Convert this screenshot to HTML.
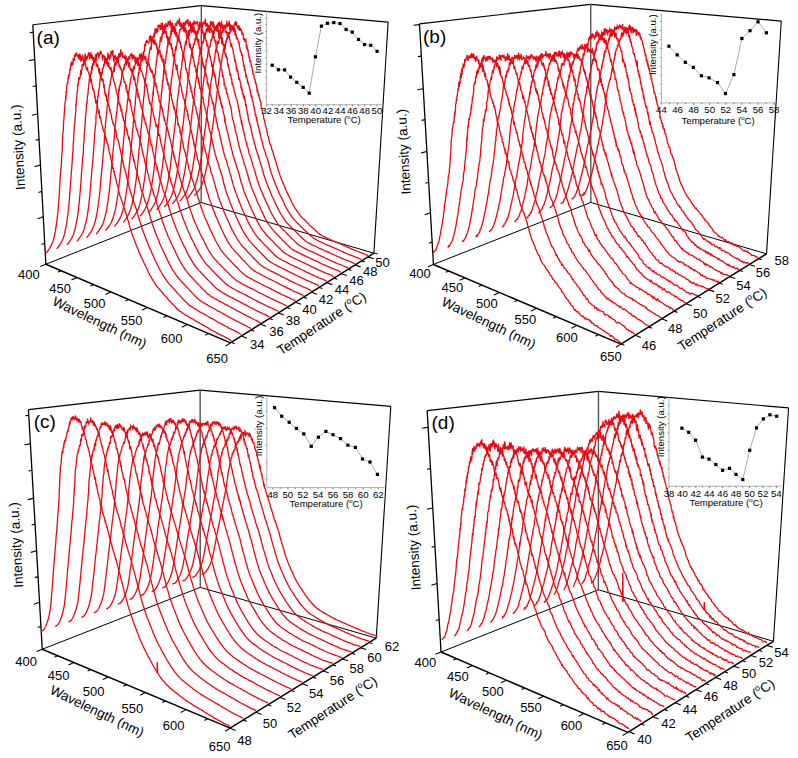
<!DOCTYPE html>
<html><head><meta charset="utf-8"><style>
html,body{margin:0;padding:0;background:#fff;}
svg{display:block;}
text{font-family:"Liberation Sans", sans-serif;fill:#000;}
</style></head><body>
<svg width="798" height="758" viewBox="0 0 798 758">
<rect width="798" height="758" fill="#fff"/>
<g id="pa">
<line x1="32.81" y1="24.73" x2="201.31" y2="5.67" stroke="#000" stroke-width="1.2"/>
<line x1="201.31" y1="5.67" x2="388.12" y2="22.06" stroke="#000" stroke-width="1.2"/>
<line x1="45.86" y1="264.22" x2="32.81" y2="24.73" stroke="#000" stroke-width="1.3"/>
<line x1="201.2" y1="202.56" x2="201.31" y2="5.67" stroke="#555" stroke-width="1.4"/>
<line x1="373.9" y1="253.17" x2="388.12" y2="22.06" stroke="#000" stroke-width="1.1"/>
<line x1="45.86" y1="264.22" x2="201.2" y2="202.56" stroke="#000" stroke-width="1.0"/>
<line x1="201.2" y1="202.56" x2="373.9" y2="253.17" stroke="#000" stroke-width="1.0"/>
<line x1="45.86" y1="264.22" x2="230.43" y2="342.92" stroke="#000" stroke-width="1.5"/>
<line x1="230.43" y1="342.92" x2="373.9" y2="253.17" stroke="#000" stroke-width="1.5"/>
<line x1="33.22" y1="32.2" x2="29.74" y2="32.62" stroke="#000" stroke-width="1.1"/>
<line x1="34.71" y1="59.6" x2="28.78" y2="60.51" stroke="#000" stroke-width="1.1"/>
<line x1="36.15" y1="85.9" x2="32.7" y2="86.54" stroke="#000" stroke-width="1.1"/>
<line x1="37.68" y1="114" x2="31.81" y2="115.28" stroke="#000" stroke-width="1.1"/>
<line x1="39.06" y1="139.4" x2="35.66" y2="140.24" stroke="#000" stroke-width="1.1"/>
<line x1="40.46" y1="165" x2="34.68" y2="166.61" stroke="#000" stroke-width="1.1"/>
<line x1="41.89" y1="191.4" x2="38.55" y2="192.44" stroke="#000" stroke-width="1.1"/>
<line x1="43.28" y1="216.8" x2="37.6" y2="218.73" stroke="#000" stroke-width="1.1"/>
<line x1="44.72" y1="243.2" x2="41.44" y2="244.42" stroke="#000" stroke-width="1.1"/>
<line x1="45.86" y1="264.22" x2="40.29" y2="266.43" stroke="#000" stroke-width="1.1"/>
<line x1="61.16" y1="270.74" x2="57.92" y2="272.08" stroke="#000" stroke-width="1.1"/>
<line x1="77.05" y1="277.52" x2="71.53" y2="279.88" stroke="#000" stroke-width="1.1"/>
<line x1="93.57" y1="284.56" x2="90.37" y2="285.99" stroke="#000" stroke-width="1.1"/>
<line x1="110.75" y1="291.89" x2="105.31" y2="294.42" stroke="#000" stroke-width="1.1"/>
<line x1="128.64" y1="299.52" x2="125.49" y2="301.05" stroke="#000" stroke-width="1.1"/>
<line x1="147.29" y1="307.47" x2="141.94" y2="310.19" stroke="#000" stroke-width="1.1"/>
<line x1="166.73" y1="315.76" x2="163.65" y2="317.41" stroke="#000" stroke-width="1.1"/>
<line x1="187.04" y1="324.42" x2="181.8" y2="327.35" stroke="#000" stroke-width="1.1"/>
<line x1="208.25" y1="333.46" x2="205.24" y2="335.24" stroke="#000" stroke-width="1.1"/>
<line x1="230.43" y1="342.92" x2="225.35" y2="346.11" stroke="#000" stroke-width="1.1"/>
<line x1="231.45" y1="342.29" x2="234.67" y2="343.66" stroke="#000" stroke-width="1.1"/>
<line x1="241.4" y1="336.06" x2="246.94" y2="338.36" stroke="#000" stroke-width="1.1"/>
<line x1="251.06" y1="330.02" x2="254.3" y2="331.33" stroke="#000" stroke-width="1.1"/>
<line x1="260.44" y1="324.15" x2="266.02" y2="326.36" stroke="#000" stroke-width="1.1"/>
<line x1="269.55" y1="318.45" x2="272.81" y2="319.71" stroke="#000" stroke-width="1.1"/>
<line x1="278.4" y1="312.91" x2="284.01" y2="315.03" stroke="#000" stroke-width="1.1"/>
<line x1="287" y1="307.53" x2="290.29" y2="308.74" stroke="#000" stroke-width="1.1"/>
<line x1="295.37" y1="302.3" x2="301.01" y2="304.34" stroke="#000" stroke-width="1.1"/>
<line x1="303.51" y1="297.2" x2="306.81" y2="298.37" stroke="#000" stroke-width="1.1"/>
<line x1="311.43" y1="292.25" x2="317.1" y2="294.21" stroke="#000" stroke-width="1.1"/>
<line x1="319.15" y1="287.42" x2="322.46" y2="288.55" stroke="#000" stroke-width="1.1"/>
<line x1="326.66" y1="282.72" x2="332.35" y2="284.62" stroke="#000" stroke-width="1.1"/>
<line x1="333.98" y1="278.14" x2="337.3" y2="279.23" stroke="#000" stroke-width="1.1"/>
<line x1="341.11" y1="273.68" x2="346.82" y2="275.51" stroke="#000" stroke-width="1.1"/>
<line x1="348.06" y1="269.33" x2="351.4" y2="270.38" stroke="#000" stroke-width="1.1"/>
<line x1="354.84" y1="265.09" x2="360.57" y2="266.86" stroke="#000" stroke-width="1.1"/>
<line x1="361.46" y1="260.95" x2="364.8" y2="261.97" stroke="#000" stroke-width="1.1"/>
<line x1="367.91" y1="256.91" x2="373.66" y2="258.63" stroke="#000" stroke-width="1.1"/>
<line x1="374.21" y1="252.97" x2="377.57" y2="253.95" stroke="#000" stroke-width="1.1"/>
<text x="28.8" y="279.4" font-size="13" text-anchor="middle">400</text>
<text x="60.2" y="293" font-size="13" text-anchor="middle">450</text>
<text x="94.7" y="308.3" font-size="13" text-anchor="middle">500</text>
<text x="131.6" y="325.1" font-size="13" text-anchor="middle">550</text>
<text x="171.7" y="342.6" font-size="13" text-anchor="middle">600</text>
<text x="217.2" y="362.5" font-size="13" text-anchor="middle">650</text>
<text x="257.2" y="349.3" font-size="13" text-anchor="middle">34</text>
<text x="276.5" y="336.3" font-size="13" text-anchor="middle">36</text>
<text x="293" y="324.7" font-size="13" text-anchor="middle">38</text>
<text x="309.6" y="314.3" font-size="13" text-anchor="middle">40</text>
<text x="326.1" y="303.8" font-size="13" text-anchor="middle">42</text>
<text x="342.1" y="294.4" font-size="13" text-anchor="middle">44</text>
<text x="356.5" y="285.3" font-size="13" text-anchor="middle">46</text>
<text x="370.2" y="275.7" font-size="13" text-anchor="middle">48</text>
<text x="382.6" y="267.4" font-size="13" text-anchor="middle">50</text>
<text x="97.7" y="326.6" font-size="13.5" text-anchor="middle" transform="rotate(25.5 97.7 326.6)">Wavelength (nm)</text>
<text x="324.1" y="327.3" font-size="13.5" text-anchor="middle" transform="rotate(-33.3 324.1 327.3)">Temperature (<tspan font-size="8.5" dy="-5.5">o</tspan><tspan dy="5.5">C)</tspan></text>
<text x="22.8" y="147" font-size="13.5" text-anchor="middle" transform="rotate(-93.13 22.8 147)">Intensity (a.u.)</text>
<text x="36.6" y="43.7" font-size="19" text-anchor="start">(a)</text>
<g fill="none" stroke="#ee0610" stroke-width="1.3">
<path d="M194.4 195.7l.6-.6 .6-.5 .6-.9 .6-.8 .6-.8 .6-.8 .6-.7 .6-.9 .6-.8 .6-1 .6-1.2 .6-1.4 .6-1.5 .6-1.7 .6-1.9 .6-2.1 .6-1.9 .6-2.3 .6-2.7 .6-2.9 .7-3.2 .6-3.7 .6-3.1 .6-4.1 .7-4.5 .6-4.8 .6-4.1 .7-5.3 .6-5.5 .7-4.1 .3-2.5 .3-2.1 .4-3.2 .3-1.8 .3-2.2 .3-2.7 .4-3.5 .3-2.1 .3-1.5 .4-2.4 .3-5 .3-.8 .4-4.2 .3-1.7 .3-3.2 .4-1.5 .3-.8 .4-6.2 .3-.9 .3-2.2 .4-4.4 .3-1.3 .4-2.8 .3-.7 .3-2.6 .4-2.6 .3-.6 .4-4 .3-1.4 .3-.7 .4-1.6 .3-3.5 .4 .1 .3-2.3 .4-1 .3-.4 .3 3.7 .4-7 .3-1.9 .3 1.4 .4-1 .4-3.8 .3 2.7 .3-5.3 .4 .2 .3-2.4 .3 1.8 .4-1.1 .3-1.1 .3 2.6 .4-1.9 .4-4.4 .3 2.9 .3 0 .4-3 .4-2.5 .3 2.5 .3 0 .4-.8 .3-1.2 .3 3.6 .4-4.1 .3-.4 .4-1.5 .3-.3 .4 .7 .3-2.9 .3 4 .4 .3 .3-3.4 .4 3.3 .3 1.6 .3 .3 .4-.7 .3 3.1 .4-4.3 .3 1.9 .3-1.5 .3 5 .4-.9 .3 1.1 .4-1.8 .3 .9 .3-.1 .4 .7 .3 4 .3-1.9 .4 1.1 .3 1 .3-.2 .3 5.1 .4-1.4 .3 .1 .3 1.9 .4 1.4 .4-2.7 .3 1 .3-.4 .3 5.7 .3 3.4 .4-3.7 .3 2.9 .3 2.5 .4-1.2 .3 2.4 .3 3.9 .3-1.3 .3 4 .4-1.8 .3 4.1 .3 1.8 .4-1.8 .3 1.1 .3 3.1 .3 2.5 .3-1 .4 2 .3 1.2 .3 2.2 .3 2.7 .3 .1 .4-.9 .3 3.8 .3 .7 .3 1.3 .4 .3 .3 2.1 .3 2.1 .4-1.2 .3 3.1 .3 1.2 .3 2.3 .3 2 .4-.7 .3 1.9 .3 .5 .3 3.6 .4-2.5 .3 2.7 .3 .6 .3 2.9 .4 .3 .3 1.3 .3 .7 .3 1.9 .3 3.8 .4-.1 .3 1.7 .3 1.9 .3 1.2 .3 1.3 .4 1.2 .3 2.8 .3 1.1 .3 .8 .4 .9 .3 2.4 .3 .7 .3 2.1 .3 .6 .4 1.5 .3 1 .3 1 .3 2.5 .3 .8 .3 2.4 .4 .3 .3 .6 .3 2.8 .3 .7 .7 3.5 .7 .6 .6 1.5 .7 3.3 .6 1.5 .7 1.6 .6 2.8 .7 1.7 .6 2.4 .7 2 .7 2.2 .6 2.1 .7 2.4 .6 2.3 .7 2.1 .6 1.6 .7 2 .7 1.8 .6 2.2 .7 1.3 .7 1.9 .6 1 .7 1.9 .7 1.4 .6 1.9 .7 1.6 .7 1.4 .7 1.2 .7 1.6 .6 1.2 .7 1.2 .7 1.6 .7 1.3 .7 1.8 .6 1.3 .7 1.2 .7 1.2 .7 1.3 .7 1 .7 1 .7 1.1 .7 1.1 .7 1.2 .7 .7 .7 1 .7 1 .7 .7 .7 .9 .7 .7 .7 .7 .8 .7 .7 .6 .7 .6 .7 .9 .7 .7 .7 .8 .8 .6 .7 .7 .7 .9 .7 .6 .8 .4 .7 .9 .7 .6 .7 .8 .8 .5 .7 .8 .7 .7 .7 .8 .8 .6 .7 .5 .7 .9 .8 .6 .7 .7 .8 .2 .7 .6 .7 .4 .8 .4 .7 .4 .8 .3 .7 .5 .8 .3 .8 .4 .7 .3 .8 .3 .7 .4 .8 .4 .7 .3 .8 .4 .8 .2 .7 .4 .8 .4 .8 .2 .7 .4 .8 .3 .8 .3 .8 .5 .7 .3 .8 .2 .8 .2 .8 .5 .7 .4 .8 .4 .8 .3 .8 .2 .7 .6 .8 .3 .8 .2 .8 .5 .8 .4 .8 .2 .7 .3 .8 .3 .8 .3 .8 .7 .8 .2 .8 .3 .8 .3 .8 .4 .8 .3 .8 .3 .8 .3 .8 .4 .8 .2 .8 .4 .8 .4 .8 .2 .8 .2 .8 .6 .8 .1 .8 .2 .8 .4 .9 .4 .8 .3 .8 .3 .8 .5"/>
<path d="M187.2 198.3l.6-.5 .5-.7 .6-.8 .6-.8 .6-.7 .6-.7 .6-.7 .6-1.2 .6-.8 .6-1 .6-1.1 .6-1.3 .6-1.8 .6-1.6 .6-1.9 .6-2.2 .6-2 .6-2.4 .6-2.6 .6-2.9 .6-2.9 .7-3.7 .6-4.1 .6-3.5 .6-4.7 .6-4.8 .7-5.7 .6-4.9 .6-4 .7-4.9 .3-3.1 .3-2 .3-2.3 .4-3.1 .3-2.2 .3-2.4 .3-4.5 .4-1.1 .3-1.7 .3-4.1 .3-2.9 .4-4.1 .3-1.6 .3-1.6 .4-3.4 .3-.9 .3-3.3 .4-3.3 .3-1.1 .3-1.1 .4-3.5 .3-2.6 .3-4 .4-1 .3-2.8 .3-1 .4-3.4 .3-1.1 .4-3.6 .3-1.4 .4-3.6 .3-.3 .3-.1 .3-.5 .4-3 .3-2.1 .4-2.6 .3 2.3 .3 .2 .4-.2 .3-2.5 .4-2.5 .3-.8 .4-.9 .3-1.5 .3-1.6 .4 2.9 .3-4 .4-.4 .3-.7 .3-.2 .4 2.1 .3-5.1 .4 1.3 .3-1.2 .4-1.3 .3 .2 .3-1.1 .4-.4 .3 2.4 .4 .1 .3-4.3 .3 3 .4-6.3 .3 6.5 .4-2.7 .3 .3 .4-.7 .3 2.5 .4-2.5 .3-3.2 .3 5.5 .3 3.8 .4-5.5 .4 .9 .3-.1 .3 3.5 .4-2 .3-.5 .3 3.2 .4-.6 .3-.3 .4 .1 .3 2.5 .3-.2 .4-2.8 .4 .6 .2 6.7 .4-5.4 .3 5.6 .4-1.9 .3 5.1 .3-1 .4 1.7 .3-1.8 .3 2 .4 .6 .3 1.1 .3 1.5 .4-.1 .3 2.6 .3 1.7 .4 2.2 .3 1.8 .3 .8 .4 0 .3 .5 .3 3.2 .4-1.7 .3 2.6 .3 3.3 .3 1 .4 2 .2 3.9 .4-2.3 .3 2.2 .3 3.9 .4-2 .3 3.3 .3 .9 .3 3.3 .4-.7 .3 .8 .4 2.4 .3 .9 .3 3.6 .4-1.4 .3 2 .3 1.3 .3 .6 .4 1 .3 2.4 .3 .3 .4 .3 .3 4.1 .3 0 .3 2.8 .4-.7 .3 .3 .3 2.7 .3 2.2 .4 .8 .3 .6 .3 3.1 .3 1.5 .4 .1 .3 3.1 .3 .5 .3 2.6 .3 1.9 .4-.2 .3 1.3 .3 2.7 .4-.7 .3 2.9 .3 1.1 .4 1.5 .3 2.2 .3 0 .3 2 .4 1.2 .3 1.6 .3 1.8 .3-.1 .4 2.5 .3 1.7 .3 .9 .3 2.2 .4 .5 .3 .1 .6 4 .7 1.7 .7 2.9 .6 1.6 .7 1.7 .6 2.8 .7 2 .7 1.3 .7 2.4 .6 2.2 .7 2.4 .6 2.9 .7 2.4 .6 2.3 .7 1.4 .7 2.5 .6 1.9 .7 1.5 .7 1.7 .7 1.6 .6 2.2 .7 1 .7 2.1 .7 1.4 .7 1.6 .6 1.7 .7 1.2 .7 1.5 .7 1.3 .7 1.3 .7 1.3 .7 1.6 .6 1.5 .7 1.6 .7 1.6 .7 1.1 .7 1.3 .7 1.2 .7 1.2 .7 1.1 .7 1.2 .7 .7 .7 1.2 .7 1.2 .7 .8 .7 .8 .7 1.1 .7 .7 .8 .8 .7 .7 .7 .8 .7 .7 .7 .6 .8 .7 .7 1 .7 .5 .7 .8 .8 .7 .7 .7 .7 .6 .7 .8 .8 .8 .7 .5 .7 .8 .8 .6 .7 .7 .7 .6 .8 .9 .7 .7 .7 .6 .8 .6 .7 .7 .8 .5 .7 .6 .7 .5 .8 .5 .8 .1 .7 .5 .8 .7 .7 .1 .8 .5 .7 .4 .8 .4 .8 .2 .7 .4 .8 .4 .8 .4 .7 .3 .8 .3 .8 .5 .7 .3 .8 .3 .8 .4 .8 .2 .7 .4 .8 .3 .8 .4 .8 .3 .7 .4 .8 .3 .8 .4 .8 .5 .8 .2 .7 .3 .8 .4 .8 .2 .8 .4 .8 .3 .8 .5 .8 .4 .8 .3 .8 .2 .8 .6 .8 .2 .7 .4 .8 .4 .8 .2 .8 .4 .8 .3 .8 .5 .9 .2 .8 .5 .8 .1 .8 .5 .8 .2 .8 .3 .8 .4 .8 .2 .8 .4 .9 .1 .8 .6 .8 .3 .8 .4 .8 .1 .8 .6"/>
<path d="M179.7 201l.6-.3 .6-.6 .6-.9 .6-.7 .6-.9 .6-.7 .6-.9 .6-1.1 .6-.8 .6-1 .6-1.2 .6-1.3 .5-1.5 .6-1.7 .6-2.1 .6-2 .6-2.3 .6-2.3 .6-3 .7-2.6 .6-3.4 .6-3.3 .6-4.1 .6-3.6 .6-4.5 .6-4.5 .6-5.8 .7-5.5 .6-4.9 .6-3.7 .3-3.4 .3-1.6 .4-1.9 .3-2.7 .3-4 .3-1.7 .3-2.1 .3-3.9 .4-2.9 .3-2.5 .3-3.6 .3-2.2 .4-4.1 .3-2.2 .3-1.7 .3-3 .4-3 .3-1.5 .3-3.2 .3-1.7 .4-2.2 .3-.5 .3-3.2 .4-2.5 .3-3.7 .3-5.6 .4 2.7 .3-2.7 .3-.8 .4-3.1 .3-2 .3-3.1 .4 1.7 .3-4.4 .4-.9 .3-.3 .3 .4 .4-1.5 .3-2.6 .3-2.5 .4 .1 .3 .1 .4-2.9 .3 1.4 .3-4.4 .4-5 .3 5.8 .4-4 .3 3.1 .3-2.8 .4-1.6 .3-2 .4 1.7 .3-3.2 .3 4.8 .4-2.6 .3-.8 .4-.6 .3 .1 .4-4.4 .3 4.3 .4-3.2 .3 .9 .4-3.7 .3 4.6 .3-2.2 .4 .2 .3 8 .4-7.6 .3-1.3 .4-.8 .3 5.7 .3-1.4 .4-2.7 .3 5.4 .3-.2 .4-2.5 .3 .3 .4-.9 .3 .9 .4 2.4 .3 3.1 .3-.2 .4-.7 .3-.1 .4 1.3 .3-.8 .3 3.8 .4 .1 .3 2.5 .4-5.5 .3 5 .4-1.3 .3 .3 .3 2.6 .4 2 .3 1.5 .3 .6 .3 3.8 .4-1 .4-1 .3 2.2 .3 .4 .4 1.5 .3 1.6 .3 2.4 .4 1.4 .3 .4 .3 3.5 .3 3 .4-1.9 .3 2.7 .4 0 .3 3.9 .3 2.8 .3-.7 .4 2 .3 1.9 .4-2 .3 3.1 .3 3.3 .3 2 .4-.5 .3 .6 .3 1.8 .4 .3 .3 2.4 .3 1.2 .3 4.1 .4-2.2 .3 3.3 .4-.2 .3 3.8 .3 .6 .4-.9 .3 3.6 .3-.2 .4 1.8 .3-.8 .4 2.5 .3 .5 .3 2.6 .3 3 .4-1.8 .3 3.9 .3 1.1 .4 1.8 .3 2.9 .3-.1 .3 2.4 .3 2.6 .4 1.3 .3 2 .3 .3 .4 1 .3 1.9 .3 .8 .4 1.6 .3 .8 .3 1.7 .4 1.6 .3 1.8 .3 1.7 .3 1.3 .4 .7 .3 1.9 .4 .3 .3 1.7 .3 2.3 .3 .4 .7 2 .7 3.2 .6 1.4 .7 3 .7 1.1 .7 2.5 .6 2.3 .7 2.6 .7 1.6 .6 2.5 .7 2 .7 2.8 .6 2 .7 2.5 .7 1.9 .7 1.9 .6 2.1 .7 1.7 .7 1.7 .7 2.2 .7 1.4 .6 1.7 .7 1.4 .7 2 .7 1.4 .7 2 .7 1 .7 1.6 .6 1.5 .7 1.3 .7 1.8 .7 1.2 .7 1.5 .7 1.5 .7 1.5 .7 1.1 .7 1.4 .7 1.3 .7 1.1 .7 1 .7 1.1 .7 1.2 .7 1.1 .7 1.2 .8 .9 .7 .9 .7 .9 .7 .6 .7 .9 .8 .6 .7 .9 .7 .7 .7 .8 .7 .8 .8 .6 .7 .6 .7 .8 .8 .8 .7 .7 .7 .7 .8 .7 .7 .5 .7 .9 .8 .9 .7 .7 .7 .6 .8 .7 .7 .6 .8 .8 .7 .7 .7 .6 .8 .8 .7 .5 .8 .4 .7 .6 .8 .5 .8 .3 .7 .3 .8 .5 .7 .6 .8 .3 .8 .3 .7 .3 .8 .5 .8 .3 .7 .3 .8 .3 .8 .5 .7 .4 .8 .4 .8 .2 .8 .4 .8 .3 .7 .4 .8 .3 .8 .3 .8 .5 .8 .3 .7 .3 .8 .4 .8 .5 .8 0 .8 .7 .8 .1 .8 .6 .8 .2 .7 .6 .8 .1 .8 .4 .8 .3 .8 .5 .8 .3 .8 .4 .8 .3 .8 .4 .8 .2 .8 .6 .8 .4 .8 .3 .9 .1 .8 .5 .8 .4 .8 .3 .8 .3 .8 .3 .8 .3 .8 .4 .9 .2 .8 .4 .8 .2 .8 .4 .8 .4 .9 .5 .8 .2 .8 .4"/>
<path d="M172.2 204l.6-.5 .5-.6 .6-.8 .6-.9 .6-.9 .6-.6 .6-.9 .6-1 .6-.9 .6-1.1 .6-1.1 .6-1.5 .6-1.5 .5-1.8 .6-1.9 .6-2.2 .6-2.4 .6-2.1 .6-3 .6-2.8 .6-3.1 .6-3.8 .6-3.9 .6-4 .6-4.7 .6-4.2 .6-6.4 .6-5 .7-5 .6-3.8 .3-3.5 .3-2 .3-2.5 .3-2.8 .3-1.6 .3-4.4 .3-2.7 .4-2.8 .3-3.5 .3-.6 .3-4.1 .3-2.9 .3-2 .4-4.5 .3-4.2 .3 1 .3-4.3 .3-2 .4-2.6 .3-2.5 .3-3.2 .3-.9 .4-2.7 .3-5 .3-.2 .3-2.2 .4 .3 .3-5.3 .3-2.2 .4-1.4 .3-3.9 .3 3.9 .4-6.1 .3 2.7 .3-2.3 .4 .4 .3-6.1 .3 .5 .4-.6 .3-2 .3 2.7 .4-3.8 .3-2.5 .4 .5 .3-2 .3 2 .4-4.3 .3 .1 .4-1.9 .3-3.4 .3 2.2 .4 .7 .3-2.6 .4 2.5 .3-6.2 .4 3 .3-.4 .3-1.4 .4 3.3 .3-2.9 .4 .1 .3-5.4 .4 1.2 .3-1.1 .3 3.6 .4-.3 .3-2.1 .4 3.7 .3 .6 .4-5.3 .3 2.6 .4 .3 .3 5 .3-2.3 .4 .5 .3 .9 .4-1.7 .3 3.1 .3 1 .4-6 .4 3.6 .3 3.6 .4-5.9 .3 3.9 .3 1 .3 6.9 .4-7.8 .4 3.4 .3-1.3 .4-.2 .3 6.7 .4-5.2 .3 2.8 .3 2.3 .3 5.5 .4-7.1 .4 4.1 .3 .5 .3 4.5 .4-2.1 .3 1.4 .4-.3 .3 5.6 .3 3.6 .4-1.2 .3 2.1 .3-.6 .4 2.2 .3 1 .4-.2 .3 1 .3 4 .3 3.9 .4-.9 .3 1.7 .4 1.3 .3 1.5 .4 1.3 .3 4.3 .3-2.2 .4 1.5 .3 1.7 .3 2 .4 .2 .3 4.6 .4-.5 .3 .6 .3 2.7 .4 .9 .3 .2 .3 2.7 .4 2.1 .3 .8 .4 .4 .3 2.7 .3 .1 .4 1.7 .3 .7 .4 .6 .3 1.4 .3 1.9 .4 1.3 .3 1 .3 2.9 .4 .8 .3 2.8 .3-.2 .4 2.6 .3 2.8 .3 1 .4 .7 .3 1.9 .3 2.8 .4-.9 .3 2.5 .3 1.3 .4 1.8 .3 1.7 .3 1.9 .4 .4 .3 1.5 .3 1.7 .4 .9 .3 1.7 .3 2.2 .4 1.1 .3 .6 .3 2.6 .4-.4 .3 2.5 .7 1 .7 3.3 .6 3.2 .7 1.3 .7 2.3 .7 2.3 .7 1.9 .6 2.1 .7 3.4 .7 .9 .7 2.8 .7 2.3 .6 2.3 .7 2.5 .7 2.4 .7 1.5 .6 2.3 .7 1.7 .7 2.1 .7 1.6 .7 1.9 .7 1.2 .7 2.2 .7 1.3 .7 2.1 .7 1.2 .6 1.7 .7 1.3 .7 1.6 .7 1.2 .7 1.3 .7 1.9 .7 1.4 .7 1.7 .7 1.5 .7 1.2 .7 1.2 .8 1.3 .7 1.3 .7 1 .7 1.5 .7 1 .7 1 .7 1.2 .7 .7 .8 1 .7 .9 .7 .8 .7 1 .8 .6 .7 .9 .7 .6 .7 .7 .8 .6 .7 .9 .7 .7 .8 .8 .7 .9 .8 .5 .7 .8 .7 .8 .8 .6 .7 .9 .7 .7 .8 .6 .7 .7 .8 .8 .7 .7 .8 .8 .7 .6 .7 .8 .8 .8 .8 .4 .7 .4 .8 .6 .7 .4 .8 .4 .8 .5 .7 .5 .8 .3 .8 .4 .7 .4 .8 .4 .8 .5 .7 .3 .8 .4 .8 .3 .8 .3 .7 .4 .8 .2 .8 .4 .8 .4 .8 .3 .7 .3 .8 .4 .8 .5 .8 .2 .8 .4 .8 .4 .8 .4 .8 .4 .7 .3 .8 .6 .8 0 .8 .5 .8 .3 .8 .5 .8 .4 .8 .3 .8 .4 .8 .3 .8 .5 .8 .4 .8 .3 .8 .4 .8 .3 .9 .5 .8 .2 .8 .3 .8 .5 .8 .3 .8 .4 .8 .3 .9 .3 .8 .2 .8 .4 .8 .4 .8 .2 .9 .5 .8 .4 .8 .3 .8 .4 .9 .2 .8 .6 .8 .2"/>
<path d="M164.4 207l.6-.8 .6-.5 .6-.9 .6-.8 .6-.9 .6-.8 .5-.8 .6-.9 .6-1.1 .6-1.1 .6-1.2 .6-1.3 .6-1.7 .6-1.9 .6-1.8 .6-2.3 .5-2.3 .6-2.7 .6-2.5 .6-3 .6-3.6 .6-3.6 .6-3.3 .6-5 .6-4.4 .6-5.1 .6-5.1 .5-5.7 .6-4.9 .6-5.9 .4-2.1 .3-3 .3-1.1 .3-2.7 .3-3 .3-2.5 .3-4.4 .3-2.1 .3-2 .3-3.7 .3-4.8 .3-1.2 .3-3.7 .4-.6 .3-3.6 .3-3 .3-2.5 .3-2.9 .3-3 .3-3.6 .4 .9 .3-4.7 .3-3.3 .3-1.8 .3-3.7 .4-.5 .3-1.8 .3-1.6 .3-4.7 .4 1.5 .3-3.2 .3-2.4 .4-2.7 .3 .1 .3-.3 .3-3.9 .4 1.8 .3-2 .4 1.1 .3-5.1 .3-1.1 .4 2.4 .3-3.9 .3-2.5 .4 1.3 .3 1 .3-4 .4-2.3 .3 4.1 .4-6.2 .3 1.1 .3-2.7 .4 3.4 .3-4.7 .4 .8 .3-1.5 .4 1.1 .3-2.3 .3 2.1 .4 .2 .3 .9 .4 .8 .3-3.8 .4 .6 .3-.7 .4 .3 .3-1.5 .3 .6 .4 1.4 .3-2.8 .4-2.7 .3 6.7 .4-.6 .3-1.7 .4 3.2 .3-3.3 .4 4.1 .3 1.6 .4-.1 .3-3.7 .3 7 .4-3.9 .3 5.3 .4-5.4 .3 1.4 .4 .1 .3-2.2 .4 5.2 .3-1.7 .4 2 .3-.1 .4 4.4 .3-2.8 .4 3.7 .3-2.5 .4 2 .3 2.7 .4 .1 .3 1.3 .3 1.8 .4-3.1 .3 7.7 .4 2.3 .3 1.4 .4-.4 .3 1.2 .4 .3 .3 1.1 .3 2.8 .4 1.7 .3 3.2 .4-1.4 .3 1 .3 3.7 .4 .3 .3 3.4 .4 .6 .3 1.3 .4 .4 .3 4.6 .3-.5 .4 .4 .3 2.2 .4 1.1 .3 5.4 .3-.6 .4 1 .3 1.8 .4 3.3 .3-2.5 .4 2.3 .3 3.8 .3-.3 .4 .8 .3 .3 .4 1.6 .3 3 .4 .8 .3 .5 .4 .6 .3 2.7 .3 1.6 .4 .4 .3 2.1 .4 .6 .3 2.5 .3 1.3 .4 4.3 .3 1.2 .3 1.8 .4 1 .3 .8 .4 1.9 .3 1 .3 2.3 .4 .3 .3 1.5 .3 3.1 .4 1 .3 1.2 .4 .6 .3 1.6 .4 .9 .3 3.5 .3 .5 .4 1.6 .3 1.6 .3 1.3 .4 2.3 .3 .1 .7 2.8 .7 2.8 .7 1.1 .7 3.2 .7 1.8 .6 2.5 .7 2.5 .7 1.7 .7 2 .7 2.8 .7 2 .7 2.1 .6 2.7 .7 2.8 .7 2.3 .7 1.7 .7 2.5 .7 1.9 .7 1.2 .7 2.1 .7 1.8 .7 1.9 .7 1.1 .7 1.7 .7 2.2 .7 1.5 .7 1.8 .7 1.4 .7 1.4 .7 1.5 .7 1.7 .7 1.4 .7 1.2 .7 1.8 .7 1.4 .7 1.6 .7 1.4 .7 1.4 .7 1.2 .7 1.3 .8 1.1 .7 1.1 .7 .9 .7 1.3 .8 .8 .7 1.2 .7 .4 .7 1.2 .8 .7 .7 .7 .7 1 .8 .7 .7 .7 .7 .7 .8 .9 .7 .6 .8 .8 .7 .9 .7 .6 .8 .9 .7 .8 .8 .7 .7 .6 .7 1 .8 .6 .7 .6 .8 .9 .7 .7 .8 .8 .7 .6 .8 .8 .7 .6 .8 .7 .8 .6 .7 .6 .8-.1 .7 .9 .8 .4 .8 .5 .8 .1 .7 .5 .8 .3 .8 .6 .8 .2 .7 .5 .8 .2 .8 .5 .8 .6 .8 .2 .7 .4 .8 .1 .8 .7 .8 .2 .8 .4 .8 .4 .8 .4 .8 .3 .7 .3 .8 .5 .8 .3 .8 .4 .8 .5 .8 .3 .8 .3 .8 .3 .8 .4 .8 .4 .8 .4 .8 .5 .8 .2 .8 .5 .8 .4 .9 .4 .8 .3 .8 .4 .8 .3 .8 .4 .8 .4 .8 .3 .9 .5 .8 .1 .8 .6 .8 .3 .8 .2 .9 .6 .8 .1 .8 .4 .9 .3 .8 .4 .8 .4 .9 .1 .8 .5 .8 .4 .8 .4 .9 .4"/>
<path d="M156.5 209.9l.6-.6 .6-.9 .6-.6 .6-.8 .5-1 .6-.8 .6-.9 .6-.8 .6-1.2 .6-1 .6-1.2 .6-1.5 .5-1.7 .6-1.6 .6-2.1 .6-2.3 .6-2.2 .6-2.6 .6-2.8 .5-3 .6-3.7 .6-3.8 .6-3.3 .6-4.5 .5-5.1 .6-5.1 .6-4.6 .6-6.2 .6-5.7 .5-4.9 .3-2.6 .3-2.1 .3-2.7 .3-1.9 .3-3.4 .3-4.3 .3-1.3 .3-2.4 .3-4.2 .3-1.1 .3-6.7 .3-1.6 .3-2.2 .3-2.6 .4-2.1 .3-3.7 .3-2.6 .3-.8 .3-5.6 .3-1 .3-1.7 .3-5.1 .3-2.3 .4-.7 .3-2.3 .3-4.9 .3-.1 .3-3.1 .3-3.9 .4 2.1 .3-1.4 .3-2.8 .4-2.1 .3-2.5 .3-3 .3 1.1 .4-5.1 .3 1.4 .3 2.7 .4-4.7 .3-2.6 .3-1.9 .4 2.3 .3-2.2 .3-5.7 .4 3.1 .3 1.2 .4 .4 .3-3.1 .3-2.4 .4 2.3 .3-5.9 .3 3.8 .4 1.9 .3-6 .4 .8 .3 .2 .3-3.7 .4 3.7 .3-3.2 .4 2.4 .3-5.2 .4 3.3 .3-.3 .4-1.5 .3 1.4 .4-1.3 .3 1.5 .3-1.9 .4 1.3 .3 1.6 .4-2.2 .3 .6 .4 3.8 .3-1.2 .4 3.5 .3-3.4 .4-1.1 .3-3 .4 5.2 .3-1.1 .4-.4 .3 2.3 .4 6.1 .3-2.3 .4-.9 .3 .8 .4 1.2 .3 2.9 .4 2.8 .3-3.7 .4-.7 .3 4.2 .4-1.1 .3 3.1 .4 .2 .3 1.9 .4-1.6 .3 4.6 .4-.8 .3 0 .4 3.1 .3 3.6 .4-1.4 .3 2.5 .4 3.5 .3-.4 .4 1.8 .3 .1 .4 3.4 .3 .7 .4 .7 .3 5.4 .4-2.8 .3 2.9 .4 3 .3-.2 .4 .2 .3 3.9 .4 1.4 .3-1.1 .4 1.2 .3 1 .3 4.1 .4 2.7 .3 1.5 .4 .7 .3 2.3 .4-.3 .3 .5 .4 4.1 .3-1.5 .4 4 .3 1.1 .4 2 .3-.9 .4 2.1 .3 1.2 .3 4.2 .4-1 .4 .6 .3 4.3 .4-2.9 .3 3.2 .3 1 .4 3 .3 .8 .4 1.5 .3 .7 .3 4.7 .4-.8 .3 4 .4 .6 .3 1.9 .4 1.4 .3 2.6 .4 .3 .3 2.1 .4 .8 .3 1.2 .3 1.6 .4 1.7 .3 .7 .4 2.2 .3 1.3 .4 1.1 .3 2.3 .3 1.3 .4 1 .3 1.8 .7 1.8 .7 3.4 .7 2.1 .7 2.3 .7 2.3 .7 2 .7 2.4 .7 2.9 .7 1 .7 3 .7 2.1 .7 3.1 .7 2 .6 3 .8 1.5 .6 2.5 .7 2.1 .7 2.6 .7 1.7 .7 1.4 .7 1.9 .7 1.8 .8 1.7 .7 1.4 .7 2 .7 1.6 .7 1.7 .7 1.6 .7 1.4 .7 1.6 .7 1.4 .7 1.4 .7 1.7 .8 1.4 .7 1.6 .7 1.7 .7 1.2 .7 1.1 .7 1.5 .8 1.1 .7 1.4 .7 1.3 .7 1.1 .7 .9 .8 1 .7 .6 .7 1.1 .8 .9 .7 .8 .7 1 .8 .7 .7 .8 .8 .5 .7 1 .7 .9 .8 .6 .7 .8 .8 .8 .7 .7 .8 .8 .7 .9 .8 .7 .7 .5 .8 1 .7 .6 .8 .9 .7 .8 .8 .6 .7 .8 .8 .6 .7 .8 .8 .7 .8 .7 .7 .3 .8 .7 .8 .3 .7 .5 .8 .5 .8 .4 .8 .5 .7 .4 .8 .2 .8 .7 .8 .4 .8 .3 .7 .4 .8 .3 .8 .5 .8 .2 .8 .5 .8 .4 .8 .3 .8 .3 .7 .5 .8 .4 .8 .3 .8 .4 .8 .3 .8 .4 .8 .4 .8 .4 .8 .3 .8 .3 .8 .6 .8 .4 .8 .4 .8 .3 .8 .5 .9 .4 .8 .5 .8 .3 .8 .3 .8 .3 .8 .4 .8 .5 .9 .4 .8 .4 .8 .2 .8 .4 .8 .3 .9 .4 .8 .4 .8 .4 .9 .4 .8 .4 .8 .3 .8 .2 .9 .2 .8 .6 .9 .3 .8 .1 .8 .6 .9 .5 .8 .4 .8 .4"/>
<path d="M148.4 212.9l.6-.8 .6-.7 .6-.6 .6-.8 .6-.9 .5-1 .6-.8 .6-1 .6-1.1 .6-1.2 .6-1.2 .6-1.4 .5-1.7 .6-1.8 .6-2.2 .6-2.3 .6-2.1 .5-2.9 .6-2.7 .6-3.4 .6-3.4 .5-3.7 .6-4.2 .6-3.9 .5-5 .6-4.9 .5-6.2 .6-5.2 .6-5.3 .6-5.1 .2-3.2 .3-2.5 .3-2.3 .3-2.6 .3-4.2 .3-2.7 .3-1.1 .3-4.8 .3-2.7 .3-3.1 .3-3.3 .3-1.5 .2-6.6 .3-2.5 .3-.7 .3-2.6 .3-2.9 .4-1.8 .2-4.1 .4-2 .3-1.4 .3-3.3 .3-2.3 .3-2.6 .3-2.8 .3-3.9 .3-.7 .4-.4 .2-7 .4 1.3 .3-5.3 .3 .2 .3-2.2 .4 .9 .3-3.1 .3-.5 .3-1.9 .4-2.3 .3 .3 .3-3.5 .4 3.1 .3-1.8 .3-4.1 .3-1.3 .4-2.2 .3-2.2 .3 1.5 .4-1.6 .3 .1 .4-.6 .3-.2 .3-1.2 .4 .8 .3-1.5 .4-2.6 .3 .1 .3-1.8 .4 3.2 .3-.7 .4-2.1 .3 2.5 .4-.2 .3-3.8 .4 1.9 .3-2.9 .4 1.6 .3 1.1 .4 1.3 .3-5.1 .3 3.1 .4 2.1 .4 1.7 .3-.2 .3-1.5 .4-3.3 .4 5.4 .3-2.2 .4 .7 .3 8.4 .4-4.1 .3-4 .4 6.9 .3-6.4 .4 3.1 .3 4.4 .4-6.9 .3 5.1 .4-2.9 .3 3.8 .4 2.9 .3-3.1 .4-.4 .4 2 .3 6 .4-2.7 .3 4.7 .4-.1 .3-2.8 .4 6.7 .3-6.3 .4 9.2 .3 .9 .4-2.4 .4 3.3 .3 1.5 .4 3 .3-1.4 .4 2.5 .3 2.2 .4 2.9 .3 2.7 .4-.9 .3 5.1 .4-.9 .3-.5 .4 1.4 .4 3.2 .3 4.7 .4-3.1 .3 1.1 .4 2.7 .3-.1 .4 1.9 .3 5.2 .4-.4 .3 1.8 .4-1.1 .3 2.2 .4 2.7 .3 .9 .4 1.1 .3 3.3 .4 .7 .3 1.3 .4 1.6 .4 1.2 .3 .7 .4 3 .3 1.2 .4-.7 .3 .7 .4 1.2 .3 5.1 .4-.4 .3 2.9 .4 1.5 .3 1.6 .4 1.3 .3 1.7 .4 4.2 .3 .2 .4 .3 .3 2.3 .4 2.9 .3 1 .4 1.3 .3 .2 .4 1 .3 3.5 .4 .4 .3 2.1 .4 1 .3 2.1 .4 2.2 .3 1.2 .4 1.6 .3 .2 .4 2.7 .3 .7 .4 2 .7 2.5 .7 2.1 .7 2.8 .7 1.1 .7 2.6 .7 3.3 .7 1.5 .7 1.9 .7 3.4 .7 2.1 .7 2 .7 3.3 .7 2.2 .7 2.6 .7 2.3 .7 2.4 .7 1.8 .7 2.1 .7 1.4 .7 2.2 .7 2 .7 1.8 .8 1.7 .7 2.2 .7 1.6 .7 1.7 .7 1.6 .7 1.8 .7 1.2 .8 1.7 .7 1.2 .7 1.7 .7 1.7 .7 1.5 .7 1.6 .8 1.5 .7 1.3 .7 1.2 .7 1.5 .8 1.1 .7 1.4 .7 1 .8 1.3 .7 1.1 .7 1 .8 1.1 .7 1 .7 .7 .8 .9 .7 .9 .8 .5 .7 .9 .7 .9 .8 .7 .7 .8 .8 .9 .7 .8 .8 .9 .7 .6 .8 .6 .7 .9 .8 .7 .7 1 .8 .8 .8 .5 .7 .9 .8 .8 .7 .8 .8 .7 .7 .7 .8 .9 .8 .6 .7 .8 .8 .5 .8 .3 .8 .6 .7 .5 .8 .4 .8 .3 .8 .6 .7 .4 .8 .4 .8 .2 .8 .5 .8 .5 .8 .5 .8 .2 .8 .4 .7 .5 .8 .4 .8 .4 .8 .5 .8 .2 .8 .4 .8 .4 .8 .4 .8 .5 .8 .1 .8 .5 .8 .5 .8 .2 .8 .4 .8 .5 .8 .5 .9 .3 .8 .3 .8 .4 .8 .4 .8 .4 .8 .6 .8 .3 .8 .5 .9 .2 .8 .4 .8 .4 .8 .4 .9 .4 .8 .4 .8 .6 .8 .2 .9 .1 .8 .5 .8 .5 .9 .3 .8 .3 .8 .5 .9 .3 .8 .3 .9 .4 .8 .3 .9 .3 .8 .4 .8 .5 .9 .4 .8 .4"/>
<path d="M140.2 216.1l.6-.6 .5-.8 .6-.9 .6-.8 .6-.8 .6-1 .6-.7 .5-1 .6-1.2 .6-1.4 .6-1 .6-1.5 .5-1.6 .6-1.9 .6-2 .6-2.4 .5-2.3 .6-2.6 .6-3.2 .5-2.8 .6-4 .6-3.7 .5-3.8 .6-4.6 .5-4.8 .6-5.5 .5-5.4 .6-6.5 .5-5.1 .6-5.4 .3-1.4 .3-3.1 .2-3.6 .3-2.4 .3-2.4 .3-2.8 .2-3.8 .4-.9 .2-4 .3-2.8 .3-5.4 .3-.9 .3-4 .2-4.5 .3-1 .3-3.4 .3-2.5 .3-3.5 .3-4.6 .3 1.4 .3-4.1 .3-5 .3-3.6 .3 1 .3-4.9 .3-1.4 .3-2.3 .4 1 .3-1.8 .3-5 .3-1.5 .3-1.9 .3 .2 .3-6.2 .4 1.5 .2-6.7 .4 4.1 .3-2.5 .3-2 .4 .9 .3 0 .3-2 .4-2.3 .3-.1 .3-6.2 .4 4.2 .3-3.7 .3-1.1 .4 .5 .3 1.9 .3-4.3 .4-1.7 .3 1.1 .4-.3 .3 4.3 .4-2.8 .3-2.5 .3-1.3 .3-1.7 .4 2.1 .3-1.5 .4 2.4 .3-4.1 .4-.5 .3 1.7 .4-2.7 .3 2.9 .4 .4 .3-.5 .3-5.2 .5 8.7 .3-4 .3 1.7 .4-.7 .4 4.2 .3-4.6 .3 .7 .4 2.6 .4 .9 .3-.6 .4-1.5 .3 6.2 .4-5.9 .3 4.5 .4-1.9 .4 4.5 .3-5.4 .4 4.5 .3-2.4 .4 6 .3 1 .4-2.8 .3 1.8 .4 1.8 .4-.9 .3 2.7 .4 2.6 .4 4.3 .3 2 .4-4.5 .3 1.6 .4 4.3 .3-1.3 .4 3 .4 1.1 .3-.1 .4 6.2 .3-1.8 .4 1.4 .4 2.9 .3 1 .4 3.8 .3-.5 .4 .8 .4 1.4 .3 3.8 .4-.8 .3 2.3 .4 1.1 .4 2.6 .3 .6 .4 2.2 .3-1.5 .4 5.3 .3-.4 .4 3.1 .4 3.4 .3-.9 .4 .5 .3 2.1 .4 1.5 .3 3.3 .4 .1 .4 3.3 .3-2.2 .4 1.6 .3 4.2 .4 .6 .3 2.2 .4 .9 .4 1.1 .3 2.3 .4 .9 .3 .6 .4 2.7 .3 .9 .4 2.6 .4 1.6 .3 3.1 .4-.1 .3 3.4 .4 1 .3 2.4 .4 .1 .3 2.7 .4 .3 .4 .6 .3 2.6 .4 3.4 .3-.7 .4 2.1 .3 1.3 .4 1.8 .3 1.2 .4 1.6 .3 2.2 .4 2.2 .4 .8 .3 .9 .4 2.8 .7 1.5 .7 3.5 .7 1.1 .7 2.1 .7 2.7 .7 2.8 .8 1.8 .7 2.1 .7 2.2 .7 2.7 .7 2.7 .7 3.3 .7 2.4 .7 2.3 .7 2.4 .7 2.8 .8 1.6 .7 2.1 .7 1.8 .7 1.9 .7 2.3 .7 1.7 .8 1.6 .7 2 .7 1.6 .7 1.8 .7 1.7 .8 1.3 .7 1.8 .7 1.6 .7 1.2 .8 1.9 .7 1.6 .7 1.6 .7 1.2 .8 1.8 .7 1.3 .7 1.6 .8 1.1 .7 1.3 .7 1.5 .8 1 .7 1 .7 1.1 .8 1.2 .7 .8 .7 1.3 .8 .7 .7 .9 .8 1 .7 .6 .8 1.1 .7 .7 .8 .7 .7 1 .8 .5 .7 1 .8 .9 .8 .7 .7 .8 .8 .9 .7 .7 .8 .6 .7 .8 .8 1 .8 .5 .7 .8 .8 .8 .8 1 .7 .8 .8 .6 .8 .8 .7 .6 .8 .6 .8 .5 .8 .5 .7 .4 .8 .5 .8 .5 .8 .4 .8 .2 .8 .5 .7 .5 .8 .5 .8 .3 .8 .5 .8 .3 .8 .4 .8 .2 .8 .6 .8 .5 .8 .2 .8 .4 .8 .4 .8 .7 .8 .3 .8 .3 .8 .5 .8 .3 .8 .3 .8 .4 .8 .4 .9 .5 .8 .2 .8 .6 .8 .7 .8 .1 .8 .5 .9 .3 .8 .5 .8 .4 .8 .2 .8 .6 .9 .5 .8 .2 .8 .4 .9 .4 .8 .4 .8 .4 .8 .5 .9 .3 .8 .4 .9 .2 .8 .5 .8 .2 .9 .5 .8 .4 .9 .3 .8 .4 .9 .2 .8 .7 .9 .3 .8 .3 .9 .6 .8 .3"/>
<path d="M131.7 219.2l.6-.7 .6-.8 .6-.7 .5-.9 .6-.8 .6-.9 .6-1 .6-.7 .6-1.2 .5-1.3 .6-1 .6-1.6 .6-2 .5-1.5 .6-2.3 .6-2.2 .5-2.4 .6-2.8 .5-3 .6-3 .5-4 .6-3.4 .6-4.2 .5-4.4 .5-5 .6-5 .5-6.1 .5-4.6 .6-6.2 .5-5.1 .3-2.7 .3-3 .2-2.9 .3-2.2 .3-3.3 .3-1.8 .2-3.8 .3-4.1 .3-2 .2-3.6 .3-3.5 .3-4 .3-2.6 .3-2.4 .3-1.9 .2-4 .4 .7 .2-6.5 .3-1.4 .3-4.4 .3-1.9 .2-4.5 .4 0 .3-.7 .2-5.3 .3-1.7 .3-3 .3-4.3 .4 1.1 .2-4.6 .3-2.4 .3-2.2 .4 3.6 .3-5.3 .3 .1 .3-2.2 .4-.3 .3-2.2 .3-3.7 .3-2.8 .3 .7 .4 2.6 .3-6.1 .4 3.8 .3-2.8 .3-4.1 .3 2.6 .3-3.7 .4 1.2 .4 1 .3-3.7 .3 .9 .3-5.7 .3-.8 .4 0 .4 5.2 .2-6.9 .4 3.1 .4-.8 .3 .3 .4 1.3 .3-1.9 .3-2 .4-1.8 .3 2 .4 1.1 .4 1 .3-.4 .3-4.5 .4 2.3 .3 1.3 .4 4.6 .4 .7 .3-5.2 .4 .6 .3-.6 .4 2.6 .4 2.5 .3 2.8 .4-1.2 .4 3.7 .3-5.2 .3 .2 .4-1.3 .4 7.8 .3-.2 .4-3.6 .3 1.4 .4 5.9 .4-1.9 .3-.8 .4 1.9 .3-.6 .4 1.7 .4 2.2 .3-.8 .4 2 .3-1.3 .4 6.4 .4-1 .3 2.2 .4 .7 .4 .3 .3 1.1 .4 6.6 .4-4.3 .3 2.8 .4 1.7 .4 2.5 .3 .2 .4 2.5 .4 5.3 .3-.2 .4 .9 .4 1.7 .3 1.7 .4-.1 .4 4.2 .3 1 .4 1.9 .3 .2 .4 .9 .4 3.4 .3-.1 .4 2.8 .4-1 .3 6.2 .4-1.3 .3 .1 .4 3.4 .4 2.3 .3 1.2 .4-.2 .4 2.6 .3-.5 .4 2.5 .4 2 .3 1.2 .4 .4 .3 .9 .4 3.3 .4 1.9 .3 1.6 .4 .1 .3 .5 .4 4.1 .4 .8 .3 2.8 .4 .7 .4 3.9 .3 0 .4 3.2 .3 1.2 .4 .7 .4 2 .3 1.4 .4 1.1 .3 1.7 .4 .7 .4 2.1 .3 2.6 .4 1.1 .3 2 .4 1.5 .4 .3 .3 3.1 .4 .3 .3 1.4 .4 .7 .4 2.9 .7 2.5 .7 2.6 .7 2.8 .8 1.4 .7 2.3 .7 4.1 .7 1.4 .7 1.7 .8 3.3 .7 2.4 .7 2.3 .7 2.7 .7 2.7 .8 2.5 .7 1.8 .7 3.4 .7 1.6 .7 2.2 .8 1.7 .7 2.1 .7 1.7 .7 1.9 .8 1.4 .7 2.6 .7 1.6 .7 1.4 .8 2 .7 1.5 .7 1.9 .8 1.2 .7 1.7 .7 1.5 .8 1.9 .7 1.6 .7 1.6 .8 1.2 .7 1.8 .7 1.1 .8 1.4 .7 1.1 .7 1.4 .8 1.4 .7 1 .8 1.4 .7 .7 .8 1.2 .7 1 .8 .9 .7 .7 .8 1.1 .7 .5 .8 1.1 .7 .5 .8 1 .7 .6 .8 1.2 .7 .6 .8 .9 .8 .9 .7 .6 .8 .9 .7 .9 .8 .7 .8 .8 .7 .8 .8 .8 .8 .7 .7 .9 .8 .8 .8 .7 .8 .8 .7 .8 .8 .7 .8 .3 .8 .7 .8 .3 .7 .7 .8 .5 .8 .2 .8 .6 .8 .5 .8 .4 .8 .5 .8 .2 .8 .7 .8 .2 .8 .6 .8 0 .8 .6 .8 .4 .8 .6 .8 .2 .8 .5 .8 .4 .8 .4 .8 .3 .8 .5 .8 .4 .8 .4 .8 .5 .8 .3 .9 .4 .8 .5 .8 .4 .8 .6 .8 .2 .9 .3 .8 .6 .8 .2 .8 .6 .9 .4 .8 .3 .8 .5 .8 .5 .9 .2 .8 .5 .8 .3 .9 .4 .8 .5 .9 .3 .8 .3 .8 .4 .9 .4 .8 .5 .9 .4 .8 .4 .9 .2 .8 .6 .9 .2 .8 .3 .9 .7 .8 .2 .9 .5 .8 .4 .9 .4"/>
<path d="M123.1 222.5l.6-.6 .6-.7 .5-.9 .6-.7 .6-.8 .6-1 .5-1 .6-1 .6-.9 .6-1 .5-1.6 .6-1.4 .6-1.8 .5-2 .6-1.9 .6-2.2 .5-2.5 .6-2.6 .5-2.9 .6-3.5 .5-3.4 .6-4 .5-4.1 .5-4.2 .5-5.3 .6-5.2 .5-5.8 .5-6 .5-5.1 .6-4.6 .2-3.2 .3-2.7 .2-3.4 .3-3.5 .3-1.9 .2-2.6 .3-4.2 .3-1.6 .2-4.1 .3-3.4 .2-2.9 .3-3 .3-3.5 .2-4.2 .3-1.8 .3-1.6 .3-3.7 .2-3.6 .3-3.9 .3-1.6 .3-2 .3-4.3 .3-2 .3-1.6 .3-1.3 .2-3.6 .3-3.8 .4 .9 .3-1.3 .2-5.6 .4 1.5 .3-2.2 .3-3.6 .3-1.5 .3-2 .3-1.6 .3-2 .3-.2 .4 .1 .4 2.6 .1-9.2 .4-.3 .3-.8 .4 .1 .3 .7 .3-3.8 .3 .1 .4 1.8 .3-6 .4 4.5 .3-3 .2-5.5 .5 5 .3-2.8 .3-2.6 .4 1.9 .3 2.8 .4-2.5 .3-1.4 .4 2.9 .2-7.1 .4 2.2 .3-1.2 .4 .8 .3-.5 .4 1.5 .4 2.5 .3-5 .3 1.5 .4-3.5 .4 6.7 .3-2.8 .3-4.3 .5 8.6 .3 .1 .3-2.7 .4-2.9 .4 7.2 .3-2.4 .4 1.1 .4 1.4 .3 0 .3-2.7 .4 3.1 .4 4 .4-.8 .3-.8 .4 4.1 .4-.7 .3 .3 .4 4.5 .3-7.5 .4 8.3 .4-2.5 .3 1.5 .4 1.9 .3-2.6 .4 3.6 .4 3 .3-2.6 .4 2.7 .4 4.5 .4 2.4 .3-2.9 .4 3.5 .4 4 .4-2 .4 5.2 .3 .4 .4 1.8 .4 3.6 .3-2.7 .4-3 .4 6.3 .3 1.9 .4 2.6 .4 1.3 .3 1.1 .4 1 .4 3.3 .4 .8 .3 1.9 .4 .5 .4 1.1 .3 1.4 .4 3.6 .4 1.6 .3 .1 .4 2.7 .4 1.4 .3 .7 .4 1.6 .4 .3 .4 4.3 .3-1.3 .4 3.2 .3 .1 .4 3.5 .4 .1 .4 1.9 .3-1 .4 4.3 .3-.4 .4 3.6 .4 2.1 .4 .5 .3 1.2 .4 2.9 .4 1.3 .3 2.2 .4 2 .4 .5 .3 2.8 .4 .9 .4 3.1 .3 .8 .4 .7 .4 2.5 .3 2.8 .4-.5 .4 1.8 .3 2.2 .4 1.4 .4 1.9 .3 1.2 .4 1.1 .4 2 .3 1.7 .4 1.7 .4 1.2 .7 2.8 .7 1.8 .7 3.5 .8 2.2 .7 1.9 .7 2.4 .8 2.3 .7 2.6 .7 2.2 .8 3.1 .7 2.7 .7 2.6 .7 2.1 .8 2.3 .7 2.9 .7 2.2 .8 2.1 .7 1.5 .7 2.4 .8 2 .7 2.1 .7 1.6 .8 1.7 .7 2.1 .7 2 .8 1.3 .7 2 .7 1.3 .8 2.2 .7 1.4 .7 1.5 .8 1.9 .7 1.4 .8 1.6 .7 1.7 .7 1.4 .8 1.5 .7 1.5 .8 1.2 .7 1.5 .7 1.2 .8 1.3 .7 1 .8 1.2 .7 1.1 .8 1.2 .7 .8 .8 .8 .8 1.2 .7 .6 .8 .9 .7 1 .8 .7 .8 .6 .7 1 .8 .8 .7 .7 .8 1 .8 .7 .7 1 .8 .8 .8 .6 .7 .8 .8 .8 .8 1 .8 .7 .7 .9 .8 .6 .8 1.1 .7 .8 .8 .7 .8 .6 .8 .7 .8 .6 .8 .5 .7 .5 .8 .7 .8 .4 .8 .2 .8 .6 .8 .3 .8 .4 .8 .5 .8 .5 .8 .3 .8 .6 .8 .2 .8 .6 .8 .4 .8 .5 .8 .4 .8 .3 .8 .5 .8 .4 .8 .4 .9 .3 .8 .4 .8 .3 .8 .5 .8 .5 .8 .4 .9 .3 .8 .6 .8 .3 .8 .5 .9 .4 .8 .5 .8 .3 .8 .6 .9 .4 .8 .3 .8 .4 .9 .4 .8 .4 .8 .6 .9 .4 .8 .2 .9 .4 .8 .8 .9 0 .8 .5 .8 .5 .9 .4 .8 .4 .9 .4 .8 .3 .9 .4 .9 .4 .8 .5 .9 .1 .8 .5 .9 .5 .8 .3 .9 .5 .9 .5"/>
<path d="M114.3 226.5l.6-.6 .5-.6 .6-.9 .6-.6 .6-.9 .5-.9 .6-.8 .6-.7 .6-1.1 .5-1.3 .6-1.3 .6-1.3 .5-1.8 .6-1.5 .6-2.2 .5-2.1 .6-2.5 .5-2.1 .6-3.2 .5-3 .5-3.2 .6-3.8 .5-4 .5-4.3 .5-4.4 .5-5.1 .5-5.8 .5-5.4 .5-5.4 .6-5.3 .2-1.1 .3-3.6 .2-2.7 .3-2.6 .3-2 .2-3.9 .3-3.6 .2-1.7 .3-2.6 .2-4.4 .3-2.5 .3-3.2 .2-3 .3-2.1 .3-3.1 .2-1.9 .3-1.3 .3-5.9 .2-1.8 .3-2.3 .3-4.3 .3-.7 .2-4.2 .3-2.2 .3-.8 .3-1 .3-4.8 .3-1.8 .2-3.3 .4 2 .3-4.1 .3-2.4 .3-1.8 .3-1.2 .3-1.7 .4 3.4 .2-4.9 .4-.6 .3 .4 .3-4.3 .3-.2 .4 .4 .3-.7 .2-4.4 .5 4.7 .2-5.9 .4 1.2 .2-3.5 .3-4.5 .4 1 .3 1.5 .3-4 .3-1.5 .4 1.3 .3-2.4 .4 3.1 .3-1.3 .4 1.1 .4 .3 .3-1.2 .3 1.4 .4-1.9 .2-5.4 .4 3.1 .4 1.8 .3-4.5 .3 .5 .5 5.7 .3-.8 .3-5.4 .4 3.9 .3 .2 .4 1.9 .4 1.8 .3-4.6 .4 4.8 .3-2.5 .3-2.4 .4 3.5 .4 2.1 .4-1.3 .3 .8 .4 2.8 .4-.9 .4 3.9 .4 1.9 .3-1.8 .4 3.3 .3-1.5 .4-.2 .3 .2 .3-2.5 .5 6.6 .3 0 .4 1 .4 2.1 .3-4.9 .4 6.6 .4 .2 .4 1.2 .3-3.6 .4 6.6 .4 2.3 .3-2.2 .4 5 .4 4.1 .4-4.1 .3 2 .5 5.6 .3 1.3 .4-.4 .4 3.1 .4 2.4 .3 1 .3-3.1 .4 2.6 .4 4.7 .4 .2 .4 1.1 .4 2.2 .3 1.1 .4-.9 .4 4.8 .3 1.7 .4 .5 .4 2.3 .4 1.2 .3 1.5 .4 2.1 .4-1.2 .4 3.7 .3-.9 .4 3.9 .4 1.4 .3 0 .4 1.8 .4 .1 .3 1.5 .4-.3 .4 6.8 .4-.6 .3 .5 .4 1.7 .4 1.5 .3-.7 .4 6.3 .4-.9 .4 2.6 .3 1.6 .4 .9 .4 2.6 .4 1 .3 1.1 .4 1.7 .4 3.8 .4 .5 .3 2 .4 1.1 .4 1 .3 0 .4 3.4 .4 1.3 .3 1.5 .4 .6 .4 2.8 .4 .9 .3 1.3 .4 1.5 .4 2.8 .3 .9 .8 1.6 .7 3.7 .8 1.6 .7 2.9 .7 1.4 .8 2.4 .7 2.9 .7 1.7 .8 2.6 .7 2.3 .8 1.9 .7 2.9 .7 2.6 .8 2.1 .7 2.7 .7 1.8 .8 2.3 .7 2 .8 2.1 .7 2 .7 1.9 .8 1.8 .7 1.5 .8 1.8 .7 2 .7 1.3 .8 1.9 .7 1.6 .8 1.8 .7 1.4 .8 1.3 .7 1.6 .7 1.7 .8 1.4 .7 1.7 .8 1.5 .7 1.2 .8 1.5 .7 1.4 .8 1.3 .7 1 .8 1.6 .7 1 .8 1.2 .8 .9 .7 .8 .8 1.1 .7 .9 .8 .9 .8 .6 .7 .9 .8 .9 .7 .9 .8 .8 .8 .7 .7 .9 .8 .8 .8 .9 .7 .8 .8 .8 .8 .7 .8 .9 .7 .4 .8 1 .8 .7 .8 .8 .7 1 .8 .8 .8 .7 .8 .7 .8 .8 .8 .6 .7 .6 .8 .7 .8 .5 .8 .6 .8 .4 .8 .6 .8 .5 .8 .3 .8 .7 .8 .1 .8 .4 .8 .7 .8 .3 .8 .5 .8 .5 .8 .3 .8 .4 .8 .3 .8 .6 .9 .3 .8 .5 .8 .3 .8 .5 .8 .3 .8 .6 .9 .3 .8 .5 .8 .4 .8 .3 .9 .5 .8 .4 .8 .4 .8 .5 .9 .2 .8 .7 .8 .4 .9 .2 .8 .8 .8 .1 .9 .5 .8 .4 .8 .6 .9 .3 .8 .5 .9 .2 .8 .6 .9 .4 .8 .4 .9 .4 .8 .3 .9 .4 .8 .5 .9 .4 .8 .4 .9 .2 .9 .4 .8 .6 .9 .4 .9 .3 .8 .4 .9 .4 .9 .5 .8 .4"/>
<path d="M105.3 230.7l.5-.7 .6-.5 .6-.6 .6-.9 .6-.5 .5-1 .6-.8 .6-.9 .5-.8 .6-1 .6-1.4 .6-1.2 .5-1.6 .6-1.5 .5-1.9 .6-1.8 .5-2.4 .6-2 .5-2.8 .6-2.9 .5-3.6 .5-3.5 .5-3.3 .5-4.4 .5-4.1 .6-4.3 .4-5.5 .5-4.6 .5-5.5 .5-5 .3-1.8 .2-3.2 .3-2.6 .3-1.4 .2-3.4 .3-2.2 .2-2.6 .2-4.2 .3-1.2 .3-3.2 .2-3.1 .3-3.4 .2-3 .3-1 .2-4.6 .3-3 .2-2.7 .4-.7 .2-1.7 .3-1.8 .3-4.1 .2-1.9 .3-2.4 .3-1.6 .3-.1 .3-4.7 .2-2.3 .3-1.8 .4-.4 .2-3.5 .3-1.9 .3-.2 .3-4.3 .3-.3 .3-1.5 .3-1.7 .3-.1 .3-1.5 .3-2.2 .3-1.5 .3-1.4 .4 .9 .3-2.8 .3-1.7 .4 3.8 .3-2.8 .3-1.6 .3-.9 .3-4.2 .3 .4 .4 1.9 .3-.7 .4 1.9 .3-1.3 .3-5.2 .4 5.8 .3-5.1 .4 2.3 .3-1.1 .3-.8 .3-4.3 .4 2.8 .3-.6 .3-1.3 .5 6.5 .2-8.7 .5 7.4 .3-2 .3-3 .4 4.2 .4 1.3 .2-5.8 .5 3.4 .3-2.2 .3 1.4 .4 1.9 .3-3.4 .4 4.5 .3-4.2 .5 6.5 .4 .7 .3-.1 .3-1.2 .4 3.3 .4-.2 .3-3.5 .4 3.2 .3-1.2 .4 2.4 .4 2.6 .4 1.2 .3-1 .4 1.1 .4 2 .4 1 .3-2.7 .4 1.8 .4 2.4 .3 2.3 .4 1.3 .3-2.9 .5 5.9 .3-3.6 .4 6.4 .4 2.8 .3-4.2 .4 5 .4-1.1 .4 3.3 .4 2.5 .3-.2 .4 3.3 .4 .4 .4 2.3 .4 3.7 .3-1.6 .4 2.7 .4 .9 .4 .7 .4 3.8 .3-1.1 .4 1.5 .4-.2 .3 2.8 .4 2 .4 2.6 .4 .7 .4 3 .3-.7 .4 2.1 .4 1.5 .4 .9 .3 .9 .4 1.4 .4 2.7 .4-1.2 .3 2.5 .4 .9 .4 1.6 .4 2.2 .3 .2 .4 2 .4 1.9 .4 .7 .3 1.1 .4 1.8 .4 2.1 .4 2.4 .4 1.4 .3 1.5 .4 2.6 .4-.1 .4 2 .3 2.4 .4-.5 .4 1.2 .4 3.5 .3 .6 .4 1.9 .4 .4 .4 2.7 .3 .4 .4 1.6 .4 1.1 .4 3.1 .3 .8 .4 1.1 .4 .8 .4 1.7 .3 1 .8 2.6 .7 2.9 .8 2 .7 2.3 .8 2.1 .7 2.3 .7 1.5 .8 2.3 .7 3 .8 1.5 .7 2.8 .8 2.7 .7 1.7 .8 2.7 .7 2 .8 2.2 .7 2 .7 2.3 .8 1.2 .7 2.2 .8 1.6 .7 1.7 .8 1.9 .7 1.8 .8 1.4 .7 1.4 .8 1.9 .7 1.5 .8 1.4 .7 1.6 .8 1.2 .7 1.6 .8 1.2 .7 1.9 .8 1.3 .7 1.7 .8 1.2 .7 1.5 .8 1.2 .7 1.2 .8 1.1 .8 1 .7 1.3 .8 1.2 .7 .9 .8 .9 .8 1 .7 .7 .8 .8 .8 1 .7 .8 .8 1 .8 .6 .7 .7 .8 .9 .8 .6 .8 .9 .7 .7 .8 .8 .8 .9 .8 .7 .7 .7 .8 .8 .8 .8 .8 .7 .8 .7 .7 1 .8 .6 .8 .9 .8 .6 .8 .9 .8 .7 .8 .7 .8 .4 .8 .7 .8 .4 .7 .5 .8 .4 .8 .4 .9 .5 .7 .7 .9 .4 .8 .5 .8 0 .8 .7 .8 .4 .8 .4 .8 .4 .8 .5 .8 .3 .9 .4 .8 .6 .8 .1 .8 .4 .8 .6 .8 .4 .9 .3 .8 .3 .8 .7 .9 .3 .8 .5 .8 .4 .8 .7 .9 .4 .8 .2 .8 .4 .9 .4 .8 .5 .9 .4 .8 .4 .8 .5 .9 .4 .8 .5 .9 .2 .8 .6 .9 .4 .8 .3 .9 .5 .8 .3 .9 .4 .8 .5 .9 .5 .8 .2 .9 .5 .9 .5 .8 .1 .9 .6 .9 .3 .8 .4 .9 .5 .9 .3 .8 .6 .9 .4 .9 .4 .9 .3"/>
<path d="M96 234.1l.6-.5 .6-.6 .5-.8 .6-.7 .6-.8 .5-.9 .6-.8 .6-.8 .6-1 .5-1.1 .6-.9 .6-1.5 .5-1.5 .6-1.8 .5-1.9 .6-2 .5-2.3 .6-2 .5-3.1 .5-3.1 .5-3 .5-3.5 .5-4.4 .5-3.4 .5-4.6 .5-4.9 .5-5.2 .4-5.1 .5-4.4 .5-7 .3-.9 .2-3 .2-2.3 .3-3.4 .2-2.2 .3-2.9 .2-2.9 .2-2.7 .3-2.4 .2-3.7 .3-1 .2-5 .2-2.7 .3-2.3 .3-.9 .2-5.2 .3-.5 .2-3.9 .4 .1 .2-4.3 .2-2 .3-2.2 .3-2.6 .2-5.5 .3 0 .2-2.7 .2-4.8 .5 3 .1-6.3 .4 .9 .3-1.4 .3-2 .3 .7 .3-1.9 .3-1.9 .3-2.2 .2-3.4 .3-1.9 .4 1.4 .3-2.5 .3-1.2 .3 .1 .3-1.9 .4 .5 .2-3.2 .4 .6 .3-1.4 .3-1.3 .3-.6 .4 1 .4 .5 .2-3.2 .4 .4 .3-.6 .3-1.4 .4 .8 .3-2.7 .3-.3 .4 2.4 .3-3 .4 2.4 .3-3.8 .3-.1 .4 1.1 .3-2.1 .3-.4 .4 1.1 .5 4.9 .2-4.2 .4 0 .3-1.1 .4 4.2 .3-3.3 .4 1.2 .3 .3 .5 4 .3-.3 .3-3.7 .4 1.2 .4 2.4 .3-1.9 .4 2.3 .4 2 .4 3 .3-4.6 .4 3.1 .3 0 .5 4.8 .3-1.7 .3-.8 .4 1.9 .4 1.8 .4 1.6 .3-1.6 .4 2.1 .4 .9 .4 .9 .4 1.8 .3 .6 .4 1.7 .4 .2 .4 3.8 .4 .9 .3-.5 .4 1.9 .4 1 .3-1.5 .5 3.6 .3 1 .4 2.7 .4 2.4 .4 2.5 .4 3.1 .4 .8 .4 2.7 .4-.3 .4 2.1 .3 .6 .4 .2 .4 1.9 .3-.2 .4 1.5 .4 1.4 .4 1.7 .4 2.2 .4 2.4 .3 .3 .4 2.3 .4 1.3 .4 .8 .4 3 .4 1.9 .3-.7 .4-.3 .4 2 .3-1.4 .5 6.5 .3 .5 .4 2.9 .4-.1 .4-1.2 .3 1.7 .5 3.9 .3 1 .4 2.1 .4 2.2 .4 .8 .4 1.8 .4 1.4 .3 1.6 .4 1.3 .4 1.1 .4 2.6 .4 1.5 .3 1.3 .4 1.2 .4 1.8 .4 2 .4 1.1 .3 .7 .4 2.6 .4 .4 .4 2.8 .4 .4 .3 1.5 .4 2 .4 1.3 .4 1.5 .4 .3 .4 2.4 .7 2.6 .8 1.9 .7 2.1 .8 2.6 .7 2.4 .8 1.7 .7 2.8 .8 2.2 .7 2.4 .8 1.6 .8 3.5 .7 2.3 .8 2 .7 2.3 .8 1.9 .7 2.5 .8 2.2 .7 1.5 .8 2 .7 1.8 .8 1.9 .7 1.9 .8 2.1 .8 1.7 .7 1.1 .8 2 .7 1.9 .8 1.3 .7 1.4 .8 1.6 .8 1.6 .7 1.8 .8 1.2 .7 1.7 .8 1.3 .7 1.6 .8 1.4 .8 1.3 .7 1.3 .8 1.2 .8 1.3 .7 1.2 .8 1.2 .7 .9 .8 1.1 .8 1 .8 1.1 .7 .8 .8 1 .8 .5 .7 .8 .8 .9 .8 .8 .8 .8 .7 1 .8 .8 .8 .6 .8 1 .7 .7 .8 .9 .8 .9 .8 .6 .8 .7 .8 .7 .7 1.1 .8 .7 .8 .7 .8 .7 .8 .8 .8 .7 .8 .8 .8 .8 .8 .7 .8 .5 .8 .6 .8 .5 .8 .5 .8 .5 .8 .4 .8 .6 .8 .5 .8 .4 .8 .4 .8 .5 .8 .4 .8 .6 .9 .3 .8 .3 .8 .5 .8 .5 .8 .2 .9 .6 .8 .3 .8 .5 .8 .4 .9 .3 .8 .4 .8 .5 .8 .6 .9 .4 .8 .4 .8 .4 .9 .4 .8 .5 .8 .4 .9 .6 .8 .3 .9 .4 .8 .3 .9 .6 .8 .5 .8 .5 .9 .3 .9 .5 .8 .4 .9 .4 .8 .4 .9 .4 .8 .3 .9 .7 .8 .5 .9 .2 .9 .6 .8 .3 .9 .4 .9 .4 .8 .3 .9 .4 .9 .4 .9 .4 .8 .4 .9 .5 .9 .4 .9 .5 .8 .5"/>
<path d="M86.6 237.8l.5-.6 .6-.8 .6-.7 .5-.8 .6-.9 .6-.7 .5-.8 .6-.8 .6-1.1 .5-1 .6-1.3 .5-1.2 .6-1.7 .5-1.4 .6-2.2 .5-2 .6-2.3 .5-2.8 .5-2.3 .5-3.3 .5-3.3 .5-3.8 .5-4 .5-3.4 .4-4.9 .5-5 .4-5.8 .5-5.4 .5-4.6 .4-4.9 .3-2.3 .2-3.2 .2-3.3 .3-1.9 .2-2 .3-2.6 .2-2.9 .2-2.2 .2-5.6 .2-1.8 .3-2.8 .1-5.2 .3-1.1 .2-3.9 .3-1.5 .2-3.4 .3-1.6 .3-2.1 .2-3.5 .2-2.9 .3-3.1 .3-1.4 .2-1.9 .3-2.3 .2-3.3 .3-1.2 .3-2.4 .2-3.4 .3-2.2 .3-1.8 .3 .1 .3-.6 .2-4.4 .3-1.2 .4-.5 .2-2.3 .3-2.4 .4 .6 .2-2.3 .4 1.4 .3-2.6 .3 .1 .4 .1 .2-4.7 .5 5.4 .1-6.4 .3-2.6 .3-.1 .5 3.1 .2-4.4 .4 3.5 .3-2.6 .2-5.4 .4 2.1 .3-2.7 .5 4.4 .3 1.7 .3-3.2 .2-4.7 .4 .4 .3-.7 .4 2.4 .4-.5 .3 0 .2-7 .5 6.1 .2-3.8 .5 4.2 .3-3.4 .5 5.6 .3-1 .3-1.6 .4 2.4 .4 .1 .3-.1 .4 1.3 .2-4.1 .4 1.5 .5 5.9 .2-6.1 .5 4.3 .4 .6 .3 .9 .4-1.6 .3 1.1 .5 3.3 .3-.4 .4 3.5 .3-5.6 .5 6.4 .4 .9 .3 .5 .4-.7 .3-.3 .4 3.2 .4 .2 .4 1.8 .3-2 .4 3.2 .5 4.9 .3-4.5 .4 3.5 .3-1.4 .5 6 .4 1.3 .4 1 .4 3.6 .4-.1 .3-1.1 .4 2.6 .5 6.5 .3-4.2 .4 3 .4 .8 .4 2.7 .4 1.2 .4 1.7 .4 1.5 .4 3 .3-1.3 .4 2.6 .4 1.3 .4 1.6 .4 2.4 .4 1.1 .4 3.1 .3-.5 .4 1.5 .4 2.1 .5 3.1 .3-2 .4 3.1 .4 1.2 .4 1.6 .4 1.6 .3 1.1 .4 2 .4 .7 .4-1.3 .4 2.3 .3 .6 .5 4 .4 2.7 .3 1.1 .5 2.9 .3-1.6 .4 1.7 .4 2.8 .4 1.6 .4 1.7 .4 2.1 .3 .9 .5 2.9 .3 1.1 .4 1.3 .4 2.5 .4 1 .4 .5 .4 1.5 .4 3.3 .3-.6 .4 1.9 .4 1.3 .4 2.1 .4 1.2 .4 2.5 .4 .9 .4 1.9 .3 1 .4 .5 .8 2.3 .7 3.3 .8 2.6 .8 1.8 .7 2.4 .8 1.6 .8 2.7 .7 3.4 .8 1.4 .8 2.6 .7 2.7 .8 2.3 .8 2.6 .7 2.5 .8 1.8 .7 2.4 .8 2.1 .8 2 .7 1.7 .8 2.5 .8 1.3 .7 2.1 .8 1.5 .7 1.8 .8 1.9 .8 1.8 .7 1.6 .8 1.6 .8 1.9 .7 1.3 .8 1.6 .8 1.2 .7 1.6 .8 2 .8 1.5 .7 1.6 .8 1.2 .8 1.3 .7 1.2 .8 1.6 .8 1 .7 1.3 .8 1.3 .8 1 .7 1.1 .8 .9 .8 1 .8 .8 .7 1.1 .8 1 .8 .7 .8 .7 .7 1 .8 .8 .8 .7 .8 1 .8 .6 .8 .9 .7 .9 .8 .8 .8 .8 .8 .8 .8 .8 .8 .7 .8 .8 .8 .9 .8 .9 .8 .5 .7 1.1 .8 .7 .8 .7 .8 .7 .8 .8 .8 .4 .8 .6 .8 .7 .9 .6 .8 .3 .8 .6 .8 .4 .8 .6 .8 .4 .8 .4 .8 .4 .8 .7 .9 .5 .8 .1 .8 .6 .8 .3 .8 .5 .9 .3 .8 .5 .8 .5 .9 .4 .8 .4 .8 .4 .8 .6 .9 .5 .8 .3 .8 .5 .9 .4 .8 .5 .9 .3 .8 .7 .8 .3 .9 .3 .8 .7 .9 .3 .8 .5 .9 .4 .8 .6 .9 .3 .8 .5 .9 .4 .8 .4 .9 .5 .9 .3 .8 .5 .9 .7 .9 .3 .8 .4 .9 .6 .9 .1 .8 .6 .9 .3 .9 .4 .8 .5 .9 .5 .9 .3 .9 .4 .9 .4 .8 .5 .9 .5 .9 .4 .9 .4"/>
<path d="M76.9 241.3l.5-.6 .6-.7 .5-.8 .6-.7 .6-.9 .5-.7 .6-.9 .6-.9 .5-1.1 .6-1 .5-1.1 .6-1.5 .5-1.4 .6-2 .5-2.1 .5-1.9 .6-2.2 .5-2.7 .5-2.7 .5-3.3 .5-3.3 .4-3.8 .5-3.7 .5-4.8 .4-4.2 .4-5.5 .5-5.6 .4-5 .4-5.5 .5-4.8 .2-2.4 .3-2.7 .2-3.1 .2-1.6 .2-2.9 .3-2.8 .2-3 .1-4.3 .3-2.3 .2-2.9 .2-3.5 .2-3.9 .3-1.3 .2-4.4 .3 .7 .2-4.1 .1-5.2 .3-2.9 .3-1.1 .2-1.9 .2-4.1 .3-1.1 .2-5.1 .2-2.1 .3-1.9 .3 0 .2-5 .3-.3 .3-2.2 .3-1.6 .2-2.4 .3-2.8 .2-2.3 .3-1.5 .2-5.9 .5 5.3 .2-4.1 .4 2.1 .3-2.1 .3 .6 .2-5.7 .3 .7 .4-.9 .3-.6 .2-3.1 .4 1.9 .3-2.8 .2-5.3 .4 4.7 .4 .2 .3 0 .3-4.5 .3 .9 .4 1.2 .3-.3 .3-2.4 .4 1.9 .2-7.2 .4 4.7 .4-.4 .3-.6 .5 3.6 .3-1.1 .3-2.7 .3-1 .4 2.6 .2-6.7 .4 2.7 .3-1.8 .3 .4 .5 3.4 .2-5.7 .5 5.6 .5 5 .4 1.5 .2-4.8 .3-1.4 .4 2.3 .3-3.2 .5 5.1 .3-1.4 .4 .3 .4 4.5 .3-2.2 .4 .5 .3-.8 .4 .6 .4 1.3 .5 4.5 .3-2.2 .3 .2 .5 3 .3-.5 .4 1 .4 .2 .4 3.2 .4 .3 .4 1.7 .4 1.5 .4 2.6 .4 .9 .4 2.9 .4-.3 .3 0 .4 1.7 .4 1.4 .4 3.1 .4-.9 .5 4.7 .3-.3 .4 2.2 .5 3.4 .4 1.5 .3-.6 .4 2.6 .4 1.1 .3-2.5 .5 5.2 .4 2.2 .4 .7 .4 3.4 .4 .9 .4 .8 .4 3.2 .4 .5 .4 1.7 .4 1.2 .4 3.8 .3-2.8 .5 3.7 .3 .7 .5 3.3 .4 1.7 .3-.2 .4 1.7 .4 .3 .4 3 .4 1.4 .4 0 .4 1 .3 1.2 .5 2.5 .3 1.3 .5 2.7 .3-.2 .4 2 .4 1.9 .5 4.1 .3-.2 .5 3.1 .3 .7 .4 1.7 .4 1 .4 2.6 .4 1.6 .4 2 .4 1.6 .4 .3 .4 2.5 .4 .5 .4 2.3 .4 1.7 .4 .7 .4 1.6 .4 2.7 .4 1.1 .3 1.4 .4 1 .4 2.2 .4 1.2 .8 2.4 .8 2.2 .7 2.3 .8 3.1 .8 1.3 .8 2.8 .7 2.7 .8 2.6 .8 2 .8 3.1 .7 1.7 .8 2.6 .8 2.4 .8 2.7 .7 2.9 .8 1.8 .8 1.9 .8 2.7 .7 1.7 .8 1.6 .8 2 .7 2.3 .8 1.5 .8 1.7 .7 1.4 .8 2.2 .8 1.8 .8 1.4 .7 1.7 .8 1.5 .8 1.4 .7 1.8 .8 1.9 .8 1.4 .8 1.6 .7 1.4 .8 1.5 .8 1.5 .8 1.2 .7 1.3 .8 1.4 .8 1.1 .8 1.3 .7 1.1 .8 1.1 .8 1 .8 .7 .8 1.3 .7 1 .8 .8 .8 .9 .8 .7 .8 .9 .7 .6 .8 1 .8 .8 .8 1.1 .8 .8 .8 .6 .8 1.2 .8 .6 .8 1 .8 .6 .7 1 .8 .7 .8 .9 .8 .9 .8 .5 .8 1.1 .8 .6 .8 1 .8 .8 .8 .6 .9 .6 .8 .3 .8 .9 .8 .6 .8 .4 .8 .4 .8 .5 .8 .6 .8 .4 .9 .4 .8 .4 .8 .6 .8 .4 .8 .7 .9 .3 .8 .3 .8 .5 .9 .5 .8 .3 .8 .6 .8 .5 .9 .3 .8 .5 .8 .5 .9 .3 .8 .4 .9 .7 .8 .4 .9 .4 .8 .4 .8 .6 .9 .5 .8 .4 .9 .4 .8 .5 .9 .5 .8 .3 .9 .4 .9 .7 .8 .3 .9 .5 .8 .2 .9 .8 .9 .4 .8 .4 .9 .6 .9 .3 .8 .4 .9 .6 .9 .3 .9 .3 .8 .6 .9 .5 .9 .5 .9 .3 .8 .5 .9 .3 .9 .3 .9 .6 .9 .6 .9 .3 .9 .6"/>
<path d="M66.9 244.9l.6-.6 .5-.7 .6-.8 .6-.8 .5-.8 .6-.9 .5-.7 .6-.9 .6-1 .5-1 .6-1.4 .5-1.4 .5-1.6 .6-1.9 .5-2.2 .5-2 .5-2.5 .5-2.7 .5-2.6 .5-3.1 .5-3.7 .4-3.9 .5-3.5 .4-4.9 .4-4.6 .5-5.3 .4-5.4 .4-5.8 .4-5.9 .4-5 .2-2.8 .2-2 .2-3.9 .2-2.6 .3-1.9 .2-1.1 .2-4.8 .1-5.2 .3-1 .2-2.5 .1-5.5 .3-1.1 .2-4.1 .2-3.1 .3-.4 .1-4.4 .2-4 .3-1 .2-3.9 .2-1.9 .2-4 .2-3.8 .4 1.3 .2-3.6 .2-3.5 .3-.9 .3-2 .2-3 .2-2.3 .3-1.4 .2-3.6 .3-2.6 .2-1.6 .3-1.5 .3-2.4 .4 3.3 .2-3.6 .3-1.9 .3-1.9 .4 2.9 .1-8 .5 4.2 .2-3.4 .3-2.1 .2-1.8 .5 2.7 .3-1.3 .2-2.8 .3-1.4 .3-1.5 .4 1.3 .4 .7 .4 .8 0-7.4 .6 6.3 .2-5.1 .4 .6 .2-1.5 .4-.8 .3-1.3 .4 2.8 .3-1.4 .5 5.2 .2-4.9 .4 2 .3-1.9 .3-3.4 .4 2.7 .3-2.3 .4 3.2 .4-1.2 .4 2.2 .5 5.3 .2-3.7 .4-.6 .3-.5 .4 .9 .4 .9 .3-1.9 .4 1.2 .4 2.9 .3-2.2 .6 7 .2-3.1 .4 .5 .3-2.4 .5 4.8 .4 2.8 .3-2.7 .3-2.3 .5 5 .4 .7 .4 1.2 .3 .4 .3-1.5 .4-.3 .5 4.2 .4 2.3 .3-2.6 .5 4.8 .4 1.5 .4 2.3 .4 1.4 .4 .6 .4 2.6 .4 .3 .4 2.3 .4 .8 .4 3.3 .4 1.4 .4 .9 .4 2 .4 1.6 .4-.1 .5 5.1 .4 2.8 .3-2.5 .5 3.1 .3-.8 .5 3.7 .4 3.1 .3-3.1 .5 4.1 .4 2.8 .4 1.9 .4-.1 .4 3.1 .4 .2 .4 .6 .4 4.7 .4 .2 .4 .5 .3 .1 .5 2.2 .4 3 .3-.8 .5 3.3 .4 1.2 .4 .8 .4 3 .3-2.8 .4 3.5 .5 2.6 .4 2.5 .4 2.3 .4 .5 .4 1.6 .4 2.8 .4 1.7 .4 1.2 .4 2.3 .5 3.1 .3-.4 .4 2 .4 1.2 .4 2.6 .5 2.5 .4 .9 .3 .5 .4 .4 .4 1.4 .4 3 .5 2.8 .3 .9 .4 1.2 .4 1.6 .4 1.7 .4 .8 .4 2.6 .5 2.1 .7 2 .8 2.7 .8 .9 .8 3.6 .8 2.9 .7 1.4 .8 2.2 .8 2.7 .8 2.4 .8 2.3 .8 2.8 .8 3.1 .7 2.3 .8 2.5 .8 2.5 .8 2.1 .8 2.3 .8 2.3 .7 2 .8 1.8 .8 2.2 .8 1.6 .8 1.8 .7 2.6 .8 1.4 .8 1.9 .8 1.7 .8 1.5 .7 1.8 .8 1.5 .8 1.6 .8 1.6 .7 1.9 .8 1.6 .8 1.4 .8 2.1 .8 .9 .8 1.7 .7 1.2 .8 1.8 .8 1 .8 1.1 .8 1.3 .7 1.1 .8 1.3 .8 1.1 .8 1 .8 .8 .8 .9 .7 1 .8 .9 .8 .9 .8 .8 .8 1 .8 .7 .8 .9 .8 .9 .8 .9 .8 .7 .8 1 .8 .8 .7 .7 .8 .9 .8 1 .8 .7 .9 1.1 .8 .8 .8 .8 .8 .8 .8 .9 .8 .6 .8 .8 .8 .8 .8 .6 .8 .7 .8 .5 .8 .7 .9 .2 .8 .7 .8 .4 .8 .7 .8 .2 .8 .6 .9 .3 .8 .7 .8 .6 .8 .4 .9 .5 .8 .2 .8 .6 .9 .5 .8 .3 .8 .5 .9 .5 .8 .5 .8 .6 .9 .4 .8 .6 .9 .1 .8 .5 .9 .6 .8 .4 .9 .4 .8 .5 .9 .5 .8 .4 .9 .6 .8 .7 .9 .5 .8 .1 .9 .6 .9 .7 .8 .2 .9 .6 .9 .4 .8 .7 .9 .1 .9 .6 .8 .3 .9 .5 .9 .4 .9 .4 .8 .6 .9 .4 .9 .5 .9 .4 .9 .5 .8 .5 .9 .2 .9 .5 .9 .8 .9 .4 .9 .3 .9 .6 .9 .3"/>
<path d="M56.8 249l.5-.8 .6-.7 .5-.9 .6-.6 .5-.8 .6-.9 .5-1 .6-.8 .5-1 .6-1.3 .5-1 .6-1.4 .5-1.7 .5-1.9 .5-2.2 .5-2.3 .5-2.3 .5-2.8 .5-2.5 .4-3.7 .5-3.1 .4-4.3 .5-3.5 .4-4.7 .4-4.8 .4-5.6 .4-5.7 .4-5.3 .4-5.4 .4-5.5 .2-1.8 .2-3 .2-2.2 .2-3.7 .1-4.3 .3-1.9 .2-1.9 .2-3.2 .1-4.6 .2-2.1 .3-2.2 .1-3.7 .2-3 .2-2.8 .2-4.5 .2-2.2 .3-1 .2-3.8 .2-2 .2-2.6 .3-2.3 0-7 .4 .1 .1-3.8 .2-3 .3-.6 .2-3.8 .3-2.3 .2-1.7 .2-5.3 .3 1.1 .3-.9 .2-3.3 .2-3.6 .4-.1 .4 1.4 .3-.7 .3-1.1 .2-1.8 .3-3.3 .2-2.2 .5 5.1 .2-5.7 .4 1.1 .1-4.7 .3-1.6 .4 2.6 .3-1.6 .4 .2 .2-3.7 .5 3.6 .2-1.8 .3-1.6 .2-4.9 .2-3.2 .5 4.9 .5 2.4 .2-3.4 .4 1.8 .2-3.4 .5 3.3 .3-2.1 .3-1.1 .3-1.5 .4 1.1 .2-3.3 .5 2.6 .5 4.6 .1-6.5 .4 3.1 .4 1.1 .2-4.8 .6 6.3 .3-2.1 .4 2.4 .2-4.3 .5 4.5 .4-.8 .5 4.2 .1-5.9 .6 6.3 .2-3.8 .4 .2 .3 .4 .4-.5 .6 7.4 .2-2.7 .5 1.5 .3 .2 .4-.5 .4 3.1 .5 2.9 .3-.5 .3-2.5 .6 6.8 .3-1.6 .4 3.3 .3-3 .6 6.8 .3-1.3 .4 1 .4 1.1 .3-2.7 .4 3.1 .6 6.5 .2-4.2 .6 7.7 .5 2.9 .4 1 .3-1.2 .4 1.1 .5 6.2 .3-2.6 .5 2.7 .3 .1 .5 3.2 .3-.3 .5 2.1 .4 4.2 .3-2.2 .5 3.4 .4 .9 .4 .9 .5 4.6 .3 .4 .5 2.6 .4 1.7 .4 0 .4 1.5 .3 .3 .4 1.5 .5 3.2 .4 2.4 .3-3.2 .4 2.6 .5 3.9 .4 2.3 .4 .8 .4 .7 .4 .6 .4 1.6 .4 2.2 .5 2.3 .4 1.3 .4 2.3 .4 1.6 .4 2 .4 1.4 .5 4 .4 .5 .4 1.7 .4 2.4 .4 .9 .4 2.3 .4 1.3 .4 1.2 .4 1.6 .4 1.8 .4 .4 .4 2.2 .4 1.5 .4 1.8 .5 2.2 .4 1.8 .4 .6 .4 2.3 .4 2.4 .4 1.7 .4 .1 .4 1.9 .8 2.4 .8 2.8 .8 2.5 .8 2.4 .8 2.8 .8 1.8 .7 2 .8 2.5 .9 3.4 .7 2.4 .8 2.7 .8 2.4 .8 2.3 .8 2.8 .8 3 .8 1.8 .8 2 .8 2.4 .8 1.5 .8 2.7 .8 1.5 .7 1.7 .8 2.7 .8 1.7 .8 1.6 .8 1.3 .8 2.7 .8 1.3 .8 1.8 .7 1.8 .8 1.6 .8 1.6 .8 1.7 .8 1.9 .8 1.2 .8 2 .8 1.4 .7 1.4 .8 1.4 .8 1.3 .8 1.4 .8 1.3 .8 1 .8 1.2 .8 1.3 .7 1 .8 1.2 .8 .9 .8 1.1 .8 .9 .8 .8 .8 .7 .8 1 .8 .8 .8 .9 .8 .9 .8 .9 .8 .9 .8 .9 .8 1 .8 .8 .8 .7 .8 .8 .8 1 .8 1 .8 .6 .8 1 .8 .9 .8 .9 .8 .8 .8 .7 .8 .7 .9 1 .8 .6 .8 .5 .8 .5 .8 .9 .8 .2 .9 .5 .8 .7 .8 .5 .8 .3 .9 .6 .8 .7 .8 .4 .8 .5 .9 .5 .8 .4 .8 .5 .9 .4 .8 .4 .8 .3 .9 .7 .8 .6 .9 .2 .8 .6 .9 .4 .8 .6 .8 .4 .9 .5 .8 .5 .9 .3 .8 .7 .9 .4 .9 .5 .8 .5 .9 .7 .8 .3 .9 .7 .9 .4 .8 .4 .9 .4 .9 .4 .8 .5 .9 .5 .9 .6 .8 .3 .9 .6 .9 .3 .9 .8 .8 .4 .9 .4 .9 .4 .9 .7 .9 .1 .9 .4 .9 .5 .9 .6 .8 .2 .9 .7 .9 .3 .9 .6 .9 .5 .9 .5 .9 .5"/>
<path d="M46.3 252.9l.6-.8 .5-.6 .6-.8 .5-.9 .6-.7 .5-.8 .6-1.1 .5-.9 .6-.8 .5-1.6 .5-1.2 .6-1.3 .5-1.8 .5-1.8 .5-2.1 .5-2.4 .5-2.1 .4-3 .5-3.1 .5-3.3 .4-3.3 .4-4.2 .5-3.6 .3-4.7 .4-5.2 .4-4.9 .3-6.2 .4-6.5 .3-6.1 .4-4.5 .2-2.8 .2-1.7 .2-2.6 .2-2.7 .2-4.1 .1-3.1 .3-2.1 .2-2.7 .1-4.5 .1-3.4 .2-3 .1-4.6 .3-1.8 .2-2.9 .2-1.7 .1-4.2 .2-4.2 .2-1.4 .2-2.8 .2-3.3 .2-2.6 .2-3.1 .2-2.7 .2-2.8 .4-.5 .1-4.2 .4 .6 .1-5.3 .3 .3 .2-4.1 .2-3 .3-.3 .2-2.7 .4 1.6 .2-2.9 .2-4.3 .4 2.2 .1-4.9 .5 2.7 .2-2.2 .4-.9 .1-3.4 .3-2.3 .4 2.2 .2-2.9 .2-5 .5 3.2 .3 .1 .2-3.5 .4 .5 .3 .3 .4 1.7 .1-6.6 .5 2.6 .2-1.9 .5 2 .1-6 .4 .9 .3-.9 .4 2.1 .3-1.7 .3-1.4 .3-.6 .4 1.4 .4 .7 .4 .6 .3 .8 .4 .5 .2-3.1 .5 1.6 .5 4.4 .2-4.1 .2-2.5 .5 3.7 .5 4.3 .3-3.6 .3-1.6 .4 1.9 .4 2.1 .2-4.8 .4 .5 .5 5.3 .3-1.4 .4 1.7 .4-.2 .3-.7 .5 2.3 .4 2.5 .5 2.6 .4 1.2 .3-.7 .3-1.6 .5 2.9 .4 1.5 .4 .7 .4 1.5 .3 .1 .6 4.7 .4 3 .3-1.8 .5 2.9 .2-3.9 .6 5.1 .4 1.8 .5 4.1 .3-1.7 .5 3.3 .3-1.4 .4 2.3 .5 4.6 .4-.3 .6 7 .3-1.8 .3-1.5 .4 2.4 .5 2.6 .4 1.9 .5 3.8 .4 1.5 .4-.7 .3-.6 .6 7.3 .3-2.3 .4 1.7 .4 1.2 .5 4.1 .4 1.1 .4 .9 .5 2.9 .4 1.8 .4 1.1 .4 .6 .4 .9 .4 1.9 .4 1.3 .4 2.3 .4 1.4 .4-.6 .4 2.8 .4 1.5 .4 .4 .4 1.3 .4 1.7 .5 2.7 .4 2.3 .4 1.6 .5 2.1 .4 .8 .4 3 .4 1.6 .5 2.4 .3 .6 .5 4.5 .4-.3 .4 1.3 .5 3.1 .3-.9 .5 3.3 .4 1.6 .4 2.3 .4 .3 .4 2.1 .4 2.3 .4 1.1 .5 1.5 .4 1.3 .4 2.2 .4 2.2 .4 1.2 .5 2.4 .7 1.9 .8 1.9 .8 2.8 .9 2.8 .8 2.6 .7 1.5 .9 3 .8 2.2 .8 2.7 .8 3.1 .8 1.9 .8 3.8 .8 2.8 .8 2.4 .8 2.5 .8 2.3 .8 2.2 .8 1.8 .8 2.3 .8 2 .8 2.5 .8 1.8 .8 1.5 .8 2.4 .8 1.4 .8 2.3 .8 1.6 .8 1.9 .8 1.6 .8 1.8 .8 1.6 .8 1.4 .8 2 .8 1.4 .8 2.1 .8 1.7 .8 1.4 .7 1.5 .8 1.1 .8 1.6 .8 1.3 .8 1.4 .8 1 .8 1.4 .8 1.2 .8 1.3 .8 1 .8 .9 .8 .9 .8 .9 .8 1.2 .8 .7 .8 .9 .8 1.1 .8 .7 .8 1.2 .8 .7 .8 .6 .8 1.3 .8 .8 .8 1.1 .8 .7 .8 .8 .8 1 .8 .8 .8 .9 .8 .9 .9 .8 .8 .9 .8 .8 .8 .9 .8 .9 .8 .5 .9 .7 .8 .9 .8 .4 .8 .5 .8 .6 .9 .6 .8 .7 .8 .4 .8 .7 .9 .3 .8 .3 .8 .6 .9 .5 .8 .6 .8 .5 .9 .5 .8 .4 .9 .5 .8 .5 .8 .3 .9 .8 .8 .4 .9 .4 .8 .5 .9 .5 .8 .6 .9 .3 .8 .5 .9 .5 .8 .6 .9 .4 .9 .5 .8 .6 .9 .4 .9 .6 .8 .3 .9 .9 .9 .4 .8 .5 .9 .4 .9 .5 .8 .4 .9 .4 .9 .7 .9 .4 .9 .5 .8 .5 .9 .4 .9 .4 .9 .6 .9 .6 .9 .1 .9 .6 .9 .4 .9 .5 .9 .5 .9 .4 .9 .5 .9 .6 .9 .4 .9 .6 .9 .6"/>
</g>
<line x1="266.6" y1="11.3" x2="266.6" y2="104.7" stroke="#aaa" stroke-width="0.9"/>
<line x1="266.6" y1="104.7" x2="383" y2="104.7" stroke="#aaa" stroke-width="0.9"/>
<line x1="266.6" y1="104.7" x2="266.6" y2="106.5" stroke="#555" stroke-width="0.8"/>
<line x1="272.73" y1="104.7" x2="272.73" y2="105.9" stroke="#555" stroke-width="0.8"/>
<line x1="278.86" y1="104.7" x2="278.86" y2="106.5" stroke="#555" stroke-width="0.8"/>
<line x1="284.99" y1="104.7" x2="284.99" y2="105.9" stroke="#555" stroke-width="0.8"/>
<line x1="291.12" y1="104.7" x2="291.12" y2="106.5" stroke="#555" stroke-width="0.8"/>
<line x1="297.25" y1="104.7" x2="297.25" y2="105.9" stroke="#555" stroke-width="0.8"/>
<line x1="303.38" y1="104.7" x2="303.38" y2="106.5" stroke="#555" stroke-width="0.8"/>
<line x1="309.51" y1="104.7" x2="309.51" y2="105.9" stroke="#555" stroke-width="0.8"/>
<line x1="315.64" y1="104.7" x2="315.64" y2="106.5" stroke="#555" stroke-width="0.8"/>
<line x1="321.77" y1="104.7" x2="321.77" y2="105.9" stroke="#555" stroke-width="0.8"/>
<line x1="327.9" y1="104.7" x2="327.9" y2="106.5" stroke="#555" stroke-width="0.8"/>
<line x1="334.03" y1="104.7" x2="334.03" y2="105.9" stroke="#555" stroke-width="0.8"/>
<line x1="340.16" y1="104.7" x2="340.16" y2="106.5" stroke="#555" stroke-width="0.8"/>
<line x1="346.29" y1="104.7" x2="346.29" y2="105.9" stroke="#555" stroke-width="0.8"/>
<line x1="352.42" y1="104.7" x2="352.42" y2="106.5" stroke="#555" stroke-width="0.8"/>
<line x1="358.55" y1="104.7" x2="358.55" y2="105.9" stroke="#555" stroke-width="0.8"/>
<line x1="364.68" y1="104.7" x2="364.68" y2="106.5" stroke="#555" stroke-width="0.8"/>
<line x1="370.81" y1="104.7" x2="370.81" y2="105.9" stroke="#555" stroke-width="0.8"/>
<line x1="376.94" y1="104.7" x2="376.94" y2="106.5" stroke="#555" stroke-width="0.8"/>
<line x1="266.6" y1="97.2" x2="265.3" y2="97.2" stroke="#777" stroke-width="0.8"/>
<line x1="266.6" y1="90.6" x2="265.3" y2="90.6" stroke="#777" stroke-width="0.8"/>
<line x1="266.6" y1="84" x2="265.3" y2="84" stroke="#777" stroke-width="0.8"/>
<line x1="266.6" y1="77.4" x2="265.3" y2="77.4" stroke="#777" stroke-width="0.8"/>
<line x1="266.6" y1="70.8" x2="265.3" y2="70.8" stroke="#777" stroke-width="0.8"/>
<line x1="266.6" y1="64.2" x2="265.3" y2="64.2" stroke="#777" stroke-width="0.8"/>
<line x1="266.6" y1="57.6" x2="265.3" y2="57.6" stroke="#777" stroke-width="0.8"/>
<line x1="266.6" y1="51" x2="265.3" y2="51" stroke="#777" stroke-width="0.8"/>
<line x1="266.6" y1="44.4" x2="265.3" y2="44.4" stroke="#777" stroke-width="0.8"/>
<line x1="266.6" y1="37.8" x2="265.3" y2="37.8" stroke="#777" stroke-width="0.8"/>
<line x1="266.6" y1="31.2" x2="265.3" y2="31.2" stroke="#777" stroke-width="0.8"/>
<line x1="266.6" y1="24.6" x2="265.3" y2="24.6" stroke="#777" stroke-width="0.8"/>
<line x1="266.6" y1="18" x2="265.3" y2="18" stroke="#777" stroke-width="0.8"/>
<text x="266.6" y="114.4" font-size="9.6" text-anchor="middle">32</text>
<text x="278.86" y="114.4" font-size="9.6" text-anchor="middle">34</text>
<text x="291.12" y="114.4" font-size="9.6" text-anchor="middle">36</text>
<text x="303.38" y="114.4" font-size="9.6" text-anchor="middle">38</text>
<text x="315.64" y="114.4" font-size="9.6" text-anchor="middle">40</text>
<text x="327.9" y="114.4" font-size="9.6" text-anchor="middle">42</text>
<text x="340.16" y="114.4" font-size="9.6" text-anchor="middle">44</text>
<text x="352.42" y="114.4" font-size="9.6" text-anchor="middle">46</text>
<text x="364.68" y="114.4" font-size="9.6" text-anchor="middle">48</text>
<text x="376.94" y="114.4" font-size="9.6" text-anchor="middle">50</text>
<polyline points="272.2,65.2 278.4,69.7 284.6,69.9 290.6,77.1 296.8,82.3 303.2,87.4 309.2,93.2 315.4,56.8 321.4,26.1 327.4,23.3 333.8,22.6 340,23.5 346.1,29.5 352.3,32.1 358.5,39.5 364.5,44.5 370.7,45.3 377.1,51.3" fill="none" stroke="#666" stroke-width="0.55"/>
<rect x="270.6" y="63.6" width="3.2" height="3.2" fill="#000"/>
<rect x="276.8" y="68.1" width="3.2" height="3.2" fill="#000"/>
<rect x="283" y="68.3" width="3.2" height="3.2" fill="#000"/>
<rect x="289" y="75.5" width="3.2" height="3.2" fill="#000"/>
<rect x="295.2" y="80.7" width="3.2" height="3.2" fill="#000"/>
<rect x="301.6" y="85.8" width="3.2" height="3.2" fill="#000"/>
<rect x="307.6" y="91.6" width="3.2" height="3.2" fill="#000"/>
<rect x="313.8" y="55.2" width="3.2" height="3.2" fill="#000"/>
<rect x="319.8" y="24.5" width="3.2" height="3.2" fill="#000"/>
<rect x="325.8" y="21.7" width="3.2" height="3.2" fill="#000"/>
<rect x="332.2" y="21" width="3.2" height="3.2" fill="#000"/>
<rect x="338.4" y="21.9" width="3.2" height="3.2" fill="#000"/>
<rect x="344.5" y="27.9" width="3.2" height="3.2" fill="#000"/>
<rect x="350.7" y="30.5" width="3.2" height="3.2" fill="#000"/>
<rect x="356.9" y="37.9" width="3.2" height="3.2" fill="#000"/>
<rect x="362.9" y="42.9" width="3.2" height="3.2" fill="#000"/>
<rect x="369.1" y="43.7" width="3.2" height="3.2" fill="#000"/>
<rect x="375.5" y="49.7" width="3.2" height="3.2" fill="#000"/>
<text x="324.2" y="122.9" font-size="9.6" text-anchor="middle">Temperature (<tspan font-size="6" dy="-4">o</tspan><tspan dy="4">C)</tspan></text>
<text x="260.8" y="43.2" font-size="9.6" text-anchor="middle" transform="rotate(-90 260.8 43.2)">Intensity (a.u.)</text>
</g>
<g id="pb">
<line x1="419.48" y1="23.81" x2="590.72" y2="4.29" stroke="#000" stroke-width="1.2"/>
<line x1="590.72" y1="4.29" x2="781.29" y2="21.08" stroke="#000" stroke-width="1.2"/>
<line x1="433.44" y1="264.44" x2="419.48" y2="23.81" stroke="#000" stroke-width="1.3"/>
<line x1="590.82" y1="202.46" x2="590.72" y2="4.29" stroke="#555" stroke-width="1.4"/>
<line x1="766.51" y1="253.81" x2="781.29" y2="21.08" stroke="#000" stroke-width="1.1"/>
<line x1="433.44" y1="264.44" x2="590.82" y2="202.46" stroke="#000" stroke-width="1.0"/>
<line x1="590.82" y1="202.46" x2="766.51" y2="253.81" stroke="#000" stroke-width="1.0"/>
<line x1="433.44" y1="264.44" x2="620.91" y2="344.11" stroke="#000" stroke-width="1.5"/>
<line x1="620.91" y1="344.11" x2="766.51" y2="253.81" stroke="#000" stroke-width="1.5"/>
<line x1="419.52" y1="24.6" x2="413.56" y2="25.28" stroke="#000" stroke-width="1.1"/>
<line x1="421.35" y1="56.1" x2="417.89" y2="56.62" stroke="#000" stroke-width="1.1"/>
<line x1="423.24" y1="88.7" x2="417.35" y2="89.81" stroke="#000" stroke-width="1.1"/>
<line x1="425.04" y1="119.6" x2="421.62" y2="120.37" stroke="#000" stroke-width="1.1"/>
<line x1="426.88" y1="151.4" x2="421.08" y2="152.92" stroke="#000" stroke-width="1.1"/>
<line x1="428.67" y1="182.3" x2="425.32" y2="183.3" stroke="#000" stroke-width="1.1"/>
<line x1="430.44" y1="212.8" x2="424.75" y2="214.7" stroke="#000" stroke-width="1.1"/>
<line x1="432.14" y1="242" x2="428.85" y2="243.21" stroke="#000" stroke-width="1.1"/>
<line x1="433.44" y1="264.44" x2="427.86" y2="266.64" stroke="#000" stroke-width="1.1"/>
<line x1="448.97" y1="271.04" x2="445.73" y2="272.36" stroke="#000" stroke-width="1.1"/>
<line x1="465.1" y1="277.89" x2="459.57" y2="280.24" stroke="#000" stroke-width="1.1"/>
<line x1="481.87" y1="285.02" x2="478.67" y2="286.44" stroke="#000" stroke-width="1.1"/>
<line x1="499.32" y1="292.44" x2="493.87" y2="294.95" stroke="#000" stroke-width="1.1"/>
<line x1="517.49" y1="300.16" x2="514.34" y2="301.68" stroke="#000" stroke-width="1.1"/>
<line x1="536.43" y1="308.21" x2="531.07" y2="310.91" stroke="#000" stroke-width="1.1"/>
<line x1="556.18" y1="316.6" x2="553.09" y2="318.24" stroke="#000" stroke-width="1.1"/>
<line x1="576.81" y1="325.37" x2="571.56" y2="328.29" stroke="#000" stroke-width="1.1"/>
<line x1="598.36" y1="334.53" x2="595.34" y2="336.3" stroke="#000" stroke-width="1.1"/>
<line x1="620.91" y1="344.11" x2="615.81" y2="347.27" stroke="#000" stroke-width="1.1"/>
<line x1="621.2" y1="343.93" x2="624.42" y2="345.3" stroke="#000" stroke-width="1.1"/>
<line x1="635.24" y1="335.22" x2="640.79" y2="337.5" stroke="#000" stroke-width="1.1"/>
<line x1="648.71" y1="326.87" x2="651.96" y2="328.16" stroke="#000" stroke-width="1.1"/>
<line x1="661.65" y1="318.85" x2="667.25" y2="321" stroke="#000" stroke-width="1.1"/>
<line x1="674.08" y1="311.14" x2="677.36" y2="312.36" stroke="#000" stroke-width="1.1"/>
<line x1="686.03" y1="303.72" x2="691.68" y2="305.76" stroke="#000" stroke-width="1.1"/>
<line x1="697.54" y1="296.58" x2="700.84" y2="297.74" stroke="#000" stroke-width="1.1"/>
<line x1="708.62" y1="289.71" x2="714.3" y2="291.64" stroke="#000" stroke-width="1.1"/>
<line x1="719.3" y1="283.08" x2="722.63" y2="284.19" stroke="#000" stroke-width="1.1"/>
<line x1="729.61" y1="276.7" x2="735.32" y2="278.54" stroke="#000" stroke-width="1.1"/>
<line x1="739.55" y1="270.53" x2="742.89" y2="271.58" stroke="#000" stroke-width="1.1"/>
<line x1="749.15" y1="264.57" x2="754.89" y2="266.33" stroke="#000" stroke-width="1.1"/>
<line x1="758.43" y1="258.82" x2="761.78" y2="259.82" stroke="#000" stroke-width="1.1"/>
<text x="420" y="278.4" font-size="13" text-anchor="middle">400</text>
<text x="452.4" y="292.2" font-size="13" text-anchor="middle">450</text>
<text x="486.8" y="307.9" font-size="13" text-anchor="middle">500</text>
<text x="525.4" y="323.9" font-size="13" text-anchor="middle">550</text>
<text x="566.8" y="341.9" font-size="13" text-anchor="middle">600</text>
<text x="610.9" y="361.2" font-size="13" text-anchor="middle">650</text>
<text x="648.9" y="350.1" font-size="13" text-anchor="middle">46</text>
<text x="675.2" y="333.3" font-size="13" text-anchor="middle">48</text>
<text x="700.3" y="317.5" font-size="13" text-anchor="middle">50</text>
<text x="722.8" y="303" font-size="13" text-anchor="middle">52</text>
<text x="743.4" y="289.5" font-size="13" text-anchor="middle">54</text>
<text x="762.9" y="277.4" font-size="13" text-anchor="middle">56</text>
<text x="781.7" y="265.4" font-size="13" text-anchor="middle">58</text>
<text x="486.8" y="327" font-size="13.5" text-anchor="middle" transform="rotate(25.5 486.8 327)">Wavelength (nm)</text>
<text x="724.8" y="323.1" font-size="13.5" text-anchor="middle" transform="rotate(-33.3 724.8 323.1)">Temperature (<tspan font-size="8.5" dy="-5.5">o</tspan><tspan dy="5.5">C)</tspan></text>
<text x="408.3" y="151.5" font-size="13.5" text-anchor="middle" transform="rotate(-93.24 408.3 151.5)">Intensity (a.u.)</text>
<text x="423" y="43.1" font-size="19" text-anchor="start">(b)</text>
<g fill="none" stroke="#ee0610" stroke-width="1.3">
<path d="M581.7 196l.6-.7 .6-.8 .6 .4 .6-1.8 .6 .7 .6-2 .6-.6 .6-1.7 .6-1.3 .6-1.6 .6-2.1 .6-1.4 .6-2.2 .6-2.5 .7-1.6 .6-1.5 .6-3 .6-2.5 .6-2.6 .7-3.5 .6-2.8 .6-2.6 .6-3.1 .7-2.6 .6-3.3 .6-4.1 .7-.8 .6-4.9 .7-1.8 .6-2.9 .6-3 .7-2.9 .3-2.9 .4-1.1 .3-1.5 .3-2.3 .3-3 .4-.5 .3-2.3 .3-3.2 .4-.4 .3-3.9 .3-4.1 .4-.8 .3-1.2 .4-4.6 .3-1.1 .3-3.7 .4-1.2 .3-1.5 .3-.5 .4-3.5 .3-.7 .4-1.3 .3-1.4 .3-1.3 .4-1.1 .3-1.1 .3 .3 .4-2.7 .3-1.9 .4-3.3 .3-1.7 .4 .7 .3-2.3 .4-1.6 .3-2.8 .4-1.7 .3-2.1 .4 0 .3-2 .4-4.8 .3 2.9 .4-5 .3-.3 .4-1.5 .3 0 .4-1 .3-2.2 .4 .3 .3-1.2 .4-.7 .3-2 .4-.3 .3-.6 .4-2.2 .3-.3 .3 1.5 .4-2.8 .4-3 .3 .7 .4-2.6 .3 4.5 .4-4.1 .3 3.1 .4-4.9 .3 1.4 .4-1.3 .4-1.5 .3 1.8 .3-.5 .4-.7 .4-2.2 .3-1.2 .3 3.4 .4 .1 .4-1.8 .3 2 .3 .2 .4-3.3 .4 1.7 .3-3.6 .3 4.3 .4-4.2 .4 .6 .3 2.7 .4-.8 .3 5 .4-4.9 .3 .4 .4 1.6 .4-3.6 .2 6.6 .4-5.1 .4 1.3 .3-.1 .3 3.1 .5-3.5 .3 2.2 .3-1 .4-1.1 .3 3.2 .3 3.6 .5-5.2 .3 .4 .3 1.1 .4 1 .3 .8 .4-1.2 .4-.2 .3 2.5 .4-2.1 .3 3.4 .3-.4 .4 2.3 .3 .8 .4-.4 .3 1.6 .4 .3 .3 1.2 .3 2.8 .4 .1 .3 1.6 .3 1.4 .4 .9 .3 2.4 .3 1.3 .4 .8 .3 3.5 .4-1.3 .3 1 .3 5.5 .4-2.7 .3 3.2 .3 1.4 .4-.8 .3 3.3 .3-.3 .4 2.4 .3 2 .4-2.5 .3 4.6 .3 2 .3 .4 .4-1 .3 5.7 .4-1.7 .3 3.8 .3 .4 .3 1.8 .4 .3 .3 3.5 .4-1.5 .2 4 .4 2.5 .3-.3 .4 .8 .3 1.5 .3 1 .3 2.5 .4-.4 .3 1.9 .3 3 .4 .7 .3 1.6 .4 .8 .3 .9 .3 2 .4 1.1 .3 .6 .3 1.4 .4 1 .2 5.5 .4-.8 .3 1.5 .4 1.2 .3 1.7 .3 1.2 .4-.1 .3 .6 .3 3 .4-.3 .3 3.3 .4-1.1 .3 .2 .4 1.6 .3 2.4 .3 1.1 .4 .6 .3 0 .3 1.9 .4 1.3 .3 1 .3 2.4 .3 2 .4 .2 .3 1.2 .4 .7 .6 2.5 .8 .1 .6 4.5 .7 2 .7 .6 .6 2.7 .8 .8 .6 2.1 .7 2.9 .7 2.5 .6 3.7 .7 .8 .7 2.9 .7 1.9 .6 1.8 .7 2.4 .7 2.4 .7 1.6 .7 1.9 .7 .6 .7 2 .7 1.4 .7 1.7 .7 1.2 .7 1.8 .7 .7 .7 1.8 .7 .5 .7 1.4 .7 .8 .8 .8 .7 1.4 .7 1.1 .7 .7 .7 1.6 .8 .7 .7 .8 .7 1.8 .7 .6 .8-.4 .7 1.8 .7 .9 .8 .7 .7 1.2 .7 1 .8 .8 .7 .3 .8 .7 .7 1.9 .7 .7 .7 .8 .7 1.6 .8 .5 .8 .5 .7 1 .8 .4 .6 2.1 .8 .8 .7 .5 .8 1.2 .7 .6 .8 1.4 .7 1.6 .7 .5 .8 1.2 .8 .1 .7 .3 .8 .9 .7 1.1 .8 1.2 .8-.2 .7 .8 .8 .5 .8 .2 .8-.5 .7 1.7 .8 .6 .7 .8 .9-.6 .7 1.2 .8 .8 .8-.1 .8 0 .8 1.1 .8-.1 .7 1.1 .9-.8 .7 1.5 .8-.1 .8 .8 .8 .3 .8 .1 .8 .8 .8 .3 .8-.1 .8-.1 .8 1.2 .8 .7 .8 .4 .8 1.1 .8 .4 .8 .5 .8-.2 .8 .6 .8 .6 .9-.7 .7 1.5 .9 .1 .8 .7 .8 .6 .8 .3 .7 1.3 .9-.2 .8 0 .9 .2 .8 1.2 .8-.3 .8 .6 .8 .8 .8 .8"/>
<path d="M571.3 198.9l.6 0 .6 0 .6-.8 .6-.3 .6-1.2 .6-.8 .6-1.4 .6-1.2 .6-1.9 .6-1.3 .6-1.4 .6-2.9 .6-1.5 .6-2 .6-2.3 .6-3.1 .6-1.8 .6-2.6 .6-2.3 .7-3.2 .6-2.9 .6-3 .6-3 .6-3.5 .7-2.4 .6-4 .6-3 .6-1.9 .7-3.8 .6-2.4 .7-3.9 .6-3.5 .3-.3 .3-1.2 .4-3.9 .3-1.9 .3-1.6 .3-1.6 .4-1.9 .3-.7 .3-5.5 .3 .5 .4-4.9 .3-2.5 .3-3.2 .4-1 .3-2.6 .3-3.4 .3-.4 .4-3 .3-.2 .3-3.1 .4-1.8 .3-.9 .4-1.9 .3 .5 .3-2.1 .4-1.6 .3-3.5 .3 .7 .4-2.3 .3-3.1 .4-.6 .3-2.6 .3 .7 .4-4.4 .3-.6 .4-2.4 .3-2 .3 1.9 .4-5.8 .3 .6 .4-3.8 .3 .7 .4-2 .3 1.3 .4-1.7 .3-4.5 .4 1.7 .3-2.8 .4-.6 .3 .7 .4-2.5 .3-1.1 .4-2.2 .3 .8 .4-.6 .3-4.2 .4-.9 .3 1.4 .4 1.1 .3-3.3 .4 .8 .4-4.1 .3 1.7 .3 .4 .4-1.2 .3 .5 .4-2 .3 1.8 .4-2.9 .4-1.4 .3 .4 .3 2.3 .4-2.5 .4 1.2 .3 1.7 .4-2.5 .3-1.9 .4 1.1 .3 1 .4 .5 .3-1.1 .4-.8 .3 .5 .4-1.7 .4 .7 .3-.2 .3 2.4 .4-1.2 .4 .9 .3-.5 .4 .3 .4-3.7 .3 6.6 .3-2.6 .4 1.8 .4-1.4 .3 .4 .4-2.1 .3 3.2 .4 1.2 .3-1.6 .4 .3 .3 4.6 .4-6.8 .3 5.4 .4-3.8 .4 1.2 .3 .5 .3 3 .4 2.8 .3 .9 .4-2.3 .3 4.1 .4-.3 .3 2.5 .3 1.5 .4-1.3 .3 4.3 .4 .2 .3 1.5 .4 .7 .3 1.9 .3 2.9 .4 .5 .3 1.3 .4-2.1 .3 3.1 .4 2.6 .3 .9 .4 2 .3-1.6 .3 3.9 .4 2.4 .4-5.6 .3 8 .3 1.1 .3 1.9 .4-.4 .3 3.1 .4 1.7 .3-.6 .4 1.1 .3 3.2 .3 3.3 .4-.3 .3 3 .3 .5 .4 1.6 .3 3.2 .3-.8 .4 2.5 .3 1.6 .3 2.6 .4-.8 .3 3.2 .4 .5 .3 2.5 .3 1.6 .4 1.3 .3 1.8 .4 .1 .3-.4 .4 1.7 .3 3.5 .3 1.4 .4-.6 .3 2.3 .3 2.3 .3 1.9 .4 1.5 .3 3.2 .3-.2 .4-1.1 .4 1.7 .3 2.8 .3 .2 .4 1.3 .3 2.1 .3 1.4 .4 .8 .3 .5 .4 .2 .3 2.1 .4 1.4 .3 1.4 .4 .2 .3 1 .3 2.4 .4 1.7 .3 .9 .3 1.2 .4 .8 .3 1.5 .3 2.5 .4 .7 .3 1.3 .7 1.4 .7 3.2 .7 2.4 .7 .8 .7 2.5 .7 2.3 .7 2.3 .6 3 .7 2 .7 3.2 .7 2.3 .7 1.2 .6 2.5 .8 1.2 .6 2.4 .7 2.4 .7 1.6 .7 1.8 .7 1.1 .8 1.2 .7 1.7 .7 1.3 .7 1.9 .7 .2 .7 1.6 .7 1 .7 2.2 .8 .7 .7 1.4 .7-.1 .7 1.9 .8-.1 .7 1.9 .7 1.4 .8 .2 .7 .7 .7 1.9 .7 1.1 .8 .7 .7 1.4 .7 .9 .8 1.4 .7 .3 .7 1.3 .8 .3 .7 1 .8 .7 .7 1.4 .7 1.2 .8 .4 .7 1.9 .7 1.6 .8 .7 .7 .6 .8 .5 .8 .8 .7 1.8 .8 .1 .7 1.2 .7 .8 .8 1.6 .7 .5 .8 1.5 .8-.3 .7 .9 .8 .1 .8 .4 .7 1.4 .8-.2 .8 .4 .8 1.1 .8-.4 .7 1.6 .8 .7 .8-.2 .8-.3 .8 1 .7 1.3 .8-.1 .8-.3 .8 1.3 .8 .2 .8 .8 .8-.8 .8 .6 .7 1.8 .8 .6 .9-.5 .8 .5 .8 .7 .8 .4 .7 .7 .9-.1 .8 .5 .8 .3 .8 .6 .8 1.1 .8 .5 .8 .4 .8 .3 .8 .8 .8 .6 .8 .3 .8 .6 .8 .3 .9-.3 .8 .6 .8 1.3 .8 .1 .8 .6 .8 .7 .9-.3 .8 1.3 .9-.6 .8 .5 .8 .6 .9-.5 .8 .1 .9 .6 .8 .1"/>
<path d="M560.6 203.4l.6 0 .6-.1 .6-.9 .6-.2 .6-.6 .5-2 .6-1.1 .6-1 .6-2.2 .6-.9 .6-2.1 .6-1.9 .6-1.9 .6-2.2 .6-2.9 .6-2 .6-1.2 .6-3.7 .6-1.5 .6-3.5 .6-3.8 .7-2.3 .6-4.4 .6-2.2 .6-3.5 .6-2.7 .6-3.2 .6-3.3 .7-1.3 .6-4 .6-3.4 .7-4.1 .3-1.4 .3-1.2 .3-1 .3-1.7 .3-2.5 .4-2.8 .3-2.1 .3-3.2 .3-1.4 .3-2.9 .4-1 .3-4.3 .3-2.1 .3-2.3 .3-4.1 .4-.9 .3-2 .3-1.8 .3-.3 .4-1.2 .3-5.2 .3 .6 .4-1.3 .3-1.6 .3-.7 .4-1.6 .3-.8 .3-3 .4-1.1 .3-3.1 .3-2.4 .4 1.5 .3-4 .3-.4 .4-5.2 .3 .8 .4-2.8 .3 .3 .3-4.1 .4 1.3 .3-.8 .4 .4 .3-4.8 .3-.7 .4-2.1 .3 .5 .4-2.5 .3-1.1 .4 .6 .3-5.9 .4-1.5 .3 2.1 .4-1.4 .3-1.1 .4-1.1 .3 1.7 .3-2.7 .4-3.4 .3 2.6 .4-.7 .3 .4 .4-1.7 .3 2.4 .4-4.5 .4-2.7 .3 .8 .4-.2 .3-.2 .4-.2 .3 1.7 .4 1.3 .3-7 .4 2.2 .3 4.8 .4-7.1 .3 3.6 .4-2.7 .3 1.9 .4 .9 .4-2.8 .3 2.3 .3 3.9 .4-5.5 .4 1.2 .3 .1 .4 .6 .3-1.3 .4-1.9 .4 1.1 .3 1.4 .4 .6 .3 1.7 .4-4.5 .3 7.1 .4-1.6 .3-1.3 .4-.4 .4 0 .3 1.5 .4-4.1 .3 1.5 .4 5.9 .3-1.4 .4 1.1 .4-4.7 .3 4 .3 2.7 .4-1.5 .4 2.7 .3-1.4 .4-.1 .3 4.4 .4-1.3 .3 1.1 .4 3 .3-.9 .4 3.2 .3-1 .4 2.7 .3 1.9 .4-1.7 .3 2.2 .4 3.6 .3 6 .4-4 .3 2.6 .4 0 .3 1.9 .4 1.7 .3 1.4 .4-1.3 .3 1.2 .4 1.5 .3 4.9 .4 .3 .3 .6 .3 4.4 .4-2.7 .3 4.5 .4-1.2 .3 3.8 .4 .4 .3 4.6 .3 2.6 .4-.6 .3 2.4 .4 1.5 .3 .5 .4 .7 .4 .9 .3 3.6 .3 2.2 .4-.1 .3 2.5 .3 1.6 .4 .5 .4-.4 .3 2.3 .3 3.9 .4-3 .3 4.9 .4-.2 .3 2.5 .4-.4 .3 2.2 .4 .8 .3 2.5 .3 2 .4 .2 .3 4.5 .4 .9 .3 1.5 .4 .1 .3 1.5 .3 1.5 .4-.3 .4 1.3 .3 2 .3 1.9 .4-1.9 .4 2.7 .3 1.9 .4 .5 .3 1.1 .3 2.1 .4 .1 .3 1.8 .4 1.9 .3 0 .4 2.6 .3 0 .4 2.2 .3 1.6 .4 .1 .3 2.4 .4 .4 .7 1.6 .6 3.3 .7 2.1 .8 1.1 .7 2 .6 4.4 .8 .7 .7 2.2 .6 3.7 .7 1.5 .7 3.2 .7 2.3 .7 1.9 .7 1.4 .7 2.6 .7 1.9 .7 1.4 .8 1.2 .6 3.1 .8-.2 .7 1.3 .7 2.7 .7 .9 .8 1 .7 1.5 .7 .3 .7 2 .8 1.5 .7 1.1 .7 .7 .8 1.6 .7 .9 .7 1 .8-.1 .7 1.6 .7 1.8 .8 .2 .7 2.5 .8-.4 .7 .6 .8 1.1 .7 .9 .8 1.1 .7 1.4 .7 .8 .8 1 .7 1.6 .8 .3 .7 1.6 .8 .3 .8 .3 .7 1 .8 .8 .7 2.4 .7 1 .8 .5 .7 1.7 .8 .2 .7 1.5 .8 .6 .7 1.2 .8-.1 .8 .9 .8 .9 .7 1.5 .8-.5 .8 1.3 .7 1 .8-.2 .8 .2 .8 1.7 .8-.6 .8 1 .8 .4 .8 .1 .7 .9 .8 .5 .9-.3 .7 2 .8-1.1 .8 1.5 .8-.7 .8 1.5 .8-.6 .8 1.8 .9-1.1 .7 1.3 .8 .6 .8 .5 .9-.1 .7 1 .9 .2 .8 .6 .7 1.1 .9-.8 .8 1.3 .8 .3 .8 .5 .8 .6 .9-.3 .8 1.2 .8 .8 .8 .3 .8 .7 .8 .9 .9-.6 .8 1.5 .8-.6 .8 1 .9 .1 .8 .8 .8 .5 .9-1 .8 1.5 .8 .5 .9-.3 .9-.2 .8 1.5 .8-.1 .9-.4"/>
<path d="M549.5 207.9l.6-.2 .6-.6 .6-.1 .6-.7 .6-1.1 .6-.6 .6-1.4 .6-1.4 .6-1.4 .6-1.4 .6-1.7 .6-2.1 .6-1.7 .5-2.2 .6-4 .6-1.2 .6-2.8 .6-2.3 .6-3 .6-2.7 .6-3.5 .6-2.8 .6-3.1 .6-2.3 .6-4.2 .6-2.2 .6-3 .6-3.2 .6-2.9 .7-3 .6-4.1 .6-2 .3-1 .3-3 .3-.4 .3-3.4 .3-3 .3-2.3 .4-.1 .3-3.3 .3-1 .3-3.8 .3-3.7 .3-1.2 .3-4.7 .3-1.3 .3-4.6 .4 .9 .3-1.7 .3-4 .3-1.2 .3-1.3 .4 0 .3-2.4 .3-.6 .3-3.7 .4-.4 .3 0 .3-1.3 .4-.8 .3-2.7 .3-2.4 .3-2.3 .4-2.6 .3 .2 .3-4.1 .4 2.5 .3-4.3 .3-2.8 .4-.1 .3-2.7 .3-2.4 .4 .5 .3-2.5 .3-2.7 .4 2.2 .3-4.7 .4 .7 .3 .9 .4-4 .3-1.5 .3 .2 .4-1.8 .3-1.3 .4-.2 .3-1.1 .4-2.1 .3-.7 .4 .4 .3 2.3 .4-1.8 .3-2.3 .3-3.4 .4 .3 .3-3 .4 1.6 .4-.6 .3 .7 .4-3.2 .3 4.2 .4-3.3 .3 .7 .4 .4 .3-2.8 .4 .2 .3 .4 .4 1.1 .3 1.9 .4-.3 .3 2.1 .4-2.2 .4-3.1 .3-1.9 .4 4.6 .3-4.2 .4-1.2 .3 1.6 .4-1 .3 3.2 .4 1 .4-1.3 .3-1.1 .4 1.1 .3 .7 .4-1 .4 3.3 .3-2.9 .4 5.3 .3-6 .4 .2 .4-1.5 .3 6.2 .4-.4 .3 1.1 .4 1.1 .3 1.9 .4-5.2 .4 2.4 .3 .6 .4 3.8 .4-2.5 .3-2.3 .4 4.4 .3 0 .4 4.7 .3-2.7 .4 3.2 .4 1 .3 .8 .4 2.3 .3-.2 .4 2.8 .3 2 .4 2.5 .3 1.6 .4-1.7 .4 1.1 .3 3.2 .4 1.5 .3 1.9 .4 .2 .3-.5 .4 3 .3 2.4 .4-1 .4 1.8 .3 5 .4-.4 .3-.9 .4 2.7 .3 2.3 .4 1 .3 3.9 .4 1.7 .3 .3 .4 1.4 .3-.3 .4 3.8 .3 1.1 .4 .1 .3 4.2 .4 1.2 .3 1.2 .4 1.2 .3 1.6 .4 .8 .3 3.6 .4 1.5 .4 0 .3 3 .4-2.1 .3 4 .4 1.2 .3 .2 .4 1.8 .3 1.4 .4 2.2 .3 2.9 .4 .5 .3 2 .3 2.5 .4 .2 .4 .2 .3 3.1 .4 1.1 .3 1.2 .4-.1 .3 3.6 .4-1.1 .3 1.4 .4 1.3 .3 1.9 .4 .6 .4-.6 .3 2.6 .4 1.8 .3 .3 .4 3.1 .3-.6 .4 2.4 .4-.7 .3 1.6 .3 2.6 .4 1.4 .3 1.9 .4 .5 .4 1 .3 2.7 .7 2.1 .7 .6 .7 2.8 .8 1.7 .7 2.3 .7 2.4 .7 2.9 .7 2.1 .7 2 .7 2.4 .7 3.4 .7 1.9 .7 2.1 .7 2.9 .7 1.9 .8 1 .7 1.3 .7 1.5 .7 2.3 .8 .8 .7 1.8 .7 1.6 .8 .6 .7 2.7 .7 1.6 .8-1 .7 2.2 .7 .7 .8 1.5 .7 1.4 .7 1.3 .8 1.4 .7 0 .8 1.6 .7 .6 .8 .8 .7 1.1 .8 .9 .7 .3 .8 1.5 .7 1 .8 1.2 .7 .2 .8 1.1 .7 1.9 .8 .6 .7 1.3 .8 1.3 .7 1.2 .8-.2 .7 1.7 .8 2.2 .8-.4 .7 .6 .8 1.8 .7 1.1 .8 .9 .8 .6 .7 1.6 .8 .4 .7 1.7 .9-.4 .7 1.7 .8 .3 .8 .3 .8 .3 .7 1.3 .8 .6 .8-.5 .8 1.5 .8 .6 .8 .3 .8 0 .8 .4 .8 .3 .8 .7 .8 .9 .8 0 .8 .3 .8 1.3 .8 .3 .8 .2 .8-.3 .8 1.4 .8 .3 .8 .5 .8 .4 .8 .3 .8 1.3 .8 1.3 .9-1.1 .7 1.8 .9-.6 .8 .4 .8 .4 .8 1.3 .9-.2 .8 .4 .8 .5 .8 .3 .8 1.5 .9 .3 .8 .4 .8 .4 .9 0 .8 .6 .8 .8 .9-.3 .8 .9 .8 1.2 .9-.8 .8 1.5 .8 .2 .9-.1 .9 .3 .8 .1 .9 .2 .8 .7 .9 .2 .9-.3"/>
<path d="M538.2 212.5l.6 .1 .6-.3 .6-.7 .5-.9 .6-.6 .6-.7 .6-1 .6-2.1 .6-.9 .6-1 .6-2.3 .6-1 .5-2.5 .6-2.6 .6-1.8 .6-2.2 .6-2.8 .6-2.7 .6-1.7 .5-2.8 .6-3.1 .6-2.8 .6-3.8 .6-3.1 .6-2.4 .6-2.3 .6-2.5 .6-3.6 .6-2.5 .6-3.7 .6-2.1 .6-3.8 .3-1.8 .3-2.7 .3-1.6 .3-1.6 .3-1.7 .3-2.3 .3-.1 .3-4.2 .3-1.3 .3-3.9 .3-2.2 .3-3.1 .3-1 .3-5.6 .3-.1 .3-1.9 .4-1.1 .3-2.6 .3 .9 .3-5 .3-.5 .4-.8 .3-2.8 .3-.5 .3-1.2 .3-.3 .4-2.4 .3 .1 .3-1.6 .3-3.1 .4-.8 .3-.8 .3-3.1 .3 .3 .3-6 .4 1.5 .3-1.7 .3-4.9 .4 2.5 .3-.5 .3-4.4 .4-1 .3-3.1 .3 .4 .4 1.1 .3-3.7 .3-.5 .4-3.3 .3 .3 .4 .9 .3-1.4 .3-2 .4-.2 .3-1.9 .4-1 .3 1.5 .3-3.1 .4-1.7 .3 2.5 .4-.3 .3-4.4 .4-.5 .3-1.3 .3-2.1 .4 2.5 .4 1.1 .3-2.6 .4 1.2 .3-2.1 .4-.9 .3 .9 .4-1 .3 .8 .4-.6 .3 2.3 .4-5.1 .3 4.1 .4-.6 .4 .5 .3-.8 .4 .3 .3 2.8 .4-6.2 .3 2.2 .4 1.2 .3-.3 .4-1.7 .4 .4 .3 1.1 .4-.9 .3 6.4 .4-5.9 .4 2.1 .3 1.1 .4 .7 .3-1.7 .4 3.4 .4-3.4 .3 2.1 .4-2.4 .3 4.7 .4-3.6 .4 1.8 .3 1.7 .4-3.7 .4 .9 .3 4.3 .4-.2 .3-2 .4 3.4 .4 2.3 .3 1.8 .4 .9 .4-1.1 .3 .7 .4 3.3 .3 2.3 .4 1 .4 3 .3-2.2 .4 2.2 .3-.2 .4-.3 .4 2.9 .3 4 .4 1.2 .3 2.8 .4 2.4 .4-4.5 .3 3.6 .4 3.9 .4-1.9 .3 5.3 .4-1.3 .3 1 .4 2.4 .4 1.4 .3-.1 .4 3.4 .3-.5 .4 5.5 .4-.1 .3-1 .4 5 .3 1.6 .4 .3 .3 2.1 .4 .8 .4 .6 .3 2 .4 1.9 .3 2.1 .4 .7 .4 .6 .3 3.4 .4 .8 .3 2.1 .4 .2 .4 1.2 .3 2.1 .4 2 .3 1.2 .4 .2 .3 2.8 .4 .2 .4 2.9 .3 1.7 .4 0 .3 2.9 .4-.4 .3 4.3 .4-.8 .4 1.6 .3 1 .4 .6 .3 3 .4-2.4 .4 3.3 .4-1.3 .3 2.6 .4 1.7 .3 2.7 .4-1.4 .3 2.2 .4 1 .3 3.5 .4 1.5 .4 .3 .3 .6 .4 1 .3 1 .4 2.7 .3 1.5 .4-.5 .4 2.3 .3 .4 .8 .5 .7 3.7 .7 1.6 .7 2.4 .7 2.6 .8 2.3 .7 2.6 .7 2.8 .7 1.4 .7 2.6 .7 3.2 .8 .6 .7 2.7 .7 2 .8 2.1 .7 .8 .7 2 .8 1.9 .7 1.5 .7 .3 .8 2.2 .7 1.3 .8-.2 .7 2.3 .7 1 .8 1.4 .7 1.2 .8 1.6 .7 .2 .8 1.3 .7 1.5 .8 .7 .7 .1 .8 1.7 .7 1.1 .8 1.3 .7 .9 .8 .4 .8 .8 .7 1.3 .8 .7 .7 1.8 .8 .8 .7 .7 .8 .7 .7 1.8 .8 .4 .8 2 .7 .1 .8 .9 .8 1.7 .7 .7 .8 .8 .8 1.7 .7 .8 .8 1 .8 .5 .8 .7 .7 1.6 .8 .7 .8 .1 .8 1.2 .8 .4 .8 .1 .7 .9 .8 .1 .8 1 .8 .6 .8 .8 .8 1.1 .8-.3 .8 1.1 .8-.7 .8 .4 .8 .6 .8 .2 .9 0 .7 2.1 .8-.2 .9 .1 .7 1 .9 .4 .8 0 .8 .7 .8 1.4 .8-.8 .8 1.5 .8 0 .9 .4 .8 1.5 .8-1 .8 .9 .9 .7 .8 .3 .8 1 .8 .1 .9 .5 .7 1.8 .9 .1 .9-.4 .7 1.4 .9-.2 .8 .7 .9 .1 .8 1.6 .9-.4 .8 .4 .8 .2 .9 .3 .8 .3 .9 .2 .9 .2 .8 .8 .9-.6 .8 .9 .9 .5 .9-.2 .8 1.2 .9-.8 .8 .9"/>
<path d="M526.4 217l.7 .5 .6 .3 .5-1.7 .6-.6 .6-.3 .6-1.4 .6-1.2 .6 .1 .6-2.5 .6-.9 .5-2.4 .6-1.7 .6-2.2 .6-1.5 .5-2 .6-2.7 .6-3.2 .6-1.6 .5-1.9 .6-3.3 .6-2.8 .5-3.7 .6-2.4 .6-2.7 .6-3.1 .6-2.3 .6-3.4 .6-1.8 .6-3.2 .6-3.4 .6-2.1 .6-3.2 .3-2.1 .2-3.2 .3-1.3 .3-1.3 .3-2.5 .3-1.9 .3-.8 .3-1.7 .3-4 .3-.9 .3-3.8 .3-.8 .3-3.9 .3-1.3 .3-3.9 .3-2.2 .3-1.6 .3-2 .3-.3 .3-2.4 .3-1.6 .3 .2 .3-2.8 .4-1 .3-1.5 .3-.6 .3-1.6 .3-2.1 .4-1.2 .3-2.1 .3 .6 .3-4.4 .3 .4 .3-4 .4 1.5 .3-2.7 .3-2.8 .3-1.8 .3-.4 .4-.9 .3-3.5 .3-2 .4 1.6 .3-.8 .3-2 .3-1.8 .4 1.4 .3-2.1 .3-3.6 .4 1.2 .3-.9 .3-4.6 .4-.2 .3-1.9 .4 1.9 .3-.6 .4-.4 .3 1 .4 .3 .3-4.1 .3 .4 .4-3.1 .3-1.3 .4 3.6 .3-.8 .3-3.3 .4-2.5 .3-.7 .4 3.7 .4-1.5 .3-2.6 .4 3.6 .3 .3 .3-4.3 .4 3.5 .4 .7 .3-5.1 .4 3.6 .3-.1 .4-1.8 .3-1.6 .4 1.3 .4 1 .3-.2 .4 0 .3 .4 .4 3.7 .4-3.5 .3 3.1 .4-.9 .3-1.4 .4 .7 .4-.7 .3 .9 .4-.7 .3-2.2 .4 5.4 .4-3.6 .3-1.1 .4 4.2 .4 .1 .3-.1 .4-.7 .4 2.5 .3-.1 .4 .1 .3 .6 .4-1.4 .4 4.3 .3-1.2 .4 1.2 .4 2.2 .4 1.3 .3 2.8 .4 1.1 .4-.6 .3 1.5 .4 2.1 .4-.8 .3 3 .4 1.6 .4 1.9 .3-.5 .4 2.2 .4 1.8 .3 3.7 .4-3.1 .4 5.8 .3-1.3 .4 3.5 .4 1.8 .4 3.6 .3-3.3 .4 1.2 .4 2.4 .3 1.6 .4 2.8 .4-.1 .3 2 .4 3.3 .4 .3 .3 1.5 .4 2.6 .4-1.1 .3 4.5 .4-2.3 .4 2.5 .3 3.5 .4-.9 .4 2 .3 1.4 .4 2.6 .3 2.6 .4 2.6 .4-1.3 .3 1.8 .4 1.9 .4-1.4 .3 3 .4 3.5 .4 .1 .3 .9 .4 3.4 .4 .1 .3 2.1 .4 2.7 .4-.3 .3 1.2 .4 4.3 .4-1.5 .3 2.1 .4 1 .4 2.3 .3 .5 .4-1.2 .4 2 .3 1.9 .4 .9 .4 1.9 .3 .6 .4 1.9 .4 .4 .3 2.4 .4 .3 .3 .9 .4 2.2 .4 1 .3 1.2 .4 1.9 .4 1.9 .3-.7 .4 1.9 .4 1.3 .3 0 .4 2.5 .4 .8 .7 2.1 .7 2.3 .8 1.6 .7 2.7 .7 1.2 .8 3.9 .7 1.4 .7 3.8 .7 1.9 .8 1.9 .7 2.6 .8 1 .7 2.6 .7 1.8 .8 1 .7 2.3 .8 .8 .7 1.3 .7 1.6 .8 1 .7 2.3 .8 .4 .7 2.2 .8 1.7 .7 .4 .8 .1 .7 2.6 .8-.3 .7 2.6 .8-.1 .8 1.2 .7 1.5 .8 1.8 .7-.4 .8 1 .8 1 .7 .8 .8 1.8 .8-.3 .7 1.5 .8 1.7 .8-.3 .7 2.1 .8 .8 .7 .9 .8 1.9 .8 1.1 .7 .7 .8 1.4 .8 .6 .8 .3 .7 2.1 .8 .5 .8 1.3 .8 .3 .7 1.9 .8 .8 .8 .4 .8-.2 .8 2 .8 1 .8 .3 .8-.2 .8 .5 .7 1 .8 .4 .8 1.2 .8-.2 .8 .7 .8 .7 .9-.3 .8 .5 .8 1.1 .8 .1 .8 1.4 .8 .1 .8-.5 .8 1.5 .8 .4 .9-.3 .7 1.9 .9-.1 .8-.1 .8 1 .8 .7 .9 .6 .8-.1 .8 1 .8 0 .9 .7 .8 .4 .8 .1 .8 1.2 .9 .7 .8 .1 .9 .4 .8 .8 .8 1.2 .9-.5 .8 1.5 .8 .6 .9-.8 .8 .3 .9 1.2 .8 .7 .9-.7 .8 1.5 .9-.3 .8 .6 .9-.3 .9 .5 .8 .7 .9-.5 .9 .4 .8 .7 .9 .4 .8 .2 .9 .8 .9-.2 .9 .3"/>
<path d="M514.3 221.2l.7 .4 .6-.4 .5-.8 .6-1 .6-.1 .6-1.2 .6-.8 .6-1.5 .5-1.4 .6-1.9 .6-1 .6-2.2 .5-2 .6-2 .6-2 .5-2.9 .6-1.8 .6-2 .5-3.7 .6-1.9 .5-4.1 .6-1.4 .6-4.4 .5-3.9 .6-1.8 .6-3.6 .6-2 .5-2.6 .6-3.2 .6-3.8 .5-3.5 .6-3.5 .3-1.4 .3-1.1 .3-.4 .3-2.7 .3-3.6 .3 .4 .3-3.7 .2-2.1 .4-.5 .2-4.1 .3-2.2 .3-3.3 .2-2.4 .3-2.3 .3-1.6 .3-1.1 .3-5.6 .3 .8 .3-2.2 .3-1.4 .3-1.5 .3-.8 .3-2.8 .4-.7 .3-.8 .3-1.3 .3-2.7 .3 .1 .3-3.3 .3-2.7 .3-1.4 .3-1.1 .4 1 .2-4.8 .4-1.2 .3-3.2 .3 .8 .3-1.7 .3-4.3 .4 1.6 .2-4.2 .4-.3 .4 2.8 .2-4.1 .4-1.1 .3 .1 .4-.2 .3-4.1 .3 .6 .3-1.5 .4-.6 .3-2 .3-2.2 .3-1.4 .4-.4 .3 .6 .4-1.1 .3-2.1 .3-1.9 .4 1.5 .4 1.3 .3-3.5 .3-1.3 .4 1.2 .3-3.5 .4 2.3 .3-1.3 .3-1 .4-2.4 .4 4.7 .3-3.3 .3-.6 .4 1.4 .3-2.2 .4 2.9 .4 .8 .4 0 .3-1.1 .4 .7 .3-2.9 .4 .9 .3 2.7 .3-5.4 .4 2.5 .4 3.6 .4 .5 .3-3.4 .4-2.2 .3 3.2 .4-2.2 .3-1 .4 1.8 .4 2.1 .4 2 .3-1 .4-3.4 .4 2.6 .3 2.1 .4-.8 .3-.2 .4-2.1 .4 3.3 .3-4.1 .4 3.4 .4 .3 .4 3.3 .3-1.9 .4 1.1 .4 .2 .4 3.6 .3-.4 .4 4.2 .4 .3 .3-4.5 .4 6.1 .4 1.7 .4-1.5 .3 3.1 .4-3.2 .4 5.7 .4 .5 .4 3.1 .3-.7 .4 3.2 .4-2.8 .4 6.7 .3-.4 .4 .9 .4 4.1 .4 .4 .3 1.7 .4 2.6 .4-1.5 .4 5.9 .3-.8 .4 1.3 .4-.4 .4 2.2 .3 .1 .4 1.5 .4 3.2 .4 3.2 .3-.5 .4 3.5 .4 1.1 .4 1.2 .3-.2 .4 .2 .4 3.3 .4 3.6 .3-.2 .4 1.1 .4 3.9 .4 .2 .3 2.3 .4 1.3 .4 .6 .4 1.4 .3 2.4 .4 .6 .4 2.8 .4 .5 .3 1.2 .4 2.3 .4 2.7 .3 .8 .4 .5 .4 .9 .4 1.5 .3 1.3 .4 .7 .4 3.2 .4-.2 .3 2.9 .4-1.1 .4 1.8 .3 2.9 .4-.3 .4 .9 .4 2.7 .3 .3 .4 .8 .4 .6 .4 3.3 .3-.3 .4 3.4 .4 1.3 .3-.4 .4 1.9 .4 2.4 .4-.5 .3 2 .4 1.4 .4 1.5 .3 2.7 .4-.8 .8 1.4 .7 2.8 .8 1.6 .7 2.9 .8 1.6 .7 5.4 .7 .5 .8 3.5 .7 1.7 .8 1.9 .7 1.9 .8 2.3 .7 1.7 .8 3.2 .7 1.1 .8 3 .7 .2 .8 2.6 .7 .1 .8 1.9 .7 1.6 .8 1.6 .7 .8 .8 1.7 .8 1.6 .7 .3 .8 1.8 .7 .4 .8 1.8 .8 1.2 .8-.6 .7 1.9 .8 .7 .7 1.7 .8 .9 .8 1 .8 0 .7 1.6 .8 1.3 .8 1.1 .7 .9 .8 .6 .8 1.6 .8 1 .7 .5 .8 1.3 .8 1.2 .8 .5 .7 2.1 .8 1.5 .8 1.2 .8 .4 .8 .8 .8 .7 .7 2.2 .8 .9 .8 .5 .8 .9 .8 1.4 .8 .2 .8 .3 .8 1.1 .8-.5 .8 1.3 .8 1.3 .8 .3 .8 1.1 .8-1.1 .8 1.6 .8 .6 .8 0 .8 .9 .9 .7 .8 .2 .8 0 .8 .4 .8 1.6 .8 .6 .9-.4 .8 .8 .8 .6 .9-.1 .8 .8 .8 .9 .8 0 .8 1.2 .9 .4 .8-.6 .8 1.5 .9 .2 .8 .9 .8 .5 .9 .9 .8 .5 .9-.5 .8 .1 .9 1.2 .8 .6 .8 1.1 .9 .3 .8-.1 .9 0 .8 1.3 .9 .7 .8 .1 .9 .9 .8 .9 .9 .3 .9 0 .8 .4 .9 1.2 .8 0 1-.8 .8 .2 .9 .4 .9 .8 .8 .5 .9 0 .9 .1 .9 .7"/>
<path d="M501.9 226.5l.6 .1 .6-.5 .6 0 .5-2.1 .6-.1 .6-1.3 .6-1.4 .6-.6 .5-2.3 .6 .2 .6-2.6 .5-1.8 .6-2.2 .5-1.7 .6-3.2 .5-2.8 .6-1.6 .5-2.8 .6-1.4 .6-3.7 .5-3.6 .5-2.6 .6-3.6 .5-2.7 .6-3.4 .6-1.9 .5-4 .6-3.4 .5-2.6 .6-4.1 .6-1.8 .5-4.1 .3-.2 .3-3.4 .3-1.6 .3-1.3 .2-3 .3-.3 .3-2.8 .3-2.6 .3-1.2 .2-2.5 .2-4.6 .3-1.7 .3-2.1 .3-2.9 .3-2.2 .2-2 .3-3.1 .3-.4 .3-1.2 .3-3.1 .3-1.3 .3-2.8 .3 1.4 .3-2.2 .3-3.2 .3-.6 .3-.5 .4-1.3 .2-3.4 .3-.8 .4-.8 .3-2.2 .3-1.9 .2-3.5 .4 2.8 .3-4.4 .2-4.2 .4 2.3 .3-3.5 .3-3.2 .3 1.6 .3-2.5 .4-.8 .3-2.8 .3 .1 .3-.6 .3-2.9 .4-1.3 .3-2.5 .3 1.3 .3-1.4 .4-.3 .3-3.8 .3-1 .4 2.4 .4 1.4 .2-7.7 .4 5.6 .4-.9 .3-2.8 .2-5.1 .4 .6 .4 1.6 .3-2.4 .4 .9 .3-2.8 .4 2.3 .2-4 .4 1.5 .4 1.9 .4 1.9 .3-5.5 .3 1 .4 2.6 .4-.3 .3-.9 .4-.4 .3-.3 .4-.4 .4 0 .3 1 .3-4.8 .4 4.4 .4 .8 .3-2.1 .4 2.7 .4-2.3 .3 .7 .4-1.5 .4 3.8 .4 1.9 .3-5.5 .4 2.7 .3-3.4 .4 2.1 .4 2.4 .3-1.3 .4 3 .4-.1 .3-1.6 .4 0 .4 3.5 .3-4.2 .4 .7 .4-.6 .4 4.9 .3-3.1 .4 2.7 .4 .5 .3-1.8 .4 2.7 .4 .1 .4 .5 .3 .7 .5 4.7 .4 1.2 .3-1 .4 .9 .4 3.2 .4-.6 .4 3.3 .3 .4 .4 1.2 .4 .9 .4 .7 .4 3 .3 .6 .4 2.8 .4-1 .4 1.5 .4 2.9 .3-2.3 .4 4.1 .4 1.5 .4 1.4 .4 .2 .4 1.6 .4 2.4 .3-.2 .4 .7 .4 .9 .4 2.7 .4 2.7 .4 2.2 .3 0 .4 .8 .4 .5 .4 4.7 .4 2.4 .4 1.5 .4 0 .3 1.2 .4 3.1 .4 2 .4 2.3 .4-1.4 .4 3.9 .3-.9 .4 2.2 .4 3.2 .4 .5 .4-.9 .3 2.4 .4 1.5 .4-.1 .4 2.7 .4 1.3 .4 1.4 .3 1.6 .4 .6 .4 3.1 .4 0 .4 1.2 .3 3.3 .4 .6 .4 2.8 .4 .2 .4 .3 .3 1.5 .4 2.2 .4 .4 .4 1.1 .4 1.4 .4 1.1 .3-.3 .4 4.7 .4-.5 .4 0 .4 2 .3 .9 .4 1.3 .4 1.7 .4 1.1 .4 1.9 .3 .8 .4 .8 .8 2.4 .7 2.8 .8 2.7 .8 2.2 .7 2.9 .8 1 .7 2.5 .8 1.9 .8 2 .7 2.2 .8 2.5 .8 2.6 .7 3.2 .8 2 .7 1.5 .8 2.6 .8 1.7 .7 2.2 .8 1.1 .8 1.7 .7 1.2 .8 3.1 .8 .9 .7 2.6 .8 .4 .8 1.6 .7 1.8 .8 .4 .8 1.9 .7 2.1 .8-.3 .8 1.8 .8 .8 .8 1.8 .7 1.1 .8 1.3 .8 1 .8 .2 .8 1.1 .7 2 .8 .3 .8 .9 .8 1.4 .8 .5 .8 1.4 .8 .2 .7 1.5 .8 .8 .8 2.7 .8-.4 .8 .9 .8 1.3 .8 .9 .8 1.4 .8 .3 .8 1.9 .8 .7 .8 .3 .8 1.1 .8 1.6 .8 1.5 .7 1.3 .9 0 .8 1.1 .8 1.2 .8 .9 .8-.1 .8 1.4 .8 1.1 .8 .8 .8 .8 .9 .3 .8 .9 .8 .4 .8 .9 .8 0 .9 .8 .8 1.1 .8-1.2 .9 1.7 .8 .8 .8 .8 .8-.1 .9 .8 .8-.5 .9 .9 .8 1 .8 1 .9-.6 .8 1.6 .9-.4 .8 .7 .8 1.8 .9-.6 .9-.3 .8 1.6 .8 1.2 .9 .3 .8-.2 .9 .3 .9 .3 .8 .8 .9 1.1 .8 .3 .9 .4 .9 .5 .8 1.1 .9-.3 .9 .3 .8 1.1 .9 .5 .8 1.1 .9-.1 .9 1 .9 .6 .9-.3 .8 .8 .9 .8 .9 1 .9-.3"/>
<path d="M489 231.8l.6-.8 .6-.1 .6-1 .6-.3 .6-.4 .5-1.6 .6-.7 .6-1.5 .5-1.7 .6-1.5 .5-1.4 .6-2.6 .5-1.9 .6-2 .5-2.2 .5-2.6 .6-1.7 .5-3.9 .6-1 .5-3.7 .5-3.1 .5-3.9 .6-3 .5-3.3 .6-2.1 .5-4.3 .5-2.8 .6-1.1 .6-4.5 .5-1.8 .6-4.2 .5-4.2 .3-1.5 .3-.8 .2-2.4 .3-3.2 .2-1.3 .3-2.5 .3-.2 .2-4 .3-2 .3-1.7 .2-4.9 .3-1.7 .2-3.6 .3-1.2 .2-3.2 .3-2.4 .3-1.4 .3-2.1 .2-1.9 .3-1.1 .4-.2 .2-3.2 .3-.9 .3-1.8 .4-.2 .2-4.1 .3-.9 .3-2.1 .3-2.4 .3-.7 .3-.2 .3-.6 .3-4.8 .3-.8 .2-2.6 .3-2.4 .4 .2 .3-.7 .3-3.5 .3-.4 .3-1 .3-3.2 .3-.4 .3-2.4 .4 1.2 .3-2.7 .3-.9 .3-1.5 .3-.2 .3-3.1 .4 2.3 .3-4 .3-2 .3 .8 .4-1.1 .3 .6 .3-2.6 .4-1.1 .3-.4 .3-1.1 .4-1.2 .3-.2 .4 2.8 .3-2 .3-2.4 .3-4.6 .4 1.5 .4 1.5 .3 .1 .4 .2 .3-2.1 .4 1.4 .3-.8 .4 1.5 .3-1 .4 .9 .4-.5 .3-.8 .3-2.9 .4 1.5 .3-1.2 .5 2.8 .3-1.3 .4 1.7 .3-.7 .4 .1 .4 2.8 .3-2.9 .4 2.4 .3-2.9 .4 2.2 .4 1.9 .4-.5 .4-.4 .2-4 .5 5.1 .3-1.4 .4-.7 .4 .8 .3 0 .4-1.1 .4 2.8 .3-4.2 .4 1 .4 2.4 .3-1.6 .4 2.7 .4 1.6 .4 2.1 .4 0 .4-1.2 .4 1.5 .3-1.1 .4 1.2 .4 2.4 .4 2.5 .4-1.5 .4 4.2 .4 5 .4-2.2 .3 .1 .4 1.3 .4 1.4 .4 1.2 .5 6.6 .3-6 .4 4.1 .4 2.1 .4 4.3 .4-2.7 .4 4 .4 2.6 .3-2.4 .4 1.4 .4 2.2 .4 2.4 .4-.5 .4 1.8 .4 1 .4 1.4 .4 4 .4-1 .4 3.9 .4-.6 .4 2.8 .4 1.9 .3-1 .4 3.4 .4 1.6 .4 .9 .4 0 .4 7.3 .4-2.2 .4 2 .4 .3 .4 2.7 .4 1.6 .3 .7 .4 2 .4 2.3 .4 .4 .4-.6 .4 2.7 .4 4.3 .4-.8 .4 2.2 .4-.4 .4 3.5 .3 .5 .4 1.1 .4 1.2 .4 3 .4 .7 .4-.2 .4 4.1 .4 .7 .4 2.2 .4 .6 .3 .7 .4 1.5 .4 .7 .4 2.7 .4-.1 .4 1.5 .4 3.2 .3-2.1 .4 2 .4 1.7 .4-.1 .4 1.7 .4 3.5 .4-.8 .3-.1 .4 2.9 .4 1 .4 3.2 .8 2.5 .8 2.4 .7 .5 .8 2.3 .8 4.3 .8-.2 .8 4 .7 1.7 .8 1.4 .8 2.9 .7 2.2 .8 2.4 .8 2 .8 3.4 .7 2.3 .8 2.2 .8 .3 .8 2.7 .7 1.9 .8 2.2 .8 1.8 .8 1.1 .8 2.3 .7 2.3 .8 1.6 .8-.8 .8 3.3 .8 1.1 .7 1.1 .8 .6 .8 2.4 .8 .7 .8 .9 .7 1.9 .8 .5 .8 .5 .8 1.5 .8 1.2 .8 .8 .8 1.3 .8 1.2 .8 1.1 .8 .3 .7 2.2 .8 .8 .8 0 .8 .8 .8 1.5 .8 1.5 .8 1.4 .8 0 .8 1.3 .8 1 .8 1.1 .8 1.8 .8 1 .8 .7 .8 1.1 .8 1.8 .9 .8 .8 .5 .8 .3 .8 .6 .8 2 .8 1.3 .8 .7 .8 1 .9 1.3 .8 1.9 .8-.8 .8 1 .8 .4 .9 1.1 .8 .3 .8 .4 .9 1.3 .8 .2 .8 0 .9 .5 .8 1.7 .8-.7 .9 .3 .8 .9 .9 .4 .8 .7 .8 .3 .9 .9 .8-.3 .9 1.2 .8 1.2 .9-.4 .8 .3 .9 .8 .8 1.2 .9-.2 .8 2.2 .9-1.6 .9 1.1 .8 1.6 .9 .7 .9-1.5 .8 1.5 .9 1 .9 .1 .8 .8 .9 .5 .9 .3 .8 .6 .9 1.2 .9 0 .9 .6 .8 1.1 .9-.3 .9 .7 .9 1.3 .9-.8 .8 1.1 .9 .1 .9 1.5 .9 .3"/>
<path d="M475.7 236.6l.6-1 .6 1 .6-1.6 .5-.5 .6-.7 .6-1.2 .6-.9 .5-2.5 .6-.5 .5-1.7 .5-2.1 .6-1 .5-2.9 .6-1.7 .5-3.5 .5-1.7 .5-2.7 .6-1.9 .4-4.5 .6-1.4 .5-3.4 .5-3.6 .6-2.4 .5-3.7 .5-3.6 .5-3.8 .5-3.1 .6-1.7 .5-3.5 .5-4 .5-3.8 .6-2.2 .2-2.3 .3-2 .2-2 .3-1.7 .2-3.6 .3-.6 .2-3.3 .3-1.8 .2-4.9 .3-1 .3-.1 .1-5.3 .4-.4 .1-5.7 .3-.9 .3-.4 .3-3.2 .2-2.6 .2-3.5 .4-.3 .2-1.9 .4-.2 .2-1.6 .4-.3 .2-2.7 .3-1.6 .3-1.8 .3-.7 .3-2.5 .3-1.5 .2-2.7 .3-.7 .3-1.9 .3-1.5 .3-2.1 .3-2.4 .3-.8 .2-5 .3-1.4 .3-.7 .3-2.2 .4 1.5 .3-2.2 .3-1.6 .2-2.3 .3-2.2 .3-1.3 .4 2.5 .3-3.3 .3-3.1 .3 1.2 .3-2.2 .5 2.5 .2-3.8 .3-.4 .4 2 .2-5.6 .3-1.9 .4 .1 .4 1.2 .3-1.2 .4 .1 .2-3.1 .4-.5 .3-2.4 .4 2 .3-2.2 .4 1.8 .4 .6 .3-1.5 .4 1.3 .3-.2 .3-3.2 .3-.1 .5 2.6 .3 .1 .4-1.4 .3 .9 .3-2.7 .4 1.9 .5 1.9 .3-.8 .3-2.4 .3-2.9 .4 3 .5 3.6 .3-.7 .3-1.9 .4 .8 .4-.4 .3-3.4 .5 5.9 .3 .1 .4-1.5 .3 0 .4-.1 .3-.9 .4 1.8 .4-1.8 .4 1.9 .3-.2 .5 4.2 .3-1.4 .4-.6 .3-1.5 .5 2.8 .3 1.1 .4 .3 .3-3.7 .5 6.7 .4-2.1 .4 1.4 .3-1.3 .4 2.5 .5 3 .3-.8 .4 .5 .4 4 .5 3.5 .4 .5 .3-.8 .5 3.2 .3-.4 .4-.1 .4 3 .4-1.6 .4 5.2 .5 3.1 .3-.8 .4 .1 .5 4.9 .3-1.4 .4-.5 .4 3.5 .4-1 .5 6.1 .3-1.6 .5 4.6 .4 1.5 .3 1 .4-1.9 .4 2.7 .4 .2 .4 4.7 .5 2.8 .3-1.5 .5 3.7 .4 2.7 .3-1.2 .4 1.3 .5 3.9 .3 .5 .4 1.1 .5 3.3 .4 1.4 .3 .3 .4 0 .5 4.4 .3-.6 .4 1.7 .4 1.8 .4 1.8 .5 2 .3-.1 .4 2.2 .5 3.9 .3-1.4 .4 2.7 .4 .9 .4-.5 .4 3.3 .5 4 .3 0 .4 2.2 .4-.5 .5 5.5 .3-2.2 .4 1.8 .4 1.6 .4 .5 .4 0 .4 4.3 .4 0 .4 .7 .4 1.1 .4 1.4 .4 .6 .4 1.5 .4 1.7 .4 2.5 .3-.7 .4 .7 .4 1.6 .4 2 .4 .8 .4 3.4 .8 1 .8 2.9 .8 2.7 .8 1.3 .8 3.1 .8 2.2 .8 2.5 .7 2.8 .8 1.4 .8 1.1 .8 2.6 .8 4.3 .8 2.1 .8 1.7 .8 3.8 .8 1.9 .8 2.7 .7 .3 .8 3.3 .8 1.7 .8 1.5 .8 2.2 .8-.3 .8 2.4 .7 1 .8 3.7 .8-.1 .8 1.9 .8 1.9 .8 .7 .8 .4 .8 1.5 .8 2 .8-.9 .8 2.4 .8 2.1 .8 1.1 .8 1 .7 .8 .8 1.3 .8 1.1 .8 .2 .8 1.9 .8 .6 .9 1.4 .8 .8 .8 .3 .8 1.6 .8 .7 .8 1.5 .8 .5 .8 1.7 .8 .5 .8 2.4 .8-.1 .8 1.5 .8 1.8 .9 .9 .8 1.7 .8 .3 .8 .8 .8 1.4 .9 .3 .8 2.6 .8 .1 .8 1.5 .8 .6 .9 .3 .8 1.2 .8 .1 .8 1.6 .9 .8 .8 .5 .8 1.2 .9 .3 .8 .3 .9 .1 .8 1.5 .8 .5 .9 .9 .8 .4 .9-.1 .8 .5 .9 .4 .8 .8 .9-.2 .8 1.9 .9-.3 .8 .2 .9 1 .8 .2 .9 .9 .9 .6 .8 .3 .9 1 .8 .3 .9 .2 .9 1.4 .8-.3 .9 .3 .9 .4 .8 1.5 .9-.2 .9 2 .9 .4 .8-.1 .9 1.1 .9 .5 .9 .6 .9 .3 .8 .8 .9 .7 .9 .2 .9 .8 .9 .3 .9 .4 .9 .4 .9 .9 .9 .6 .9 .5"/>
<path d="M461.9 241.1l.7 .4 .5-.8 .6 .1 .6-1.2 .6-.8 .5-.4 .6-1.8 .5-2.1 .6-.6 .5-1.5 .5-1.7 .6-2.3 .5-2 .5-2.1 .5-3.2 .5-2.6 .5-1.9 .5-3.3 .5-3.4 .5-2.9 .5-3.2 .5-3.6 .5-2.6 .5-4.1 .4-3.8 .6-1.6 .6-2.2 .4-3.9 .6-3 .4-4.2 .5-4.2 .5-3.2 .3-2.8 .2-1 .3-1.6 .3-.4 .2-4 .3-1.3 .2-2.4 .2-2.5 .2-4.2 .2-2.1 .3-2.2 .3-1.7 .1-3.9 .3-2.8 .2-3.7 .2-2 .3-2.1 .3-.3 .2-3.9 .2-3.8 .4 3.3 .3-1.9 .2-2.8 .3-2.6 .3-.6 .3-1.3 .2-3.4 .4 1.6 .3-.5 .3-2.5 .1-5 .3-2.1 .3-.1 .3-.4 .3-2.7 .2-3.8 .2-2.7 .4 .6 .3-1.5 .3-1.5 .3-2.1 .2-3.5 .3-.7 .3-1.6 .3-.9 .3-1.4 .4 1.3 .3-1.6 .2-3.6 .3-1.2 .3-2.3 .4 1 .4 .4 .2-2.2 .4-.9 .2-2.4 .4 .4 .3-2.2 .3-.9 .3-.9 .4-1 .4 2.2 .2-4.9 .3-1.9 .4 .9 .2-2.2 .5 1.8 .4 1.6 .2-2.5 .4 .9 .4-.1 .2-3.7 .5 4.8 .3-4.3 .4 3.3 .5 2.2 .2-5.1 .4 1.2 .3-.3 .4-.1 .3-1.7 .4 1.5 .4 1.3 .3-.3 .4-1 .4 2.2 .3-1.8 .5 5 .3-3.7 .3-.1 .4-1.2 .5 3.8 .3-1.6 .3-1.1 .2-4.6 .6 5.5 .3-.6 .5 2.5 .2-5.1 .5 5 .4 .3 .3-.5 .5 3.1 .3-.3 .4-.9 .4 1.4 .3-3 .4 3.6 .3-4.5 .5 4.8 .4 3 .4-.7 .4 .2 .4 2.6 .4 .4 .4 2.5 .5 2.3 .3 .1 .3-2.1 .5 5.2 .4 .8 .5 4.1 .4 0 .4-.2 .4 2.8 .3-1 .5 1.9 .4 3.8 .4 .8 .4 .2 .4 1.9 .5 2.4 .4 3.7 .3-3.6 .5 3.4 .4 1.2 .4 2.7 .3-1.8 .5 3.8 .4 1.1 .5 4.7 .3-.5 .4 1.1 .4 1.2 .4 1.4 .5 3 .4 .1 .4 3.3 .4 1.7 .4 1.5 .5 3.8 .4 2.3 .3-3.3 .5 6 .4 .2 .4 .2 .4 3 .4-.6 .5 5 .3-1 .4 .9 .4-.3 .4 2.2 .5 3.9 .3-.3 .5 2.2 .4 3.1 .4 .8 .4 .1 .4 3 .4 2.3 .4 1.4 .5 2.2 .4 1.9 .4-.3 .4 1.4 .4 .9 .4 3.8 .4 .9 .4-.2 .4 1.5 .4 1.5 .4 2 .4 .4 .4 2.2 .4-1.4 .4 1.9 .4 2.7 .4-.6 .4 3.3 .4 0 .4 1.8 .4 1.8 .4 .1 .4 3.8 .4 .4 .8 2.7 .9 3.7 .8 2.2 .7 1.1 .8 2.1 .9 3 .7 1 .8 2.4 .8 2.2 .9 3.3 .8 2.6 .8 2.4 .8 3.4 .8 2.7 .8 2.6 .8 1.2 .8 1.7 .8 4 .8 1.1 .8 1.3 .8 1.4 .8 2.4 .8 2.2 .8 .8 .8 .7 .8 2.6 .8 1.3 .8 .8 .8 3.1 .8 .2 .8 .9 .8 1.5 .8 1.7 .8 1.4 .8 1.3 .8 1.5 .8 .7 .8 1.5 .8 .6 .8 1.2 .8 1.2 .8 1 .8 .8 .8 1.7 .9 .1 .8 1.3 .8 .8 .8 1.5 .8 1.1 .8 .9 .8 1.1 .9 1.4 .8 1.2 .8 1.2 .8 1.1 .8 1.4 .9 1.1 .8 1.2 .8 0 .8 2.1 .9 .8 .8 1.5 .8 .6 .8 .5 .9 2 .8 .6 .8 1.1 .9 .5 .8 1.3 .8 .8 .9 .8 .8 1.5 .8-.7 .9 .4 .8 1.8 .9-.2 .8 1 .9-.1 .8 1.5 .9 .1 .8 .2 .9 .9 .8 .7 .9 .6 .8 .8 .9 .2 .8 1 .9-.7 .9 1.1 .8 .9 .9 1.2 .9-.6 .8 .4 .9 1 .9 .4 .8 .6 .9 1 .9 .7 .8 .4 .9 0 .9 1.5 .9 1 .9-.2 .8 .6 .9 .7 .9 .5 .9 1.2 .9 .4 .9 .4 .9 .5 .8 .3 .9 .6 .9 .8 .9 .8 .9 .9 .9 .4 .9 1 .9 .2 .9 0 .9 .4"/>
<path d="M447.8 247.6l.5-1 .6-.9 .6 .4 .5-1.7 .6-1.1 .6-.5 .5-.8 .6-1.5 .5-1.3 .5-2.6 .5-1.1 .5-2.6 .6-1.6 .4-3.2 .6-1.5 .4-3.2 .5-2.3 .5-3.7 .5-2.3 .5-3.4 .4-4 .5-2.2 .5-3.3 .4-4.1 .5-2.6 .4-4.9 .6-2.2 .5-3.3 .5-2.8 .6-1.4 .3-6.8 .5-2.8 .3-.4 .2-2.7 .2-2.9 .2-3.1 .3-1.4 .2-2.3 .2-2.3 .3-1.3 .2-2.7 .2-3.4 .2-1.8 .2-4.5 .1-3.7 .4 .5 .1-4.8 .3-2.4 .2-2.6 .1-3.9 .5 1.8 .1-5.6 .3-.1 .2-3.8 .4 2 .2-2.4 .3-.9 .3-2.4 .3 .1 .3-1.9 .2-2.6 .2-3 .4 .8 .2-3.3 .3-1.6 .2-3.3 .2-2.8 .4 1.5 .2-2.6 .3-2.9 .3-.8 .1-5.6 .2-2.1 .4-.1 .3-1 .4 1.3 .3-1.6 .2-3.6 .2-3.2 .4 2 .3-2.3 .2-3.6 .3-1.3 .5 3.8 .2-3.4 .3-1.9 .5 3.5 .2-3.2 .3-2.1 .4 .4 .2-2.9 .4 .9 .4 1.7 .3-1.7 .4 .9 .3-2.3 .2-4.5 .3-.1 .3-.9 .3-2 .5 4.7 .3-1.6 .3-1.5 .3-3.4 .4 2.6 .4 .7 .3-1.1 .5 2.3 .4 2.1 .2-5.1 .4 1.8 .3-1.8 .5 3.4 .4-.5 .2-3.4 .4 1.2 .3-1.4 .5 3.5 .3-1.4 .3-1.2 .4-.3 .4 2.2 .4-.5 .4 .9 .4 .4 .3 0 .4-.9 .5 4 .3-2.5 .4 2.3 .3-1.9 .4 .8 .3-.6 .4 1.2 .4 0 .5 2.9 .2-5.3 .5 6.1 .5 1.6 .2-3.8 .4 .4 .4 2.3 .5 1.5 .4 2.8 .2-4.7 .7 8.2 .1-6.6 .7 8.9 .4 .2 .3-.1 .5 1.6 .3-.3 .5 3.9 .4 .6 .5 3.7 .3-3.3 .5 4.2 .4 2.4 .4 .2 .4 0 .4 2.4 .5 3.2 .3 0 .5 1 .4 1.3 .4 2.5 .4-.2 .5 4.3 .3-.5 .5 2.9 .4 .1 .4 2.6 .4-.3 .5 3.3 .3-.5 .5 4.9 .4-1 .5 4.5 .5 4.1 .3-.3 .4-.8 .4 2.6 .5 1.4 .4 2.8 .4 .8 .5 3.3 .3-1.8 .4 1.9 .5 3 .4 2.7 .4 1.6 .4 0 .4 1.8 .5 2.9 .4-.5 .4 1.4 .4 1.8 .4 1.7 .4 1.8 .5 1.9 .4 2 .4 2 .4-.2 .5 4.6 .4 0 .4 .9 .4 .2 .4 4.2 .4-.3 .4 1.5 .4 1.7 .4 .4 .5 4.5 .4-1.2 .4 2.2 .4 .7 .4 1.8 .4 1.8 .5 2.2 .3-.8 .5 1.9 .4 2.3 .4 .4 .4 2.3 .4 1.3 .4 .5 .4 1 .5 3.7 .8 1.4 .8 2.1 .8 4 .8 1.6 .8 1.7 .9 1.8 .8 3.7 .8 2.7 .8 1.8 .8 2.6 .9 2.5 .8 2.8 .8 4 .8 .9 .9 3.9 .8 1.1 .8 2.2 .8 2.2 .8 2.1 .8 2 .8 2.5 .9 1.8 .7 0 .9 2 .8 1.8 .8 1.8 .8 2.9 .8-.5 .8 2.6 .8 1.3 .8 .9 .8 2.1 .8 .2 .9 3.2 .8-.7 .8 1.5 .8 1.9 .8 .3 .8 1 .8 1.3 .9 1 .8 1.8 .8 .4 .8 1 .8 1 .8 1.4 .9 2.3 .8-.1 .8 2.1 .8 .9 .9 .8 .8 1.1 .8 1.4 .8 .9 .9 1.1 .8 1.3 .8 1.3 .9 1 .8 1 .8 1.9 .9 1.4 .8-.1 .8 1.6 .9 2.3 .8-.6 .8 1 .9 2.6 .8 .6 .9 .5 .8 1.2 .8 .4 .9 .5 .8 .2 .9 2.4 .8-.6 .9 .1 .8 2.4 .9-.8 .8 .8 .9 .9 .9-.1 .8 .2 .9 .7 .8 .1 .9 1.9 .9 1.2 .8-.2 .9 .2 .9 .1 .8 .9 .9 1.2 .9-.5 .8 1.1 .9 .7 .9 .9 .9 .2 .9 .6 .8 .9 .9 1.8 .9-.2 .9-.1 .9 .1 .9 .8 .8 .6 .9 .3 .9 1.2 .9 .2 .9 .8 .9 1 .9 1.3 .9 1 .9-.4 .9 1.4 .9 .1 .9 .2 .9 1.3 .9-.3 .9 1 .9 1 1-.2"/>
<path d="M433.1 252.5l.5-.9 .6 .1 .6-.4 .5-1.3 .6-.1 .5-1.3 .5-2.1 .6-1 .5-2.2 .5-.3 .5-2.1 .5-2.4 .5-2.6 .5-1.6 .4-3.6 .5-2.2 .5-2.7 .5-3.2 .4-2.9 .5-2.8 .4-4 .5-3 .3-5 .6-2.3 .4-3.5 .5-3 .4-3.7 .5-3.4 .5-3.1 .5-2.9 .3-5.3 .5-3 .3-.5 .3-1.7 .1-3 .3-2.1 .2-1.7 .2-2.9 .1-3.6 .2-3.3 .3-1.6 .1-3 .2-4.1 .1-4.4 .2-2.1 .2-2.2 .3-1.8 .2-1.5 .2-3.9 .2-2.9 .3-.9 .3-.7 .1-3 .3-.8 .3-.9 .4 .2 .1-4.8 .3 0 .2-4.2 .3 .6 .2-2.8 .3-1.1 .1-5.3 .3-1.5 .3 0 .2-4.3 .4 2.1 .1-5 .4-.1 .2-2.6 .3-1.3 .2-3.6 .4 2.3 .2-3.8 .1-4.7 .6 4.9 .1-4.9 .4 .6 .4 1.1 0-6.8 .4 .4 .1-4.5 .6 4.7 .1-5.3 .2-3.5 .6 5.6 .1-5.9 .3-1.1 .4 0 .2-3.3 .4 .5 .4 1.9 .3-.8 .3-2.2 .1-4.5 .5 2.8 .2-2.9 .5 1.5 .2-2.1 .4-.2 .3-1.8 .3-1.6 .5 4.7 .4 1.2 .3-2.5 .3-.3 .3-.9 .3-1.7 .5 2.9 .3-1 .4-.1 .3-2.4 .5 3.4 .2-3.5 .3-1.5 .5 4.8 .3-3.5 .4 2 .4 1.5 .2-4.4 .5 1.8 .5 3.6 .3-1.8 .4 2.9 .5 1.8 .1-5.1 .5 2.5 .2-3.4 .6 3.5 .3 0 .4 1.1 .4-.4 .4 2.4 .4-1 .5 3.5 .4 .5 .3-.6 .3-1.1 .4-.5 .4 .9 .3-2 .3-1.7 .8 11.3 .1-6.9 .5 2.4 .5 4.4 .4-.2 .5 5.6 .3-2.1 .3-2.2 .7 6.8 .3 .3 .4 .1 .4 .5 .5 2.8 .5 2.7 .3-.5 .5 3.9 .3-3.8 .5 3.7 .5 3.6 .4 3 .5 1.1 .4 1.7 .4 .7 .4 .2 .5 4.3 .3-1 .5 1.8 .5 3.1 .3-2.1 .4 2.9 .5 2 .5 3.1 .4 2.1 .4 .7 .5 4.1 .4-.7 .5 4 .4 .2 .4 .8 .4 3.2 .5 2.3 .4 1.9 .4 .5 .5 3.4 .4 .3 .4 .3 .5 5.3 .4 .2 .4 .2 .5 3.3 .4 1.4 .4 1.7 .4-1 .5 5.1 .4-.8 .4 1.7 .4 1.3 .5 2.6 .4 .8 .4 2.4 .5 2.2 .3-2 .5 3.5 .5 3.9 .4 1.3 .4 .4 .4 .5 .4 3 .4 .5 .5 1.8 .4 .4 .4 2.9 .5 1.5 .3 .2 .5 1.3 .4 1.4 .4 .2 .4 1.9 .4 1.9 .5 2.5 .4-.2 .4 1.4 .4 2.8 .5 1 .4 2.4 .4 .5 .9 3.2 .8 4 .8 1.2 .9 2.6 .8 2.3 .8 1.2 .8 2.7 .9 2.1 .8 3.5 .8 1.6 .9 4.4 .8 1.9 .9 4.3 .8 1.6 .9 3.3 .8 2.6 .8 1 .8 2.5 .9 2 .8 2.3 .8 1.8 .8 2 .9 1.9 .8 1.5 .8 .4 .8 3.5 .9 1.9 .8 1.2 .8 1.3 .8 .7 .8 1.1 .8 1.3 .9 2.1 .8 .7 .8 .6 .8 1.9 .8 .8 .9 2.5 .8 .1 .8 1.3 .8 2.2 .9 .5 .8 .8 .8 1.9 .8 .1 .9 1.1 .8 1.5 .8 1.3 .8 1.2 .9 .9 .8 .8 .9 2.6 .8 .4 .8 1.2 .9 1.8 .8 1.5 .8 .6 .9 2 .8 .2 .9 1.4 .8 1.6 .8 .5 .9 1.7 .8 1.1 .9 .1 .8 2.1 .9 2 .8-.5 .9 1.6 .8 .7 .9-.4 .8 1.6 .9 .2 .8 1.9 .9 .5 .8 .6 .9-.2 .9 1.4 .8 1.2 .9-.7 .8 1.2 .9 .3 .9 .2 .8-.2 .9 1.7 .9-.2 .8 2.1 .9-.2 .9 .5 .9 1.9 .8 0 .9 .5 .9-.1 .9 1.2 .9 .6 .9 .7 .8 .1 .9 .9 .9 .6 .9 .7 .9 .2 .9 1.3 .9 .3 .9 .6 .9 .4 .9 .3 .9 1 .9 1.5 .9-.5 .9 .5 .9 .6 .9 .9 .9 1.9 .9-.1 .9 .2 .9 .5 1 1.1 .9 .5 .9 1.2 .9-.3"/>
</g>
<line x1="661.4" y1="13.4" x2="661.4" y2="102.9" stroke="#aaa" stroke-width="0.9"/>
<line x1="661.4" y1="102.9" x2="775.5" y2="102.9" stroke="#aaa" stroke-width="0.9"/>
<line x1="661.4" y1="102.9" x2="661.4" y2="104.7" stroke="#555" stroke-width="0.8"/>
<line x1="669.45" y1="102.9" x2="669.45" y2="104.1" stroke="#555" stroke-width="0.8"/>
<line x1="677.5" y1="102.9" x2="677.5" y2="104.7" stroke="#555" stroke-width="0.8"/>
<line x1="685.55" y1="102.9" x2="685.55" y2="104.1" stroke="#555" stroke-width="0.8"/>
<line x1="693.6" y1="102.9" x2="693.6" y2="104.7" stroke="#555" stroke-width="0.8"/>
<line x1="701.65" y1="102.9" x2="701.65" y2="104.1" stroke="#555" stroke-width="0.8"/>
<line x1="709.7" y1="102.9" x2="709.7" y2="104.7" stroke="#555" stroke-width="0.8"/>
<line x1="717.75" y1="102.9" x2="717.75" y2="104.1" stroke="#555" stroke-width="0.8"/>
<line x1="725.8" y1="102.9" x2="725.8" y2="104.7" stroke="#555" stroke-width="0.8"/>
<line x1="733.85" y1="102.9" x2="733.85" y2="104.1" stroke="#555" stroke-width="0.8"/>
<line x1="741.9" y1="102.9" x2="741.9" y2="104.7" stroke="#555" stroke-width="0.8"/>
<line x1="749.95" y1="102.9" x2="749.95" y2="104.1" stroke="#555" stroke-width="0.8"/>
<line x1="758" y1="102.9" x2="758" y2="104.7" stroke="#555" stroke-width="0.8"/>
<line x1="766.05" y1="102.9" x2="766.05" y2="104.1" stroke="#555" stroke-width="0.8"/>
<line x1="774.1" y1="102.9" x2="774.1" y2="104.7" stroke="#555" stroke-width="0.8"/>
<line x1="661.4" y1="93.5" x2="660.1" y2="93.5" stroke="#777" stroke-width="0.8"/>
<line x1="661.4" y1="84.5" x2="660.1" y2="84.5" stroke="#777" stroke-width="0.8"/>
<line x1="661.4" y1="75.5" x2="660.1" y2="75.5" stroke="#777" stroke-width="0.8"/>
<line x1="661.4" y1="66.5" x2="660.1" y2="66.5" stroke="#777" stroke-width="0.8"/>
<line x1="661.4" y1="57.5" x2="660.1" y2="57.5" stroke="#777" stroke-width="0.8"/>
<line x1="661.4" y1="48.5" x2="660.1" y2="48.5" stroke="#777" stroke-width="0.8"/>
<line x1="661.4" y1="39.5" x2="660.1" y2="39.5" stroke="#777" stroke-width="0.8"/>
<line x1="661.4" y1="30.5" x2="660.1" y2="30.5" stroke="#777" stroke-width="0.8"/>
<line x1="661.4" y1="21.5" x2="660.1" y2="21.5" stroke="#777" stroke-width="0.8"/>
<text x="661.4" y="113.3" font-size="9.6" text-anchor="middle">44</text>
<text x="677.5" y="113.3" font-size="9.6" text-anchor="middle">46</text>
<text x="693.6" y="113.3" font-size="9.6" text-anchor="middle">48</text>
<text x="709.7" y="113.3" font-size="9.6" text-anchor="middle">50</text>
<text x="725.8" y="113.3" font-size="9.6" text-anchor="middle">52</text>
<text x="741.9" y="113.3" font-size="9.6" text-anchor="middle">54</text>
<text x="758" y="113.3" font-size="9.6" text-anchor="middle">56</text>
<text x="774.1" y="113.3" font-size="9.6" text-anchor="middle">58</text>
<polyline points="668.9,46.2 677.2,54.9 685.3,62.3 693.3,67.4 701.4,75.8 709.1,77.8 717.5,82.6 725.5,93.6 733.9,74.6 741.9,38.5 750,30.7 758,21.8 766.4,32.8" fill="none" stroke="#666" stroke-width="0.55"/>
<rect x="667.3" y="44.6" width="3.2" height="3.2" fill="#000"/>
<rect x="675.6" y="53.3" width="3.2" height="3.2" fill="#000"/>
<rect x="683.7" y="60.7" width="3.2" height="3.2" fill="#000"/>
<rect x="691.7" y="65.8" width="3.2" height="3.2" fill="#000"/>
<rect x="699.8" y="74.2" width="3.2" height="3.2" fill="#000"/>
<rect x="707.5" y="76.2" width="3.2" height="3.2" fill="#000"/>
<rect x="715.9" y="81" width="3.2" height="3.2" fill="#000"/>
<rect x="723.9" y="92" width="3.2" height="3.2" fill="#000"/>
<rect x="732.3" y="73" width="3.2" height="3.2" fill="#000"/>
<rect x="740.3" y="36.9" width="3.2" height="3.2" fill="#000"/>
<rect x="748.4" y="29.1" width="3.2" height="3.2" fill="#000"/>
<rect x="756.4" y="20.2" width="3.2" height="3.2" fill="#000"/>
<rect x="764.8" y="31.2" width="3.2" height="3.2" fill="#000"/>
<text x="718.1" y="123.7" font-size="9.6" text-anchor="middle">Temperature (<tspan font-size="6" dy="-4">o</tspan><tspan dy="4">C)</tspan></text>
<text x="656.3" y="44.7" font-size="9.6" text-anchor="middle" transform="rotate(-90 656.3 44.7)">Intensity (a.u.)</text>
</g>
<g id="pc">
<line x1="28.43" y1="409.53" x2="200.15" y2="390.1" stroke="#000" stroke-width="1.2"/>
<line x1="200.15" y1="390.1" x2="390.77" y2="406.45" stroke="#000" stroke-width="1.2"/>
<line x1="42.25" y1="649.25" x2="28.43" y2="409.53" stroke="#000" stroke-width="1.3"/>
<line x1="200.25" y1="587.36" x2="200.15" y2="390.1" stroke="#555" stroke-width="1.4"/>
<line x1="376.23" y1="638.11" x2="390.77" y2="406.45" stroke="#000" stroke-width="1.1"/>
<line x1="42.25" y1="649.25" x2="200.25" y2="587.36" stroke="#000" stroke-width="1.0"/>
<line x1="200.25" y1="587.36" x2="376.23" y2="638.11" stroke="#000" stroke-width="1.0"/>
<line x1="42.25" y1="649.25" x2="230.12" y2="728.18" stroke="#000" stroke-width="1.5"/>
<line x1="230.12" y1="728.18" x2="376.23" y2="638.11" stroke="#000" stroke-width="1.5"/>
<line x1="28.77" y1="415.4" x2="25.3" y2="415.82" stroke="#000" stroke-width="1.1"/>
<line x1="30.42" y1="443.9" x2="24.48" y2="444.8" stroke="#000" stroke-width="1.1"/>
<line x1="31.94" y1="470.3" x2="28.49" y2="470.93" stroke="#000" stroke-width="1.1"/>
<line x1="33.56" y1="498.4" x2="27.69" y2="499.66" stroke="#000" stroke-width="1.1"/>
<line x1="35.04" y1="524.1" x2="31.64" y2="524.93" stroke="#000" stroke-width="1.1"/>
<line x1="36.58" y1="550.8" x2="30.79" y2="552.4" stroke="#000" stroke-width="1.1"/>
<line x1="38.06" y1="576.6" x2="34.72" y2="577.63" stroke="#000" stroke-width="1.1"/>
<line x1="39.55" y1="602.3" x2="33.86" y2="604.21" stroke="#000" stroke-width="1.1"/>
<line x1="40.93" y1="626.3" x2="37.64" y2="627.5" stroke="#000" stroke-width="1.1"/>
<line x1="42.25" y1="649.25" x2="36.67" y2="651.44" stroke="#000" stroke-width="1.1"/>
<line x1="57.81" y1="655.79" x2="54.57" y2="657.1" stroke="#000" stroke-width="1.1"/>
<line x1="73.98" y1="662.58" x2="68.45" y2="664.91" stroke="#000" stroke-width="1.1"/>
<line x1="90.79" y1="669.64" x2="87.58" y2="671.05" stroke="#000" stroke-width="1.1"/>
<line x1="108.28" y1="676.99" x2="102.82" y2="679.49" stroke="#000" stroke-width="1.1"/>
<line x1="126.49" y1="684.64" x2="123.33" y2="686.15" stroke="#000" stroke-width="1.1"/>
<line x1="145.47" y1="692.61" x2="140.1" y2="695.3" stroke="#000" stroke-width="1.1"/>
<line x1="165.26" y1="700.93" x2="162.16" y2="702.56" stroke="#000" stroke-width="1.1"/>
<line x1="185.93" y1="709.61" x2="180.68" y2="712.52" stroke="#000" stroke-width="1.1"/>
<line x1="207.53" y1="718.69" x2="204.51" y2="720.45" stroke="#000" stroke-width="1.1"/>
<line x1="230.12" y1="728.18" x2="225.02" y2="731.33" stroke="#000" stroke-width="1.1"/>
<line x1="230.12" y1="728.18" x2="235.66" y2="730.5" stroke="#000" stroke-width="1.1"/>
<line x1="243.31" y1="720.05" x2="246.55" y2="721.37" stroke="#000" stroke-width="1.1"/>
<line x1="255.99" y1="712.24" x2="261.57" y2="714.44" stroke="#000" stroke-width="1.1"/>
<line x1="268.19" y1="704.71" x2="271.46" y2="705.96" stroke="#000" stroke-width="1.1"/>
<line x1="279.95" y1="697.46" x2="285.58" y2="699.55" stroke="#000" stroke-width="1.1"/>
<line x1="291.28" y1="690.48" x2="294.58" y2="691.66" stroke="#000" stroke-width="1.1"/>
<line x1="302.22" y1="683.74" x2="307.88" y2="685.72" stroke="#000" stroke-width="1.1"/>
<line x1="312.77" y1="677.23" x2="316.08" y2="678.36" stroke="#000" stroke-width="1.1"/>
<line x1="322.96" y1="670.95" x2="328.65" y2="672.84" stroke="#000" stroke-width="1.1"/>
<line x1="332.81" y1="664.88" x2="336.14" y2="665.96" stroke="#000" stroke-width="1.1"/>
<line x1="342.33" y1="659.01" x2="348.05" y2="660.81" stroke="#000" stroke-width="1.1"/>
<line x1="351.54" y1="653.33" x2="354.89" y2="654.36" stroke="#000" stroke-width="1.1"/>
<line x1="360.46" y1="647.83" x2="366.2" y2="649.56" stroke="#000" stroke-width="1.1"/>
<line x1="369.1" y1="642.51" x2="372.45" y2="643.49" stroke="#000" stroke-width="1.1"/>
<text x="26.2" y="666.2" font-size="13" text-anchor="middle">400</text>
<text x="58.7" y="679.9" font-size="13" text-anchor="middle">450</text>
<text x="93.7" y="695.7" font-size="13" text-anchor="middle">500</text>
<text x="132.3" y="712.7" font-size="13" text-anchor="middle">550</text>
<text x="173.7" y="730.1" font-size="13" text-anchor="middle">600</text>
<text x="219.6" y="750.6" font-size="13" text-anchor="middle">650</text>
<text x="244.4" y="744.9" font-size="13" text-anchor="middle">48</text>
<text x="270" y="727.9" font-size="13" text-anchor="middle">50</text>
<text x="294" y="712.2" font-size="13" text-anchor="middle">52</text>
<text x="316.2" y="698.4" font-size="13" text-anchor="middle">54</text>
<text x="337.1" y="685.3" font-size="13" text-anchor="middle">56</text>
<text x="356.7" y="673.1" font-size="13" text-anchor="middle">58</text>
<text x="374.4" y="661.8" font-size="13" text-anchor="middle">60</text>
<text x="391.9" y="650.9" font-size="13" text-anchor="middle">62</text>
<text x="95.1" y="715.3" font-size="13.5" text-anchor="middle" transform="rotate(25.5 95.1 715.3)">Wavelength (nm)</text>
<text x="335.2" y="711.5" font-size="13.5" text-anchor="middle" transform="rotate(-33.3 335.2 711.5)">Temperature (<tspan font-size="8.5" dy="-5.5">o</tspan><tspan dy="5.5">C)</tspan></text>
<text x="20.8" y="544.7" font-size="13.5" text-anchor="middle" transform="rotate(-93.25 20.8 544.7)">Intensity (a.u.)</text>
<text x="33.8" y="427.7" font-size="19" text-anchor="start">(c)</text>
<g fill="none" stroke="#ee0610" stroke-width="1.3">
<path d="M201.6 574.5l.6-.3 .6-.3 .6-.1 .6-.2 .7-.5 .6-.7 .6-.6 .6-1 .6-.9 .6-.9 .6-.9 .6-1.2 .6-1.2 .6-1.4 .7-1.7 .6-1.6 .6-2.1 .6-2.4 .6-2.9 .7-3.2 .6-3.5 .7-2.8 .6-3.2 .6-3.8 .7-3.2 .6-3.3 .7-3.1 .6-3.7 .7-3 .3-1.5 .3-1.8 .4-2.1 .3-1.6 .3-1.1 .4-1.4 .3-2.9 .3-1.2 .4-2.4 .3-1.1 .3-1.8 .4-1.5 .3-1.7 .3-1.7 .4-1.6 .3-2.4 .3-1 .4-1.8 .3-2.7 .4-1.1 .3-2.7 .4-2.7 .3-1.7 .3-3.4 .4-1.9 .3-2.6 .4-1.7 .3-.9 .4-1.8 .3-2.2 .4-2.1 .3-1.6 .4-1.4 .3-1.9 .3 .2 .4-1.5 .3-2.7 .4 .3 .3-.9 .4-1.5 .3 .9 .4-2.2 .3-.4 .3-.2 .4-1.6 .3-1.9 .4 .3 .3-.4 .4-2.3 .3 .2 .4-2 .3-.2 .3 .4 .4 0 .3-1 .4-2 .3 1.6 .4-4.3 .3 4.1 .4-3.8 .3-1.4 .4 1.3 .3 .8 .4-2.2 .3-.3 .4-1.6 .3 .7 .4-.5 .3 .2 .4-1.9 .3 1.9 .3-.4 .4-.6 .4-2.8 .2 6.4 .4-.9 .3-1.7 .4 .4 .3-.8 .4-.8 .3 .3 .4 1.1 .3 .7 .4-.3 .3 .8 .4-2.7 .3 1 .3 1.8 .4-.5 .3 1.8 .3 .1 .4 .4 .3 2 .4-.5 .3 1.4 .3-.3 .3 2.5 .4 .5 .3-.1 .4 0 .3 2 .3 1.2 .3 2.8 .4 .3 .3 .4 .3 1.4 .4 1.1 .3 .2 .3 1 .3 2.9 .4 1.6 .3 2 .3-.1 .4 .9 .3 .9 .3 3 .3 1.2 .3 1.7 .4-1 .3 1.8 .3 2.9 .3 .9 .3 2.1 .4 1.2 .3-.4 .3 3.1 .3 1.3 .4 1.2 .3 2.2 .3 1.5 .3 1.5 .4-.6 .3 2.3 .3 1.1 .4 .3 .3 2.3 .3 .7 .3 1.3 .4 .4 .3 1.4 .3 1.8 .4-.3 .3 .9 .3 1.5 .3 1.4 .4 1 .3 1.6 .3 .6 .4 .5 .3 1.4 .3 1.9 .3 1 .4 .6 .3 .5 .3 1.4 .4 1.3 .3 .7 .3 1.7 .3 .6 .4 1.4 .3 1.3 .3 .4 .3 1.7 .4 .6 .3 .6 .3 1.8 .4 .1 .3 .9 .4 1.2 .3 1.3 .3 1 .3 1 .4 .9 .3 1.4 .3 .6 .4 .7 .3 2 .3 .2 .3 1.9 .4 1.1 .6 2.2 .7 2.3 .6 2.3 .7 1.9 .6 2.4 .7 2.1 .6 2.6 .7 1.9 .7 2.5 .6 1.9 .7 1.2 .7 2.2 .6 1.6 .7 1.5 .7 1.6 .7 1.8 .6 1.3 .7 1.2 .7 1.7 .7 1.7 .7 1.4 .6 1.5 .7 1.3 .7 1.4 .7 1.2 .7 1.3 .7 1.3 .7 .9 .7 1.2 .7 1 .7 1 .7 1.2 .7 .9 .7 1.2 .7 .9 .7 1.1 .7 1.2 .7 .9 .7 1 .7 1 .7 1 .7 .9 .7 .9 .7 .9 .8 .8 .7 .7 .7 .9 .7 .7 .7 .9 .8 .5 .7 .8 .7 .7 .7 .5 .8 .6 .7 .6 .8 .5 .7 .6 .7 .3 .8 .6 .7 .5 .8 .3 .7 .5 .8 .4 .7 .6 .8 .3 .7 .5 .7 .5 .8 .3 .8 .5 .7 .4 .8 .5 .7 .6 .8 .2 .7 .4 .8 .3 .8 .4 .7 .4 .8 .4 .7 .5 .8 .4 .8 .3 .7 .4 .8 .3 .8 .4 .8 .3 .7 .4 .8 .3 .8 .3 .8 .2 .7 .4 .8 .2 .8 .5 .8 .3 .8 .4 .7 .4 .8 .2 .8 .4 .8 .3 .8 .4 .8 .4 .8 .4 .8 .3 .8 .2 .7 .5 .8 .3 .8 .2 .8 .6 .8 .1 .8 .4 .8 .3 .8 .4 .8 .5 .8 .2 .8 .3 .8 .2 .9 .3 .8 .5 .8 .4 .8 .2 .8 .1 .8 .4 .8 .3 .8 .2 .9 .4 .8 .2 .8 .3 .8 .2 .9 .2 .8 .2 .8 .2 .8 .3"/>
<path d="M192.2 577.5l.6-.3 .6-.2 .6-.3 .6-.3 .6-.3 .6-.9 .6-.8 .6-.7 .6-.8 .6-1.1 .6-1.1 .6-1.2 .7-1.3 .6-1.3 .6-1.8 .6-1.9 .6-2.1 .6-2.8 .7-2.9 .6-3.5 .6-3.4 .6-3.2 .7-3.3 .6-3.9 .6-3.4 .7-3.5 .6-3.2 .7-3.6 .6-3.5 .3-2.3 .4-1.5 .3-1.8 .3-1.6 .3-1.7 .4-1.6 .3-2 .3-2.4 .3-1.3 .4-2.6 .3-1.3 .3-1.4 .4-2.5 .3-1.2 .3-2.2 .4-1.1 .3-2.8 .3-1.5 .4-2 .3-2.7 .3-1.8 .4-1.8 .3-3.3 .4-3.6 .3-2.7 .4-.3 .3-3.3 .3-2.2 .4-.7 .3-1.6 .4-4.3 .3-.7 .4-1 .3-2 .3 .5 .4-2.8 .3-.6 .4-.8 .3-2.1 .4 0 .3-.9 .3-.4 .4-.5 .3-1.4 .4-2.2 .3 2.2 .4-1.6 .3-1.2 .4-1.9 .3 .4 .3-1.9 .4 1.8 .3-1.7 .4-2.5 .3 2.3 .4-3.3 .3-1.8 .4-.1 .3-.9 .4 .8 .3-1.1 .4-2.5 .3 .1 .4-2.1 .3 1.2 .4 0 .3-.1 .4-1.8 .3 .3 .3 1.4 .4-1.3 .3 1.4 .4-2 .3 1.2 .4-1.9 .4-.1 .3 .8 .3 2.7 .4-1 .3-.8 .4 .2 .3 .1 .4-.5 .3 2.1 .3 .8 .4 .4 .4-2.4 .3 .5 .3 1.9 .4 .1 .3-.8 .3 2.4 .4-.4 .3 .6 .4 1.4 .3 .3 .4 .7 .3 2.6 .3 2.4 .4-.6 .3 2.5 .3 1.3 .4-1.2 .3 2.8 .3 .7 .4 .6 .3 2.2 .3-.1 .4 .1 .3 3.8 .3 .7 .3 3.6 .4-.1 .3-.7 .4 3 .3 1.8 .3 .7 .3 2.1 .4 0 .3 2.7 .3 1.8 .4 1.2 .3 3.2 .3-.8 .4 1.4 .2 3.2 .4 2 .3 0 .4 .9 .3 .5 .3 2.9 .3 1.3 .4 .8 .3 .4 .3 2.6 .4 .9 .3 1.3 .4 .2 .3 .8 .3 .9 .4 1.3 .3 1.5 .3 1.9 .4 .6 .3 .7 .3 1.3 .3 2 .4 .8 .3 1.3 .4 .4 .3 1.5 .3 1.5 .4 .6 .3 1.3 .3 1.6 .4 .4 .3 1.5 .3 1.3 .3 1.4 .4 .7 .3 1 .3 2.1 .4 .5 .3 .9 .4 .8 .3 1.6 .3-.1 .4 1.8 .3 1.3 .3 .8 .4 .7 .3 1.3 .3 1.3 .4 .8 .3 1.1 .3 1.1 .4 1.5 .3 .8 .4 .1 .3 2.5 .6 2.3 .7 3.1 .7 1.9 .6 2.3 .7 2.5 .6 2.3 .7 2.4 .7 1.9 .6 2.4 .7 2.3 .7 1.8 .7 1.7 .6 1.8 .7 1.3 .7 2.1 .7 1.5 .7 1.7 .7 1.4 .7 1.8 .6 1.4 .7 1.6 .7 1.6 .7 1.4 .7 1.1 .7 1.7 .7 1 .7 1.4 .7 1.3 .7 1.1 .7 1.2 .7 1 .7 1 .7 1 .7 1.4 .7 1.1 .7 1.1 .7 1 .8 1.2 .7 .8 .7 1.2 .7 1 .7 1.2 .7 .6 .7 1 .8 .6 .7 1 .7 .9 .7 .7 .8 .7 .7 .9 .7 .7 .8 .9 .7 .5 .7 .6 .8 .5 .7 .7 .8 .5 .7 .4 .8 .5 .7 .4 .8 .4 .7 .5 .8 .6 .7 .5 .8 .6 .7 .2 .8 .6 .7 .4 .8 .5 .8 .5 .7 .3 .8 .4 .7 .4 .8 .4 .8 .5 .7 .5 .8 .3 .8 .5 .7 .5 .8 .2 .8 .5 .8 .4 .7 .4 .8 .1 .8 .5 .8 .2 .8 .4 .7 .4 .8 .3 .8 .2 .8 .6 .8 .2 .8 .4 .8 .3 .7 .4 .8 .4 .8 .4 .8 .4 .8 .2 .8 .4 .8 .4 .8 .5 .8 .3 .8 .2 .8 .5 .8 .2 .8 .4 .8 .3 .8 .5 .8 .3 .8 .3 .8 .3 .8 .5 .8 .3 .9 .3 .8 .4 .8 .2 .8 .3 .8 .3 .8 .3 .9 .4 .8 .2 .8 .2 .8 .4 .9 .2 .8 .2 .8 .4 .9 .1 .8 .2 .8 .3 .9 .3"/>
<path d="M182.5 581l.6-.4 .6-.1 .6-.2 .6-.3 .6-.5 .6-.7 .6-.8 .6-.9 .6-1.1 .6-.9 .6-1 .6-1.4 .6-1.2 .6-1.5 .6-1.7 .7-1.8 .6-2.3 .6-2.7 .6-3.2 .6-3.1 .6-3.6 .6-3.2 .7-4 .6-3.2 .6-4.3 .6-3.2 .7-3.9 .6-3.1 .6-3.7 .4-2.2 .3-1.1 .3-2.3 .3-1.2 .3-2.9 .4-1.6 .3-.8 .3-2.4 .3-2.3 .4-2.4 .3-1 .3-1.1 .3-3 .4-1 .3-2.1 .3-1.6 .4-1.5 .3-1.6 .3-4 .3-1.6 .4-2.6 .3-2.4 .3-3.2 .4-1.8 .3-2.2 .4-2.1 .3-2.1 .3-3.2 .4-.8 .3-4.4 .3-.5 .4-1.4 .3-1.7 .4-2.9 .3 1.9 .3-3 .4-2.6 .3-.4 .4-.4 .3-.2 .4-3.3 .3 1.6 .3-3 .4 1.8 .3-.3 .4-2.3 .3-.4 .3 1 .4-3 .3-3.2 .4 1.7 .3-1.3 .4-.3 .3-.8 .4-1 .3-.7 .4-.6 .3-1.1 .4-.9 .3-.6 .3 .9 .4-1.5 .3-.3 .4-1.5 .4-2.3 .3 1.1 .3 .6 .4-3 .3 1.1 .4 1.5 .3-1.5 .4-.7 .3-.1 .4 1.7 .3-.9 .4 1 .3 .8 .4-2 .3 2.9 .4-1.9 .3-1.2 .4 .7 .3 .9 .4-.2 .3 .5 .4-1.1 .3 1.2 .4 .1 .3 2 .3 0 .4 1 .3-1 .4 .9 .3 1.6 .4 0 .3 1.8 .4 1.3 .3 .3 .3 1.4 .4-1 .3 4.7 .4-1.1 .3 3.1 .4-.5 .3 3 .3 1.9 .4-1.7 .3 2.9 .4-.3 .3 3.5 .3 1.5 .4-.3 .3 3.1 .3 .9 .3 2.3 .4 1 .3 3.1 .4 .1 .3 1.3 .3 .6 .4 1.5 .3 2.3 .3 1.4 .4 1.7 .3-.1 .3 3.5 .4 .5 .3 1.9 .3 2.4 .4 .2 .3 1 .4 1.9 .3 2.2 .3 .2 .4 1.3 .3 1.8 .3 .4 .4 2.6 .3 1 .4 .7 .3 .9 .3 .7 .4 1.1 .3 2 .4 .3 .3 .9 .3 1.5 .4 1.7 .3 1.2 .3 1.5 .4 1.7 .3 .6 .3 1.5 .4 .5 .3 1.2 .4 1 .3 1.2 .4 1.1 .3 1.6 .3 1 .4 .9 .3 .7 .3 2.3 .4 .9 .3 .7 .4 1.4 .3 .9 .3 .8 .4 1.4 .3 .5 .4 1.1 .3 1.1 .3 1.2 .4 1.1 .3 2.3 .4 0 .3 1.7 .3 .4 .4 2.1 .3 .9 .7 3.1 .6 2.4 .7 2.2 .7 2.4 .7 2.1 .6 2.5 .7 2.3 .7 2.2 .7 2.9 .7 1.5 .6 2.4 .7 1.6 .7 1.9 .7 1.5 .7 1.7 .7 1.6 .7 1.8 .7 1.8 .7 1.4 .7 1.6 .7 1.5 .7 1.5 .7 1.3 .7 1.5 .7 1.4 .7 1.4 .7 1.4 .7 .9 .7 1.2 .7 1.3 .7 1.3 .7 1 .7 1 .8 1.2 .7 1.2 .7 1.1 .7 1.1 .7 1.1 .7 .9 .8 1.1 .7 1.1 .7 1 .7 .7 .7 1.1 .8 .8 .7 1 .7 .9 .8 .7 .7 .9 .7 .6 .8 .8 .7 .5 .8 .6 .7 .7 .8 .5 .7 .6 .8 .3 .7 .5 .8 .6 .7 .4 .8 .4 .7 .7 .8 .5 .7 .3 .8 .6 .8 .6 .7 .3 .8 .5 .8 .4 .7 .4 .8 .6 .8 .4 .7 .4 .8 .6 .8 .4 .7 .3 .8 .4 .8 .5 .8 .4 .7 .3 .8 .5 .8 .4 .8 .3 .8 .4 .7 .3 .8 .3 .8 .5 .8 .2 .8 .3 .8 .5 .8 .2 .8 .4 .8 .3 .8 .5 .8 .3 .8 .4 .7 .5 .9 .2 .7 .5 .9 .3 .7 .5 .9 .2 .8 .4 .8 .3 .8 .5 .8 .2 .8 .4 .8 .3 .8 .5 .8 .3 .8 .3 .9 .4 .8 .3 .8 .3 .8 .5 .8 .2 .9 .4 .8 .2 .8 .3 .8 .4 .9 .3 .8 .4 .8 .3 .9 .2 .8 .2 .8 .4 .9-.1 .8 .5 .8 .3 .9 .1 .8 .2"/>
<path d="M172.5 584.3l.6-.4 .6-.2 .6-.2 .6-.4 .6-.4 .6-.7 .6-1 .6-.9 .6-1 .6-1 .6-1.3 .6-1.1 .6-1.5 .6-1.7 .6-1.6 .6-2 .6-2.3 .6-2.7 .6-3.6 .7-3.5 .6-3.7 .6-3.3 .6-3.9 .6-3.9 .6-4.1 .6-3.6 .6-3.8 .7-3.4 .6-4.1 .3-1.7 .3-2.2 .3-1.9 .3-1.3 .4-1.9 .3-2.4 .3-1.7 .3-2.2 .3-2.3 .4-1 .3-2.6 .3-1.4 .3-2.3 .3-1.8 .4-1.5 .3-1.3 .3-3 .3-1.7 .4-2.9 .3-2.5 .3-3.2 .3-2.6 .4-1.4 .3-2.8 .3-3 .3-2.8 .4-2.6 .3-1.6 .3-2.9 .4-1.1 .3-3.5 .3-.7 .4-1.6 .3-1.5 .4-1.7 .3-2.5 .3-.1 .4-1.7 .3 .5 .3-2.2 .4-1.1 .3-1.1 .4 .9 .3-.9 .3-1.8 .4-1.4 .3 .4 .4-1.8 .3-2.2 .4 2.6 .3-1.5 .4-1.9 .3-1.5 .3-.3 .4-1.3 .3-1.8 .4 1.2 .3-.4 .4-3.3 .3 2.4 .4-3.7 .3-1.4 .4 .4 .3 .4 .4-1.1 .3 .5 .4-3.1 .3 1.3 .4 .4 .3-.6 .4-.3 .3-.8 .4 .8 .3 1.2 .4-.7 .3 1 .4 .4 .3-1.8 .4 1 .3-.3 .4-.7 .3-.2 .4 1.2 .3 1 .4-1.1 .3 1.9 .4-2.4 .3 2.6 .4-1.3 .3 3.1 .4-1.4 .3 1.1 .4 1.4 .3-.5 .4 1.5 .3 1.5 .4 1.3 .3 .5 .4 1.5 .3 2.1 .4 1.1 .3 .7 .4 2.2 .3 2.1 .4-1.5 .3 2.7 .4-1.3 .3 3.3 .3 .9 .4 1.5 .3 2.2 .4 1.9 .3 2.7 .3 1.1 .4 1.8 .3 1.7 .4 1.6 .3 .2 .3 3.3 .4-1.3 .3 3.5 .4 .7 .3 1.7 .4 1.5 .3 2 .3 1.6 .4 1.4 .3 1 .4 1.7 .3 1.8 .3 2.6 .4 1 .3 .7 .4 .7 .3 1.2 .4 2.5 .3 .7 .4 1.8 .3 1.4 .3 .6 .4 1 .3 1.4 .4 2.5 .3-.6 .4 2.9 .3-.4 .4 1.1 .3 .4 .3 3.5 .4 .8 .3 .9 .4 1.1 .3 1.7 .4 .5 .3 1.9 .4 1 .3 1.3 .3 .9 .4 1.3 .3 2 .4 .3 .3 1.9 .4 1.1 .3 1 .3 1 .4 .8 .3 1.1 .4 1.9 .3 .6 .4 .7 .3 1.2 .4 1.4 .3 1.5 .4 .7 .3 1.5 .3 1.6 .4 1.6 .3 .4 .4 1.1 .3 1.1 .7 2.9 .7 3 .7 2.7 .6 2.5 .7 2.4 .7 2.9 .7 2.2 .7 2.5 .7 2.1 .7 2.2 .6 2.6 .7 1.8 .7 1.6 .7 1.7 .7 1.9 .7 1.6 .7 1.7 .7 1.8 .7 1.7 .7 1.5 .8 1.6 .7 1.8 .7 1.4 .7 1.5 .7 1.5 .7 1.3 .7 1.4 .7 1.1 .7 1.2 .8 1.3 .7 1.4 .7 1 .7 1.2 .7 1.2 .8 1 .7 1.4 .7 1.1 .7 1.1 .7 1 .8 1.3 .7 .9 .7 1.2 .8 .9 .7 .9 .7 1 .8 .7 .7 .9 .7 .9 .8 .8 .7 .8 .8 .7 .7 .7 .8 .5 .7 .8 .8 .5 .7 .5 .8 .6 .7 .5 .8 .4 .8 .8 .7 .5 .8 .3 .7 .6 .8 .4 .8 .6 .7 .5 .8 .4 .8 .7 .7 .2 .8 .6 .8 .5 .8 .4 .7 .5 .8 .3 .8 .6 .8 .3 .7 .6 .8 .3 .8 .5 .8 .4 .8 .3 .8 .5 .8 .4 .7 .2 .8 .3 .8 .5 .8 .4 .8 .3 .8 .5 .8 .3 .8 .3 .8 .4 .8 .3 .8 .4 .8 .4 .8 .3 .8 .5 .8 .5 .8 .3 .8 .3 .8 .3 .8 .6 .9 .4 .8 .4 .8 .3 .8 .4 .8 .3 .8 .3 .8 .5 .9 .3 .8 .4 .8 .3 .8 .5 .9 .3 .8 .2 .8 .6 .8 .2 .9 .3 .8 .4 .8 .3 .9 .3 .8 .1 .8 .5 .9 .1 .8 .4 .9 .4 .8 .1 .9 .4 .8 0 .9 .5 .8 .1"/>
<path d="M162.2 588l.6-.3 .6-.2 .6-.1 .6-.5 .6-.6 .6-.7 .6-.8 .6-1 .6-1.1 .6-.9 .6-1.2 .6-1.4 .6-1.5 .6-1.7 .6-1.8 .6-1.6 .6-2.4 .6-3 .6-3.1 .6-4 .6-3.5 .6-3.5 .6-4 .6-4.1 .6-3.8 .6-4 .6-4 .6-3.3 .6-4.1 .3-1.4 .4-2.1 .3-2.6 .3-1.4 .3-1.9 .3-2.6 .3-1.5 .3-2.5 .3-2.4 .3-2.1 .3-1 .4-2.2 .3-1.6 .3-3 .3-1.4 .3-3.1 .3-.4 .4-2.4 .3-.8 .3-3.7 .3-2.8 .3-3.6 .3-3.2 .4-1.7 .3-3 .3-2.8 .3-1.9 .4-2.8 .3-3 .3-.4 .3-2.7 .4-2.6 .3-.8 .3-2.8 .4 .3 .3-2.6 .3-.4 .4-1.4 .3 .1 .3-2.6 .4 1.2 .3-3 .4 .1 .3-1.2 .3-1.9 .4 1.7 .3-3.1 .4-.5 .3 .1 .3-2.3 .4 0 .3-2.8 .4 1.7 .3-3.1 .4-.6 .3 .3 .4 .3 .3-1.5 .3 .5 .4-1.6 .3-1.1 .4-1.9 .3 1.3 .4-2.7 .3 .7 .4-1.9 .3 .1 .4 1.2 .3-1.3 .4-.1 .3 .7 .4-.5 .3-.2 .4 .9 .3 .3 .4-1.7 .3 2.4 .4-2.6 .3-.3 .4 1.6 .4-.8 .3 1.6 .4-1.5 .3-2.7 .4 3.4 .3 1 .4 .2 .3 2 .4-.3 .3 .1 .4 1.1 .3-.1 .4-.5 .3 3.8 .4 .1 .4 .1 .3 2.6 .4 .9 .3-.4 .4 1 .3 1.5 .4 2.7 .3-.4 .4 1.1 .3 2.6 .4 .9 .3 1.7 .4 1.4 .3 1.7 .4 .6 .3 2.7 .4-.8 .3 2.6 .4 2.4 .4-.5 .3 3.4 .3 3.8 .4-1.3 .3 1.9 .4 2.3 .3 1.5 .4 2.1 .3 2.1 .4 1.6 .3-1.1 .4 4 .3 1 .4 .4 .3 3.3 .4 1.1 .3 1.8 .4 2.1 .3 .1 .4 1.3 .3 1.9 .4 1.3 .3 .7 .4 1.3 .3 .5 .4 2 .3 1.1 .4 2.1 .3 1.6 .4-.2 .3 2.4 .4 .4 .3 1.6 .4 1.7 .3 .7 .4 .6 .3 1.4 .4 2.2 .3 1.2 .4 2.1 .3 .8 .4 1 .3 1 .4 1 .3 1.6 .4 .6 .3 2.1 .4 .5 .3 1.9 .4 .9 .3 .9 .4 .9 .3 1.7 .4 1.1 .3 1 .4 1 .3 .8 .4 1.4 .3 1.5 .4 1.2 .3 .8 .4 1.2 .3 1.4 .4 1.7 .3 1.6 .3 1.3 .7 2.5 .7 3.1 .7 2.4 .7 2 .7 3 .7 2.5 .7 2.9 .7 1.9 .7 2.8 .7 2.1 .7 2.1 .7 2 .7 2 .7 1.6 .8 1.6 .7 2.1 .7 1.5 .7 2.1 .7 1.5 .7 1.8 .7 1.4 .7 1.9 .7 1.4 .8 1.6 .7 1.6 .7 1.2 .7 1.4 .7 1.2 .8 1.3 .7 1.5 .7 1.1 .7 1.1 .8 1.1 .7 1.4 .7 1.1 .8 1.3 .7 1.1 .7 1.1 .7 1.2 .8 1.3 .7 .8 .8 1.1 .7 .9 .7 1.3 .8 .7 .7 .9 .8 1 .7 .8 .8 .9 .7 .8 .8 .6 .7 .8 .8 .5 .7 .7 .8 .7 .7 .5 .8 .6 .8 .5 .7 .4 .8 .7 .8 .5 .7 .3 .8 .7 .8 .6 .7 .5 .8 .6 .8 .2 .8 .5 .7 .5 .8 .5 .8 .6 .8 .5 .7 .4 .8 .4 .8 .4 .8 .5 .8 .6 .8 .2 .8 .6 .7 .4 .8 .4 .8 .4 .8 .6 .8 .3 .8 .3 .8 .2 .8 .5 .8 .3 .8 .5 .8 .3 .8 .2 .8 .4 .8 .5 .8 .4 .9 .4 .8 .4 .8 .4 .8 .4 .8 .5 .8 .4 .8 .3 .8 .5 .9 .3 .8 .5 .8 .3 .8 .4 .8 .4 .9 .3 .8 .5 .8 .5 .8 .3 .9 .3 .8 .2 .8 .5 .9 .4 .8 .3 .8 .2 .9 .4 .8 .3 .8 .3 .9 .3 .8 .5 .9 .1 .8 .4 .9 .3 .8 .2 .9 .2 .8 .4 .9 .2 .8 .5 .9 .2"/>
<path d="M151.7 591.7l.6-.4 .6-.3 .6 0 .6-.5 .6-.6 .6-.9 .6-.5 .6-1.1 .6-1 .6-1.2 .6-1.3 .6-1.2 .5-1.6 .6-1.7 .6-1.8 .6-2.2 .6-2.4 .6-2.9 .6-3.4 .6-3.9 .5-3.6 .6-3.9 .6-3.9 .6-4 .6-4.1 .6-3.9 .6-4.3 .6-3.7 .6-3.9 .3-2.1 .2-2.7 .4-1.7 .3-1.5 .3-1.9 .3-2.6 .3-1.4 .3-2.9 .3-1.3 .3-2.8 .3-2.5 .3-1.1 .3-2.4 .3-2.1 .3-2.8 .3-2.1 .3-.5 .3-3.4 .4-2.3 .3-2.2 .3-3 .3-2.1 .3-3.1 .3-3.4 .3-1.8 .3-3.7 .3-2.3 .3-3.4 .4-.3 .3-4.2 .3-1.3 .3-1.9 .4-1.5 .3-1.6 .3-.7 .4-1.1 .3-3.2 .3 2.1 .3-4.1 .4-.5 .3-.8 .4-1.8 .3 .1 .3-1.2 .4-1.4 .3-.2 .3-2 .4-.9 .3 .2 .4-1.5 .3 .6 .3-2.2 .4-.7 .3 .9 .4-2.4 .3-1.5 .4 .9 .3-.5 .4-2.4 .3-.3 .3-.5 .4-2.2 .3 .5 .4-1.9 .3-1.5 .4 .6 .3-.1 .4 1.2 .3-3.1 .4 1.7 .3-2.6 .4 2.7 .3-.9 .4 1.6 .3-2 .4 2.1 .4-1.7 .3-2 .4 1.3 .3 2.7 .4-2.6 .3 2.9 .4-.9 .4 .6 .3 .1 .4-.1 .3 3.2 .4-3.9 .3 1.9 .4 1.8 .4-.9 .3-.6 .4 3.8 .3-1.2 .4 1.9 .3 .8 .4 1.9 .4 .5 .3 .5 .4 3.7 .3 .4 .4 1 .4 1.4 .3 2.6 .4 .1 .3 2.1 .4-.2 .4 1.9 .3 1.3 .4 1.3 .3 2.5 .4 2.1 .3 0 .4 2.8 .4 1.9 .3-.4 .4 4.5 .3-.4 .4 1.2 .3 3.2 .4 1.8 .4 .9 .3 2.7 .4 2.6 .3-.8 .4 1.4 .3 3.9 .4 .1 .3 2 .4 1.7 .4 1 .3 2.3 .4 1.4 .3 1.1 .4 1.3 .3 3.1 .4-1 .3 1.7 .4 1 .4 2 .3 1.8 .4 .4 .3 1.3 .4 1 .3 1.4 .4 2.2 .4 1.4 .3 .9 .4 .9 .3 1.6 .4 1.6 .3 .9 .4 2.3 .3 .5 .4 2.3 .4-.6 .3 3 .4-.4 .3 1.7 .4 1.2 .3 1.3 .4 1.8 .3 1 .4 .6 .4 2.3 .3 .8 .4 .8 .3 1.8 .4 .2 .3 2.3 .4 1.1 .4 .9 .3 1.5 .4 1.1 .3 1.2 .4 1.4 .3 1.1 .4 1.4 .3 1.4 .4 1.5 .7 2.9 .7 2.7 .7 2.8 .7 2.5 .7 2.5 .7 3.2 .7 2 .8 2.8 .7 2.4 .7 2.6 .7 2 .7 2.1 .7 2 .7 1.8 .7 2.1 .8 1.8 .7 1.5 .7 1.8 .7 2.2 .7 1.4 .8 1.8 .7 1.6 .7 1.7 .7 1.6 .8 1.6 .7 1.3 .7 1.4 .8 1.2 .7 1.6 .7 1.1 .8 1.1 .7 1.7 .7 .9 .8 1.3 .7 1.2 .7 1.3 .8 1.3 .7 1.1 .7 1.2 .8 1.4 .7 .8 .8 1.2 .7 1 .8 .9 .7 1 .8 .9 .7 .9 .8 1 .7 .8 .8 1 .7 .4 .8 .8 .7 .8 .8 .6 .8 .5 .7 .8 .8 .7 .8 .2 .8 .6 .7 .6 .8 .5 .8 .6 .7 .5 .8 .6 .8 .5 .8 .6 .8 .5 .7 .4 .8 .7 .8 .5 .8 .4 .8 .3 .8 .6 .7 .4 .8 .5 .8 .4 .8 .5 .8 .7 .8 .5 .8 .3 .8 .4 .8 .4 .8 .4 .8 .4 .8 .3 .8 .5 .8 .2 .8 .4 .8 .6 .8 .2 .8 .4 .9 .4 .8 .4 .8 .6 .8 .1 .8 .5 .8 .4 .8 .4 .8 .6 .9 .3 .8 .4 .8 .2 .8 .7 .9 .2 .8 .5 .8 .5 .8 .4 .9 .4 .8 .3 .8 .5 .9 .3 .8 .3 .8 .4 .9 .4 .8 .3 .9 .4 .8 .5 .8 .3 .9 .4 .8 .3 .9 .2 .8 .3 .9 .4 .8 .3 .9 .2 .9 .5 .8 .2 .9 .1 .8 .4 .9 .1 .9 .3"/>
<path d="M140.8 595.7l.6-.6 .6-.2 .6-.2 .6-.3 .6-.7 .6-.5 .6-1.2 .6-1 .6-.9 .6-1.2 .6-1.2 .6-1.4 .6-1.6 .5-1.4 .6-2.3 .6-2.1 .6-2.6 .6-2.9 .5-3.5 .6-4 .6-3.4 .5-4.2 .6-3.9 .6-4.7 .5-3.8 .6-4.4 .6-3.7 .6-3.2 .5-5.4 .3-2 .3-2 .3-1.6 .3-2.6 .3-1.4 .3-2.1 .3-2.8 .3-2 .3-2.6 .3-1 .3-2.7 .3-2.1 .3-2.3 .3-1 .3-2.7 .3-1.8 .3-2.8 .3-3.6 .3-1.2 .3-3.3 .3-2.4 .3-2.5 .3-3.5 .3-2.8 .3-2.6 .3-3.3 .3-2.3 .3-1.3 .3-1.3 .3-3.6 .3-2.9 .3-2.9 .4-.8 .3-1.9 .3-1.9 .3-1.5 .4 .6 .3-1.7 .3-1.9 .4 .1 .3-.6 .3-1.6 .4-1.3 .3-2.1 .3 .7 .4-.7 .3-1.4 .3-2.3 .4 1.9 .3-3.2 .4-1.7 .3 .7 .4-.7 .3-.2 .3-1.2 .4-1.7 .3-2.6 .3 0 .4 .2 .3 .2 .4-1.3 .3-3.7 .4 2.3 .3-3.6 .4 .7 .3-1.4 .4 .5 .3 1 .4-1 .3 .3 .4 .9 .3-1.5 .4-.3 .3 1.3 .4-1.1 .3-1.3 .4 1 .4 1.6 .3-3.4 .4 3.1 .3-2.2 .4 1.2 .3-.7 .4 1.3 .4 2.1 .3-2.7 .4 2.8 .4 1.3 .3 .6 .4-1.8 .3 1.9 .4 .8 .4 2.1 .3-3.4 .4 2.5 .3 .7 .4 2.2 .4 .1 .4 3.2 .3-.9 .4 2.9 .3 1.8 .4 0 .4 1.8 .3 1.5 .4 3.6 .4 .8 .3 1.9 .4 1 .4 .6 .3 2.8 .4 .7 .4 2.8 .3 1 .4 .9 .4 1.2 .3 1.1 .4 3.2 .4 1.7 .3 .6 .4 4.5 .4 1.3 .3 0 .4 1.7 .3 1.1 .4 1.8 .4 1.9 .3 2.3 .4 2.2 .4 .8 .3 3.8 .4 .3 .4 2.5 .3 .5 .4 3.2 .3-.8 .4 1.7 .4 .6 .3 3.1 .4 .5 .4 .6 .3 2.9 .4 .4 .3 2.5 .4-1.1 .4 3 .3 .8 .4 1.2 .4 2.5 .3 .7 .4 1.9 .3 .2 .4 .9 .4 3.3 .3 .2 .4 2 .4 .5 .3 1.2 .4 1.1 .3 1.5 .4 2.3 .4 1.1 .3 .7 .4 .9 .3 1.9 .4 1 .4 .9 .3 1.4 .4 .8 .4 2.1 .3 .6 .4 1.4 .3 1.3 .4 1.4 .4 1.5 .3 .7 .4 2.1 .3 1.1 .4 1.5 .4 1.7 .7 2.7 .7 2.9 .7 2.4 .7 3.4 .8 2.4 .7 2.7 .7 2.6 .7 3 .8 2.3 .7 2.6 .7 1.9 .7 1.9 .8 1.9 .7 2.6 .7 1.6 .7 1.7 .8 2.2 .7 1.2 .7 2.2 .7 2.1 .8 1 .7 2.1 .7 2 .8 1.5 .7 1.4 .8 1.4 .7 1.2 .7 1.6 .8 1.3 .7 1.3 .7 1.2 .8 1.3 .7 1.5 .8 1.1 .7 1.4 .8 1.3 .7 .9 .8 1.7 .7 1 .7 1.3 .8 .9 .8 1.1 .7 1.1 .8 1 .7 1 .8 .9 .7 1.1 .8 .7 .7 .9 .8 .9 .8 .8 .7 .6 .8 .7 .8 .6 .7 .7 .8 .5 .8 .6 .8 .7 .7 .6 .8 .5 .8 .6 .8 .5 .8 .6 .7 .4 .8 .6 .8 .5 .8 .5 .8 .6 .8 .5 .8 .7 .7 .4 .8 .3 .8 .6 .8 .5 .8 .3 .8 .5 .8 .6 .8 .5 .8 .5 .8 .4 .8 .5 .8 .3 .8 .5 .8 .3 .8 .4 .9 .3 .8 .5 .8 .2 .8 .6 .8 .2 .8 .6 .8 .4 .9 .4 .8 .5 .8 .2 .8 .6 .8 .5 .9 .5 .8 .2 .8 .4 .8 .5 .9 .5 .8 .4 .8 .5 .9 .3 .8 .4 .8 .4 .9 .4 .8 .5 .8 .5 .9 0 .8 .6 .9 .4 .8 .3 .9 .5 .8 .3 .8 .6 .9 .1 .9 .2 .8 .4 .9 .5 .8 .3 .9 .2 .9 .3 .8 .4 .9 .2 .8 .3 .9 .2 .9 .4 .9 .2 .8 .3"/>
<path d="M129.6 599.5l.6-.4 .6-.1 .6-.2 .6-.5 .6-.5 .6-.9 .6-.8 .6-1.1 .6-1 .6-1.2 .6-1.2 .6-1.5 .5-1.7 .6-1.6 .6-1.9 .6-2.4 .5-2.5 .6-2.9 .5-3.8 .6-4 .5-3.7 .6-3.9 .5-4.3 .6-4.6 .5-4 .6-4.3 .6-3.4 .5-5 .6-4.3 .3-1.4 .3-2.8 .2-1.9 .3-2.3 .3-1.9 .3-2.1 .3-3.1 .3-2 .3-1 .3-1.8 .3-3.1 .2-2.2 .3-1.9 .3-2 .3-3 .3 .2 .3-3.3 .3-3.2 .3-2.5 .3-2.7 .3-2.3 .2-4.8 .3-2.8 .3-2.9 .3-2.6 .3-1.1 .3-3.2 .3-1.9 .3-3.5 .3-1 .3-3.4 .3-1.5 .3-2.4 .4 .4 .3-2.4 .3-2.5 .3-1.9 .4 .8 .3-3.1 .3-3 .3 1.7 .4-.3 .3 .1 .3-1.1 .4-2.2 .3-1.3 .3-1.9 .3-2.4 .4 2 .3-2.2 .3-2.3 .4 0 .3-.5 .4-.8 .3 .8 .4-.8 .3-3.5 .3-1.6 .3-.7 .4-1 .3-1.8 .3-.8 .4 1.5 .4-1.4 .3 2.9 .3-4.6 .4 .9 .4-.2 .3-1.5 .4 2.8 .3-2.1 .4 1.2 .3-3.3 .4 3.6 .4-.9 .3-1.4 .3-1.5 .4 2.3 .4 2 .3-.8 .4-1.2 .3-.1 .4 2.6 .4-2.9 .4 3 .3 .3 .4-.6 .3 1.6 .4 .5 .4-.6 .4 3.5 .3-1.8 .4 1.8 .3-1 .4 2.5 .4-1.3 .3 1.9 .4 1 .4 1.5 .4 2.6 .3-.2 .4 1 .4 1.9 .3 1.2 .4 1.4 .4 2 .4 1.8 .3 .8 .4 1.5 .4 1 .3 1 .4 3.2 .4 1.9 .4-.7 .4 3.7 .3 1.7 .4 2.5 .4 .7 .4 4 .3 .4 .4 1.3 .4 2.1 .3 .9 .4 1 .4 2.4 .4 2.4 .3 3.3 .4 .4 .4 .2 .3 1.5 .4 2.3 .4 1.4 .4 1.6 .3 3.1 .4 .8 .4 1.5 .3 .6 .4 1.1 .4 2.1 .3 .1 .4 2.6 .4 1.6 .4 1.3 .3 2.2 .4-.3 .4 2 .3 .7 .4 1.4 .4 1.3 .3 2.6 .4 .6 .4 1.3 .3 1.1 .4 2 .4 1.4 .4 .2 .3 2.6 .4 .6 .4 1.9 .3 .5 .4 1.9 .4 1.2 .3 1.6 .4 1.7 .4-.4 .3 2.1 .4 .6 .4 1.5 .3 1.9 .4 1 .4 .8 .4 1.4 .3 1.5 .4 .9 .4 1.1 .3 1.2 .4 1.1 .4 1.9 .3 1.5 .4 1.4 .7 3.6 .8 1.7 .7 2.8 .7 4.4 .8 1.7 .7 2.9 .7 2.7 .8 3.1 .7 2.2 .8 3 .7 1.9 .7 2.2 .8 2.1 .7 2.7 .7 1.8 .8 1.9 .7 1.5 .8 2.1 .7 1.6 .7 2 .8 1.8 .7 2.1 .8 1.9 .7 1.6 .7 1.7 .8 1.6 .7 1.2 .8 1.4 .7 1.7 .8 1.3 .7 1.1 .8 1.5 .7 1.2 .8 1.3 .7 1.3 .8 1.3 .7 1.4 .8 1.4 .8 1.1 .7 1.5 .8 1.1 .7 1.1 .8 .9 .7 1.3 .8 1.1 .8 1.1 .7 1 .8 1.1 .8 1.1 .7 .7 .8 .9 .8 .9 .7 .8 .8 .8 .8 .5 .8 1 .8 .4 .7 .9 .8 .5 .8 .6 .8 .5 .8 .5 .8 .6 .7 .6 .8 .6 .8 .6 .8 .6 .8 .6 .8 .3 .8 .7 .8 .6 .8 .6 .8 .4 .8 .6 .8 .3 .8 .5 .8 .6 .8 .4 .8 .5 .8 .5 .8 .5 .8 .5 .8 .4 .8 .7 .9 .2 .8 .5 .8 .6 .8 .2 .8 .4 .9 .3 .8 .5 .8 .5 .8 .3 .9 .4 .8 .7 .8 .3 .8 .3 .9 .5 .8 .4 .8 .2 .9 .7 .8 .4 .8 .4 .9 .5 .8 .4 .8 .5 .9 .3 .8 .5 .9 .4 .8 .4 .9 .6 .8 .2 .9 .4 .8 .5 .9 .4 .8 .3 .9 .4 .8 .5 .9 .4 .9 .3 .8 .5 .9 .4 .8 .3 .9 .3 .9 .5 .9 .2 .8 .5 .9 .3 .9 .3 .9 .1 .8 .2"/>
<path d="M118.1 604.3l.6-.7 .6-.2 .6 0 .6-.4 .6-.8 .6-.7 .6-.9 .6-.9 .6-1.2 .6-1 .5-1.5 .6-1.5 .6-1.4 .6-1.8 .5-1.8 .6-2.2 .6-2.5 .5-3.2 .6-3.5 .5-3.7 .5-4.3 .6-3.6 .5-4.5 .5-3.8 .6-4.8 .5-4.1 .5-3.9 .6-4.5 .5-4 .3-2.4 .3-1.9 .3-2.3 .3-1 .2-3.3 .3-1.5 .3-2.2 .3-1.7 .3-2.4 .2-2.3 .3-2.3 .3-2.1 .3-1.9 .3-2.4 .2-2.4 .3-1.5 .3-2.2 .3-3.3 .3-2.1 .3-2 .2-4 .3-3 .2-4.4 .3-2.2 .3-2.7 .3-1.9 .3-1.9 .3-3.2 .3-2.3 .3-2.2 .2-3.4 .4-.2 .2-4.3 .4 .8 .3-1.1 .3-3.5 .3-.1 .4-.8 .3-2.2 .3-.2 .3-1.6 .4-.5 .3-1.5 .3 0 .3-2.5 .4 .1 .3-1.5 .4 1.4 .2-3.8 .4 .3 .3-1.3 .4-.8 .3-.6 .3-.4 .3-3.1 .4 .7 .3-1.2 .4-.7 .3-.5 .3-3.2 .4 1.1 .3-2.2 .4 .6 .3 .3 .4-.4 .3-2.7 .4 2.7 .3-.5 .4-1.6 .3-1.8 .4 1.5 .3-2.4 .4 1.4 .3 0 .3-2.3 .4 1.4 .4 1.2 .4 .2 .3-1.6 .3-.5 .4 2.3 .4 0 .3-1.3 .4 2.5 .4-1.2 .3 .5 .4 .8 .4 1.3 .4 2.2 .3-2.1 .4 2 .3-1.1 .4 1.8 .4 .6 .3-1.3 .4 1.9 .4 3 .4-1 .4 2.6 .4 2.3 .3-.4 .4 1.4 .4 .2 .3 1.3 .4 1.3 .4 3.3 .4 .8 .4 3.2 .4-.7 .3 2 .4 3.5 .4-1.2 .4 1.8 .4 3.6 .4 2.3 .3 0 .4 1.1 .4 2.1 .4 .3 .3 1 .4 3.5 .4 2 .4 1.9 .4-.4 .3 3.4 .4 1.2 .4 1.5 .4 1.7 .4 2.1 .3 .6 .4 2.6 .4 1.9 .4 2.4 .4 1 .3 1.3 .4 .8 .4 2.4 .4 .9 .3 1.6 .4 2.9 .4-.5 .4 .5 .4 3.1 .3-.2 .4 2.7 .4 .8 .4 1.1 .3 .7 .4 1.8 .4 1.3 .4 .9 .3 1.3 .4 1.9 .4 1 .4 .9 .3 1.8 .4 2 .4 .8 .4 2.1 .3-.4 .4 2.2 .4 2.1 .4 .8 .3 .9 .4 1.1 .4 1.6 .4 1.4 .3 1.4 .4 .5 .4 1.1 .4 1.5 .3 1.3 .4 1.2 .4 1.4 .4 1.2 .3 .9 .4 1.3 .4 1.2 .4 1.7 .3 .8 .8 3.3 .7 2.2 .8 3.2 .7 2.8 .8 3.1 .7 2.6 .8 2.8 .7 2.5 .8 3.1 .7 2 .8 2.7 .7 2.4 .8 2.4 .7 2.1 .8 2.3 .7 2 .8 1.8 .7 2 .8 1.5 .7 2 .8 1.8 .7 1.9 .8 1.6 .7 1.7 .8 1.9 .7 1.5 .8 1.7 .8 1.6 .7 1.7 .8 1.3 .7 1.2 .8 1.3 .7 1.2 .8 1.6 .8 1.2 .7 1.5 .8 1.2 .8 1.3 .7 1.3 .8 1.2 .8 1.1 .7 1.4 .8 1.3 .8 1 .7 1.2 .8 1.2 .8 .8 .7 1.1 .8 1 .8 1.1 .8 1 .7 .8 .8 1.1 .8 .7 .8 .8 .8 .8 .7 .8 .8 .7 .8 .7 .8 .4 .8 .8 .8 .6 .8 .7 .8 .4 .8 .6 .8 .8 .8 .2 .8 .7 .8 .6 .8 .7 .8 .2 .8 .7 .8 .6 .8 .6 .8 .4 .8 .7 .8 .4 .8 .5 .8 .6 .8 .5 .8 .5 .9 .3 .8 .6 .8 .4 .8 .6 .8 .3 .9 .5 .8 .4 .8 .6 .8 .3 .9 .5 .8 .3 .8 .5 .9 .4 .8 .4 .8 .4 .9 .6 .8 .2 .8 .6 .9 .3 .8 .5 .9 .2 .8 .6 .8 .6 .9 .3 .8 .6 .9 .5 .8 .4 .9 .3 .8 .3 .9 .6 .8 .6 .9 .3 .9 .4 .8 .7 .9 .2 .8 .2 .9 .7 .9 .4 .8 .4 .9 .2 .9 .4 .8 .5 .9 .3 .9 .6 .9 .4 .8 .2 .9 .6 .9 .1 .9 .4 .9 .4"/>
<path d="M106.3 609l.6-.5 .6 0 .6-.4 .6-.5 .6-.5 .6-.6 .6-.9 .5-1 .6-1.3 .6-1 .6-1.2 .6-1.3 .5-1.7 .6-1.7 .6-1.7 .5-2 .6-2.7 .5-3.2 .5-3.3 .5-3.9 .6-4.1 .5-3.7 .5-3.7 .5-4.9 .5-3.9 .6-4 .5-4.1 .5-4.3 .6-3.8 .2-2.7 .3-1.7 .3-2.1 .2-2 .3-1.7 .3-2.4 .2-2.7 .3-1.3 .3-2.2 .3-2.4 .2-1.6 .3-2.9 .3-1 .3-2.9 .3-1.4 .2-2.4 .3-2.2 .2-4 .3-.6 .3-3.7 .3-2.6 .2-2.4 .3-4.2 .2-2.4 .3-1.6 .3-2.4 .3-3.9 .2-2.5 .3-.9 .3-3.7 .3-1.8 .3-2.7 .3-.7 .3-2.3 .3-1.3 .3-2 .3-1.7 .3-2.1 .4 2.3 .3-2.7 .3 .1 .3-.7 .4-.3 .3-2.2 .3-1.6 .3-.7 .3-1.4 .4-.9 .3-1.3 .3-.4 .4-1.2 .3-.8 .3-.1 .4 .1 .3-.7 .3-3 .4 .8 .3-2.9 .3 .5 .4-.7 .3-1.6 .3-1.4 .3-2.8 .4 2.1 .4-.2 .3-1.4 .3-1.1 .4 1.1 .3 .3 .4-1.6 .3 .1 .4-.3 .4 2.2 .3-2.7 .4 .7 .3-1.3 .4 1.8 .3-.8 .4 1 .3-2.9 .5 4.8 .3-.4 .4 0 .4 3 .3-2.8 .3-2.5 .4 1.4 .4-.1 .3 2 .4 1.2 .4 .1 .4 2.1 .4 1.3 .3-2.6 .4 2.2 .3-.7 .5 4.4 .3-.6 .4 3 .4-2.4 .4 3 .4 2.5 .4 1.2 .3-1.2 .4 3.9 .4 .5 .4 1.2 .4 2.5 .3-1.2 .4 1.1 .4 4 .4 .8 .4 1.1 .4 1.7 .4 1.6 .4 3.5 .4 .5 .4 3 .3 .6 .4 1.1 .4 1.4 .4 4.1 .4-.3 .4 3 .4 .2 .3 1.8 .4 1.8 .4 1.1 .4 2.2 .4 2.4 .4 1.3 .4 1.1 .4 3 .3 .5 .4 1.1 .4 2.4 .4-.1 .4 1.4 .4 1.8 .3 1.7 .4 1.4 .4 .8 .4 1.3 .4 1 .4 2.3 .3 .5 .4 1 .4 2.4 .4 .7 .4 1.4 .3 1.4 .4 .7 .4 1.9 .4 .9 .4 1.5 .3 1.1 .4 1.8 .4 1.5 .4 .7 .4 1.6 .4 1 .3 1.8 .4 1.3 .4 .8 .4 1.5 .4 1.3 .3 .9 .4 1.6 .4 1 .4 1.1 .4 1.8 .3 .4 .4 1.5 .4 1.3 .4 1.2 .4 1.4 .4 1.6 .3 .6 .4 1.5 .4 .6 .8 2.8 .7 3.3 .8 2.7 .7 2.6 .8 3 .8 2.9 .7 2.7 .8 2.8 .8 2.2 .7 2.7 .8 2.6 .7 2.4 .8 2 .8 2.4 .7 1.9 .8 2.4 .7 1.8 .8 1.9 .8 1.6 .7 1.9 .8 1.6 .8 2 .7 1.7 .8 1.9 .7 1.6 .8 1.8 .8 1.6 .7 1.6 .8 1.6 .8 1.3 .7 1.2 .8 1.4 .8 1.5 .7 1.3 .8 1.3 .8 1 .7 1.5 .8 1.3 .8 1.1 .8 1.4 .7 1.1 .8 1.3 .8 1.3 .8 1.3 .7 1 .8 .8 .8 1.4 .8 .8 .8 1.1 .7 1.1 .8 .7 .8 1.1 .8 1.1 .8 .8 .8 .8 .7 .7 .8 .6 .8 .7 .8 .8 .8 .6 .8 .7 .8 .7 .8 .5 .8 .6 .8 .4 .8 .7 .8 .5 .8 .7 .8 .5 .8 .6 .8 .6 .8 .4 .9 .6 .8 .7 .8 .4 .8 .4 .8 .5 .8 .5 .8 .7 .9 .4 .8 .6 .8 .6 .8 .4 .9 .6 .8 .4 .8 .3 .8 .6 .9 .4 .8 .4 .8 .6 .9 .3 .8 .5 .8 .5 .9 .3 .8 .5 .9 .5 .8 .3 .8 .5 .9 .4 .8 .3 .9 .5 .8 .4 .9 .6 .8 .5 .9 .4 .8 .3 .9 .8 .8 .3 .9 .4 .9 .6 .8 .2 .9 .6 .8 .4 .9 .3 .9 .5 .8 .5 .9 .4 .9 .3 .9 .4 .8 .5 .9 .6 .9 .3 .9 .3 .8 .6 .9 .3 .9 .5 .9 .3 .9 .3 .9 .4 .8 .5 .9 .1"/>
<path d="M94.1 612.8l.6-.4 .6-.3 .6-.1 .6-.4 .5-.6 .6-.7 .6-1 .6-1.1 .6-1.2 .5-1.2 .6-1.3 .6-1.4 .5-1.5 .6-1.8 .5-2 .6-2.2 .5-2.4 .5-3.6 .5-3.5 .5-4.1 .5-4.1 .5-4.4 .5-4.1 .5-4.7 .5-4.1 .5-4.6 .5-4.4 .5-3.9 .5-4.4 .3-1.5 .2-2.4 .3-2.6 .3-1.3 .2-3.2 .3-2.2 .2-1.8 .3-2.9 .2-2.1 .3-2.6 .3-1.8 .2-2.4 .3-2.1 .3-1.3 .2-2.9 .3-2.1 .2-2.5 .3-2.4 .2-3.1 .3-2.3 .3-2.7 .2-4.2 .3-1.4 .2-3.6 .2-4.9 .3-.6 .2-4.1 .3-1.4 .3-4 .2-2.2 .3-2.9 .3-1.7 .3-2.5 .3 .3 .3-3.9 .3 .5 .3-2.6 .3-.2 .3-2.6 .3-.4 .4-.8 .3-1.5 .3-.3 .3-1.1 .3-2.6 .3-.1 .4-.5 .3-.5 .3-2.9 .4 1.4 .3-1.8 .3 .4 .4-1.6 .3-1.5 .3-1.6 .3-.4 .3-2.2 .4 2.6 .2-6.1 .4 .9 .3-1 .4 .8 .3-3.3 .4 1.7 .3-1.3 .4-.7 .3-.8 .3-.2 .4 1.6 .4 .3 .3-3.8 .3 .6 .4 .2 .4 .1 .3-.2 .5 3.3 .3-2.6 .3-1.2 .4 1.3 .3-.7 .4 .6 .4 1.4 .4 .7 .3-.6 .3-1.3 .5 3.9 .3-3.1 .4 4.2 .3-4.9 .4 3.6 .4 .2 .4 1.6 .3-1 .5 3.1 .3-1.9 .4 0 .4 3.9 .4 2.4 .4-.9 .4 3.2 .4 .8 .4 .6 .3 .4 .5 4 .3-.7 .4 1.7 .4 2.2 .4 .6 .4 2.2 .4 2.1 .5 3.3 .4 2.2 .3-1 .4 1.1 .4 3.5 .4 1.1 .4-.1 .4 2.5 .4 4.3 .4-.5 .4 2.6 .4 1.1 .4 2.2 .4 2.7 .4-.8 .4 5.7 .4 .5 .4 0 .4 2.8 .4 1.4 .4 2.7 .4 .4 .4 2.8 .4 1.9 .4 1.6 .4-.2 .4 2.4 .3 .9 .4 1.6 .4 1.8 .4 2.1 .4 .3 .4 1.2 .4 2.5 .4 1 .4 1.5 .4 2 .4-.1 .3 1.2 .4 1.8 .4 1.2 .4 1.4 .4 .9 .4 1.6 .4 1.3 .4 2.3 .4 .7 .4 1.7 .4 1.9 .3 .6 .4 2.4 .4 1 .4 .4 .4 1.5 .4 2.5 .4 .3 .4 1.4 .3 1.4 .4 1.6 .4 .9 .4 .9 .4 .8 .4 1.6 .4 1.9 .4 .7 .3 .8 .4 2.1 .4 1.7 .4 .5 .4 2 .8 2.6 .8 2.9 .7 3.1 .8 3 .8 2.7 .8 2.9 .8 2.9 .7 2.7 .8 2.9 .8 2.9 .8 2.2 .7 2.8 .8 2.4 .8 2.2 .8 2.4 .7 2.2 .8 2.1 .8 1.7 .7 1.7 .8 2 .8 1.9 .8 2 .7 2.1 .8 1.6 .8 2.1 .8 1.6 .7 1.5 .8 1.7 .8 1.7 .8 1.2 .7 1.5 .8 1.4 .8 1.7 .8 1 .7 1.5 .8 1.2 .8 1.3 .8 1.4 .8 1.3 .7 1.4 .8 1.4 .8 1.3 .8 1 .8 1.2 .8 1.5 .7 1.1 .8 1 .8 1.1 .8 1.2 .8 .9 .8 1 .8 1 .8 1 .8 .7 .8 1.1 .8 .6 .7 .8 .8 .9 .8 .6 .8 .6 .8 .8 .8 .8 .9 .5 .8 .5 .8 .4 .8 .7 .8 .7 .8 .6 .8 .6 .8 .7 .8 .6 .8 .6 .9 .6 .8 .4 .8 .4 .8 .8 .8 .4 .9 .6 .8 .7 .8 .4 .8 .7 .9 .2 .8 .6 .8 .6 .9 .5 .8 .5 .8 .5 .9 .3 .8 .7 .8 .3 .9 .6 .8 .2 .9 .5 .8 .3 .8 .7 .9 .6 .8 .1 .9 .5 .8 .4 .9 .6 .8 .4 .9 .4 .9 .6 .8 .7 .9 .2 .8 .5 .9 .5 .8 .6 .9 .2 .9 .6 .8 .4 .9 .6 .9 .4 .9 .4 .8 .6 .9 .2 .9 .6 .9 .3 .8 .5 .9 .6 .9 .1 .9 .7 .9 .4 .8 .3 .9 .5 .9 .4 .9 .6 .9 .4 .9 .1 .9 .5 .9 .3"/>
<path d="M81.5 617.4l.6-.5 .6 0 .6-.5 .6-.3 .5-.9 .6-.6 .6-1 .6-1 .5-1.3 .6-1 .5-1.6 .6-1.4 .6-1.5 .5-2 .5-2.1 .6-2.4 .5-2.5 .5-3.4 .5-3.9 .4-4 .5-4.6 .5-4 .5-4.2 .4-4.7 .5-4.6 .4-5 .5-3.6 .5-4.2 .5-5.7 .3-1.5 .2-2.7 .2-1.8 .3-2.1 .2-2.7 .3-2.1 .2-2 .3-1.7 .2-3.3 .2-2.8 .3-2.3 .3-1 .2-3.7 .3-.8 .2-2.7 .3-2.7 .2-2.4 .3-2 .2-3 .2-3.2 .3-3.3 .2-3.8 .2-3.6 .2-2.8 .3-2.3 .2-3.9 .3-2.2 .2-2 .3-1.2 .2-4.7 .3-2.8 .2-2.6 .4-.1 .2-2.6 .4 .1 .2-3.4 .3-1.4 .4-.2 .2-2.6 .3-1.7 .3-1.2 .4 1.1 .3-2.1 .3-2.3 .3 .3 .3-.8 .3-1.2 .3-2.4 .4 .3 .4 .9 .2-4 .2-3.7 .4 1.9 .3-2.1 .4 .3 .3-.2 .4 0 .3-2.9 .3-.4 .3-2.4 .3-.1 .3-1.7 .5 2.8 .2-3.9 .4-.8 .3 .1 .3-1.7 .4 1.6 .4-1.3 .4 3.5 .3-4.1 .3-.1 .4 2.2 .4 1.7 .3-1.7 .4-1.3 .3-2.3 .4 4.1 .3-2.1 .4-.1 .4 .3 .4 1.9 .3-1.6 .5 3.1 .3 1.1 .4-2.3 .4 1.5 .4 2.3 .2-4.5 .4 1.3 .4 1 .5 2.9 .3 .6 .4 2 .4-1.1 .4 1.4 .4 .8 .3-.7 .5 3.9 .4 .9 .4 3 .3-2.5 .4 1.8 .5 5.8 .4 1.3 .3-3.2 .4 1.3 .5 3 .3 .8 .5 4.8 .4 0 .4 .9 .4 2.9 .4 2.6 .4 1 .5 2.6 .3-1 .5 4.2 .4 2.1 .4 3 .4-1.4 .4 3.3 .4 1.2 .4 2.5 .4 1.5 .4 2 .5 2.4 .3 .9 .5 2.9 .4 .9 .4 1.7 .4 1.4 .4 3.1 .4-.9 .4 3.3 .4 2.6 .4 1.9 .4 .2 .4 1.6 .4 .9 .4 3 .4 .4 .4 1.1 .4 1 .4 3.2 .4 .6 .4 1.5 .4 1 .4 1.5 .4 1.2 .4 2 .4 .7 .4 2.5 .4 .6 .3 .3 .5 3.1 .3-.1 .5 1.7 .4 2.4 .4 .9 .4 1.4 .4 2.1 .4 2 .3 .5 .5 1.8 .3 .5 .4 2.4 .4-.4 .4 1.2 .4 2.6 .4 1.9 .4 .2 .4 1.7 .4 1.1 .4 1.9 .4 1.3 .4 .5 .4 2.1 .4 1.7 .4 .4 .8 2.9 .8 3.4 .8 3.3 .8 2.3 .8 3.6 .8 2.7 .8 3.4 .7 2.9 .8 2.5 .8 2.5 .8 3.3 .8 2.6 .8 2.4 .8 2 .8 2.5 .8 2 .7 2 .8 2 .8 1.8 .8 2.5 .8 1.7 .8 2 .7 2.2 .8 1.7 .8 1.8 .8 1.9 .8 1.8 .8 1.4 .7 1.7 .8 1.6 .8 1.4 .8 1.6 .8 1.3 .8 1.4 .8 1.6 .7 1.3 .8 1.3 .8 1.4 .8 1.5 .8 1.3 .8 1.4 .8 1.4 .8 1.3 .8 1.3 .8 1 .8 1.2 .7 1.3 .8 1.1 .8 1.1 .8 1.1 .8 1 .8 .9 .8 1 .8 .8 .8 1 .8 .8 .8 1 .8 .5 .8 .9 .9 .9 .8 .4 .8 .7 .8 .6 .8 .7 .8 .6 .8 .6 .8 .5 .8 .8 .9 .5 .8 .6 .8 .7 .8 .5 .8 .6 .9 .5 .8 .6 .8 .7 .8 .3 .9 .8 .8 .5 .8 .6 .9 .5 .8 .6 .8 .5 .9 .6 .8 .4 .8 .6 .9 .5 .8 .6 .9 .1 .8 .6 .9 .4 .8 .6 .8 .6 .9 .4 .8 .4 .9 .3 .9 .6 .8 .5 .9 .5 .8 .2 .9 .8 .8 .4 .9 .5 .9 .4 .8 .5 .9 .5 .9 .3 .8 .6 .9 .5 .9 .7 .9 .2 .8 .5 .9 .7 .9 .3 .9 .8 .8 .3 .9 .3 .9 .7 .9 .2 .9 .4 .9 .7 .9 .3 .8 .3 .9 .3 .9 .7 .9 .3 .9 .6 .9 .4 .9 .3 .9 .4 .9 .4"/>
<path d="M68.5 621.9l.6-.5 .6-.1 .6-.4 .5-.3 .6-.7 .6-.9 .6-1 .5-.9 .6-1.3 .5-1.3 .6-1.4 .5-1.5 .6-1.6 .5-2 .5-2.3 .6-2.1 .5-2.7 .4-3.9 .5-3.5 .4-4.5 .5-4.3 .4-4.4 .5-4.5 .4-4.9 .4-4.5 .5-4.5 .4-5.6 .5-3.9 .4-4.7 .3-1.6 .2-2.5 .3-2.4 .2-3 .2-1.6 .2-2.9 .3-2 .2-2.2 .2-3.1 .3-2.2 .2-1.7 .2-3.3 .3-1.3 .2-3.3 .3-2 .1-3.8 .3-1.4 .2-3.7 .3-1.8 .2-2.4 .2-4.2 .3-1.9 .1-3.7 .2-4.2 .2-4.5 .2-2.4 .3-.8 .3-2.2 .2-4.8 .3-.8 .2-2.8 .3-2.7 .2-1.7 .3-2 .3-2.2 .2-2.8 .4 .3 .2-2.1 .3-1.7 .3-1.3 .3-.4 .4-.4 .3-1.9 .3 .6 .3-2.8 .2-2.7 .4-.3 .4 3.3 .2-5.5 .3-1 .4 .1 .2-2.4 .4-.9 .3 0 .3-.9 .4 .3 .2-4 .5 3.4 .2-4.6 .3-.2 .3-1.7 .4-.4 .3-1.4 .3 .5 .4-.3 .2-4.1 .5 2.5 .2-2.7 .4 .5 .4 .6 .3-.4 .4 .4 .3-1.7 .4 1.5 .4 .4 .3-1.6 .4 1.1 .3-.7 .5 1.8 .3-.6 .3-1.3 .4 .2 .5 3.3 .3-1.2 .4 1.7 .3-2.4 .4 2.9 .5 1.6 .3-.4 .4 .6 .2-4.3 .5 5.1 .4-1 .4 3 .4-.6 .4-.1 .4 1.7 .4 .7 .4 1.9 .4 2.9 .4 .4 .4 1.9 .5 2.3 .3-1.9 .5 5.5 .4 1.9 .4 .6 .4-.3 .4 3.4 .4 .9 .5 2.9 .3-.5 .5 2.9 .4 2.1 .4 .4 .5 4.4 .3-.5 .5 2.5 .5 4 .4 .9 .4 1.2 .4 3.4 .4 1.6 .4-.2 .4 .8 .4 2.9 .5 2.8 .4 2.4 .4 2.8 .4 .4 .5 2.8 .4 1.4 .4 1.7 .4 1.1 .4 1.9 .5 3.7 .3 .4 .4 .4 .4 1.3 .5 1.9 .4 1.3 .4 2.9 .4 .7 .4 1.4 .4 .9 .4 1.9 .4 1.9 .4 .5 .4 2 .4 1.2 .5 2.8 .3 .4 .4 1.3 .4 .9 .5 2.3 .4 2.4 .4 1.3 .4 .2 .4 1.5 .4 2.1 .4 1.8 .4 .5 .4 2.2 .4 1.2 .4 2.1 .5 1.9 .3 .1 .4 .6 .4 2.3 .5 1.8 .3 .2 .5 2.3 .4 1.8 .4 .7 .4 1 .4 1.8 .4 1.1 .4 1.4 .4 1.4 .4 .9 .8 3.6 .8 3 .8 2.9 .8 3.8 .9 2.8 .8 3.4 .8 2.8 .8 3.1 .8 2.7 .8 2.9 .8 3.2 .8 2.8 .8 2.6 .8 2.4 .8 2.2 .8 2.1 .8 2.3 .8 1.5 .8 2.2 .8 1.9 .8 2.3 .8 2 .8 2.1 .8 1.8 .8 2 .8 2 .8 1.7 .8 1.5 .8 1.7 .8 1.8 .8 1.8 .7 1.6 .8 1.1 .8 1.5 .8 1.4 .8 1.4 .8 1.4 .8 1.6 .8 1.4 .8 1.2 .8 1.4 .8 1.6 .8 1.3 .8 1.3 .8 1.3 .8 1.2 .8 1.2 .8 1 .8 1.3 .8 1 .8 1.2 .8 .9 .8 1.1 .9 1 .8 .9 .8 1 .8 .8 .8 .7 .8 .7 .8 .7 .8 .8 .8 .6 .9 .6 .8 .5 .8 .9 .8 .6 .8 .6 .9 .7 .8 .7 .8 .5 .8 .7 .9 .6 .8 .6 .8 .4 .8 .9 .9 .5 .8 .5 .8 .6 .9 .4 .8 .6 .8 .8 .9 .4 .8 .5 .9 .6 .8 .7 .9 .5 .8 .5 .8 .4 .9 .7 .8 .3 .9 .6 .8 .3 .9 .5 .9 .5 .8 .4 .9 .5 .8 .5 .9 .4 .9 .7 .8 .5 .9 .5 .9 .3 .8 .7 .9 .4 .9 .5 .8 .5 .9 .6 .9 .5 .9 .4 .8 .6 .9 .6 .9 .4 .9 .6 .9 .3 .8 .5 .9 .5 .9 .4 .9 .4 .9 .7 .9 .3 .9 .6 .9 .4 .9 .5 .9 .4 .9 .6 .9 .3 .9 .6 .9 .1 .9 .6 .9 .4 .9 .6"/>
<path d="M55.1 626.7l.5-.7 .6-.1 .6-.2 .6-.6 .6-.6 .6-.8 .5-1.1 .6-1.1 .5-1.3 .6-1.1 .5-1.6 .5-1.7 .6-1.5 .5-2.5 .5-2 .5-2.3 .5-2.7 .4-3.6 .5-4.2 .4-4.5 .4-4.1 .4-4.5 .4-5.2 .4-4.3 .4-5.8 .5-4.2 .4-4.4 .4-4.8 .4-5.6 .2-1.9 .3-1.9 .2-3.3 .2-2.1 .2-2 .2-2.2 .3-2.2 .2-3.2 .2-2.7 .2-3 .2-2.6 .2-2.2 .3-1 .2-2.9 .2-3.1 .2-2 .2-2.8 .3-2.4 .2-3.1 .1-3.9 .2-3.2 .3-2.2 .1-4.4 .2-2.9 .3-2.7 .1-5.3 .2-2 .1-5.2 .3-1.2 .3-2.5 .2-1.5 .3-2.1 .2-3.8 .3-.5 .2-3.9 .3-1 .3-1.5 .3-.5 .3 0 .2-3.8 .4 1 .3-1.9 .2-2.1 .4 .2 .3-1 .4-.1 .1-4.2 .3-1.9 .5 2.2 .2-3.8 .2-2.1 .3-.9 .4-.1 .4 1.3 .3 0 .3-2.1 .3-2.7 .2-2.3 .3-1.1 .4 .8 .3-2 .4 .2 .4 1.1 .2-2.4 .3-3 .3 0 .4 .7 .4-.2 .2-3.9 .4 2.6 .4 1 .5 1.5 .3-1.3 .3-1.7 .4 1.4 .3-1.6 .4 1.6 .2-4.9 .5 5 .3-1.9 .5 2.8 .3-1.4 .3-.6 .5 1.3 .4 3.3 .2-4.5 .5 1.5 .4 2.9 .4-.2 .3-1 .5 3 .3-1.3 .5 3.8 .3-1.1 .4 0 .5 3 .4 .4 .4 1 .3-.1 .5 1.7 .4 2.9 .4 1.4 .5 2.3 .4 1.6 .4 1.7 .5 1.8 .3-.2 .5 3.1 .5 2.5 .4 1.7 .4 .9 .4 1.1 .5 3.1 .4 2.5 .4 .5 .4 1.1 .5 4.2 .4 1.4 .5 3.5 .3-2.6 .5 5.6 .5 2.1 .4 .4 .4 2.6 .4 .9 .5 3.5 .4 1.1 .4 1.9 .4 1.6 .4 .8 .5 3.6 .5 2.5 .4 .7 .4 2.8 .4 .4 .4 2.2 .5 1.7 .4 2.9 .4 1.6 .4 .8 .4 1.1 .5 3 .4 .3 .4 1 .4 2.1 .4 .4 .4 2 .4 .6 .5 3 .4 .8 .4 3.5 .4 .3 .4 .5 .4 2.3 .5 1.6 .4 2 .4-.2 .4 1.8 .4 2.3 .4 1.3 .4 1.7 .5 2.2 .4 .6 .4 1.9 .4 1.6 .4 .5 .4 1.9 .5 1.9 .3 .7 .5 1.7 .4 1.2 .4 1.5 .4 1.2 .4 1.4 .4 1.9 .4 .2 .4 2.2 .5 2.6 .4 .1 .4 2.4 .8 2.5 .8 2.8 .9 4 .8 3.2 .9 2.9 .8 3.3 .8 3.1 .8 3.3 .9 3 .8 3.5 .8 2.6 .8 2.7 .9 2.5 .8 2.5 .8 2.8 .8 2.1 .8 2.5 .8 1.8 .8 1.8 .8 2.3 .8 2.3 .9 1.9 .8 2.1 .8 2.3 .8 1.9 .8 1.8 .8 1.7 .8 2 .8 1.7 .8 1.7 .8 1.5 .8 1.6 .8 1.2 .8 1.7 .8 1.9 .8 .9 .8 1.6 .8 1.6 .9 1.4 .8 1.6 .8 1.5 .8 1.4 .8 1.3 .8 1.3 .8 1.1 .8 1.5 .8 1.1 .8 1.2 .9 1.3 .8 1.2 .8 1.1 .8 .8 .8 1.4 .8 .8 .8 1.1 .8 .5 .9 1.3 .8 .8 .8 .7 .8 .8 .8 .5 .8 .7 .9 .7 .8 .5 .8 1 .8 .6 .9 .7 .8 .7 .8 .5 .9 .5 .8 1 .8 .3 .8 .8 .9 .7 .8 .7 .9 .4 .8 .6 .8 .7 .9 .6 .8 .6 .9 .6 .8 .5 .8 .8 .9 .3 .8 .5 .9 .6 .8 .7 .9 .4 .9 .5 .8 .4 .9 .5 .8 .5 .9 .6 .8 .4 .9 .5 .9 .5 .8 .7 .9 .3 .9 .5 .8 .7 .9 .2 .9 .7 .9 .5 .8 .5 .9 .6 .9 .5 .9 .4 .8 .7 .9 .6 .9 .3 .9 .6 .9 .6 .9 .3 .9 .8 .9 .4 .8 .4 .9 .6 .9 .4 .9 .6 .9 .6 .9 .3 .9 .4 .9 .5 .9 .5 1 .5 .9 .3 .9 .6 .9 .4 .9 .4 .9 .6 .9 .2"/>
<path d="M41.2 631.3l.6-.4 .6-.4 .6-.2 .6-.3 .5-.8 .6-.9 .5-1.2 .6-.8 .5-1.6 .5-1.2 .6-1.6 .5-1.6 .5-2 .5-2 .5-2.5 .5-2.5 .4-2.7 .5-3.4 .4-4.6 .3-4.5 .4-4.8 .4-4.5 .4-4.9 .3-5.4 .4-5 .4-4.7 .4-5.3 .4-4.5 .4-5.2 .2-2.8 .2-1.9 .2-2.2 .2-3.1 .2-2.3 .1-3.5 .3-1.7 .2-2.3 .2-2.3 .2-2 .2-3.4 .2-3 .2-2 .2-3.3 .2-2.8 .2-2.5 .2-1.8 .2-2.7 .1-4.1 .3-2.3 .1-3.6 .2-3.9 .1-5.3 .2-1 .1-5.9 .2-2.9 .2-3.8 .2-2 .1-4.7 .3-1.3 .3-1 .2-1.8 .2-3.8 .2-2.5 .3-1.6 .2-2.4 .3-1.7 .5 2.8 .1-4.3 .3-1.3 .3-2 .3 .5 .2-3.6 .4 .2 .2-2.9 .4 1.3 .3-1.8 .3 .4 .3-1.7 .3-2 .3-.8 .3-2.3 .2-1.2 .4-.5 .3-1.1 .4 .5 .2-2 .3-1.4 .4-.5 .2-3.5 .3-.9 .4 .9 .3-1.5 .3-1.3 .3-.7 .2-2.6 .5 2.3 .4 .3 .2-1.8 .4-.7 .3-1.2 .5 3.3 .3-1.3 .3-.8 .4 0 .5 2.7 .2-3 .3-1.6 .4 1.5 .4 1.4 .5 1.6 .3 .2 .4-1.3 .4 1.5 .4 .3 .4 1.7 .2-2.9 .4-.2 .5 2 .3-.4 .4 1.6 .3-1.5 .6 3.7 .4 .8 .4 2.9 .4-.6 .4 1.9 .5 1.5 .3-1.5 .4 2.6 .4 1.1 .5 2.5 .5 3.3 .4 .3 .4 .3 .5 4.2 .4 .8 .4 1.6 .4 .4 .5 3.1 .4 .9 .5 2.1 .5 3.1 .4 1.4 .5 3.7 .4 1.2 .4 .9 .5 2.2 .4 2.1 .5 2.4 .4 1.2 .4 2.2 .5 2.6 .5 3.8 .3-2.5 .5 2.8 .5 5 .4-.1 .5 3.7 .4 .6 .5 3.9 .4 1.2 .5 2.2 .4 .9 .4 1.6 .4 2.4 .5 3.7 .4-.2 .5 2.5 .3-.4 .5 3.1 .5 2.8 .4 .1 .4 2.4 .4 .3 .5 2.7 .3 .4 .5 3 .4-.3 .4 2.4 .4 1.1 .5 2.2 .4 .1 .4 3.1 .5 1 .4 2.1 .4 .8 .5 3.1 .4 1.7 .4 .4 .4 2.3 .5 1.6 .4 .8 .4 1.8 .5 2.8 .3 .2 .5 1.8 .4 1.7 .4 .6 .4 1.5 .4 1.1 .5 2.3 .4 1.6 .4-.1 .4 2.2 .4 1.6 .5 2.1 .4 1.4 .4 1 .5 3.1 .8 2.6 .9 2.7 .8 4.2 .9 2.6 .8 3.7 .9 3.7 .8 2.7 .9 3.2 .8 3.3 .9 2.9 .8 3.6 .9 2.7 .8 2.5 .8 2.6 .8 2.5 .9 1.8 .8 3 .8 2.3 .8 1.9 .9 2.3 .8 2 .8 2.4 .8 1.8 .9 2.6 .8 2 .8 1.8 .8 2 .8 1.8 .8 1.7 .9 1.7 .8 2 .8 1.3 .8 1.7 .8 1.5 .8 1.7 .8 1.4 .9 1.5 .8 1.6 .8 1.5 .8 1.6 .8 1.5 .8 1.4 .9 1.6 .8 1.4 .8 1.3 .8 1.2 .8 1.1 .9 1.3 .8 1.4 .8 1.3 .8 1 .8 1.3 .9 1.1 .8 1.1 .8 .7 .8 .9 .8 1.1 .9 .7 .8 .8 .8 .7 .8 .7 .9 1 .8 .6 .8 .9 .8 .5 .9 .7 .8 .7 .8 .8 .9 .6 .8 .4 .8 1 .9 .5 .8 .6 .9 .7 .8 .7 .8 .5 .9 .6 .8 .7 .9 .6 .8 .7 .9 .5 .8 .7 .9 .5 .8 .9 .9 .3 .8 .6 .9 .4 .9 .6 .8 .7 .9 .5 .8 .5 .9 .6 .9 .4 .8 .4 .9 .6 .9 .6 .8 .4 .9 .6 .9 .4 .9 .5 .8 .5 .9 .6 .9 .7 .9 .8 .9 .2 .8 .6 .9 .5 .9 .5 .9 .6 .9 .5 .9 .5 .9 .7 .9 .7 .9 .3 .9 .5 .9 .6 .9 .3 .9 .7 .9 .5 .9 .4 .9 .4 .9 .8 .9 .3 .9 .7 .9 .2 .9 .6 1 .5 .9 .3 .9 .3 .9 .9 .9 .3"/>
<path d="M157 672.7L157.3 662.1L157.6 673.2"/>
</g>
<line x1="266.8" y1="395.8" x2="266.8" y2="487.6" stroke="#aaa" stroke-width="0.9"/>
<line x1="266.8" y1="487.6" x2="384.6" y2="487.6" stroke="#aaa" stroke-width="0.9"/>
<line x1="272.82" y1="487.6" x2="272.82" y2="489.4" stroke="#555" stroke-width="0.8"/>
<line x1="280.35" y1="487.6" x2="280.35" y2="488.8" stroke="#555" stroke-width="0.8"/>
<line x1="287.88" y1="487.6" x2="287.88" y2="489.4" stroke="#555" stroke-width="0.8"/>
<line x1="295.41" y1="487.6" x2="295.41" y2="488.8" stroke="#555" stroke-width="0.8"/>
<line x1="302.94" y1="487.6" x2="302.94" y2="489.4" stroke="#555" stroke-width="0.8"/>
<line x1="310.47" y1="487.6" x2="310.47" y2="488.8" stroke="#555" stroke-width="0.8"/>
<line x1="318" y1="487.6" x2="318" y2="489.4" stroke="#555" stroke-width="0.8"/>
<line x1="325.53" y1="487.6" x2="325.53" y2="488.8" stroke="#555" stroke-width="0.8"/>
<line x1="333.06" y1="487.6" x2="333.06" y2="489.4" stroke="#555" stroke-width="0.8"/>
<line x1="340.59" y1="487.6" x2="340.59" y2="488.8" stroke="#555" stroke-width="0.8"/>
<line x1="348.12" y1="487.6" x2="348.12" y2="489.4" stroke="#555" stroke-width="0.8"/>
<line x1="355.65" y1="487.6" x2="355.65" y2="488.8" stroke="#555" stroke-width="0.8"/>
<line x1="363.18" y1="487.6" x2="363.18" y2="489.4" stroke="#555" stroke-width="0.8"/>
<line x1="370.71" y1="487.6" x2="370.71" y2="488.8" stroke="#555" stroke-width="0.8"/>
<line x1="378.24" y1="487.6" x2="378.24" y2="489.4" stroke="#555" stroke-width="0.8"/>
<line x1="266.8" y1="479.3" x2="265.5" y2="479.3" stroke="#777" stroke-width="0.8"/>
<line x1="266.8" y1="462.3" x2="265.5" y2="462.3" stroke="#777" stroke-width="0.8"/>
<line x1="266.8" y1="445.3" x2="265.5" y2="445.3" stroke="#777" stroke-width="0.8"/>
<line x1="266.8" y1="428.3" x2="265.5" y2="428.3" stroke="#777" stroke-width="0.8"/>
<line x1="266.8" y1="411.3" x2="265.5" y2="411.3" stroke="#777" stroke-width="0.8"/>
<text x="272.82" y="498.3" font-size="9.6" text-anchor="middle">48</text>
<text x="287.88" y="498.3" font-size="9.6" text-anchor="middle">50</text>
<text x="302.94" y="498.3" font-size="9.6" text-anchor="middle">52</text>
<text x="318" y="498.3" font-size="9.6" text-anchor="middle">54</text>
<text x="333.06" y="498.3" font-size="9.6" text-anchor="middle">56</text>
<text x="348.12" y="498.3" font-size="9.6" text-anchor="middle">58</text>
<text x="363.18" y="498.3" font-size="9.6" text-anchor="middle">60</text>
<text x="378.24" y="498.3" font-size="9.6" text-anchor="middle">62</text>
<polyline points="274.6,407.7 281.7,416.2 289.2,422.3 296.4,428.4 303.8,433.9 311.2,446.3 318.4,437.2 325.9,431.4 333,434.7 340.5,438.6 347.9,445.2 355.4,447.4 362.5,459 370,462 377.4,474.4" fill="none" stroke="#666" stroke-width="0.55"/>
<rect x="273" y="406.1" width="3.2" height="3.2" fill="#000"/>
<rect x="280.1" y="414.6" width="3.2" height="3.2" fill="#000"/>
<rect x="287.6" y="420.7" width="3.2" height="3.2" fill="#000"/>
<rect x="294.8" y="426.8" width="3.2" height="3.2" fill="#000"/>
<rect x="302.2" y="432.3" width="3.2" height="3.2" fill="#000"/>
<rect x="309.6" y="444.7" width="3.2" height="3.2" fill="#000"/>
<rect x="316.8" y="435.6" width="3.2" height="3.2" fill="#000"/>
<rect x="324.3" y="429.8" width="3.2" height="3.2" fill="#000"/>
<rect x="331.4" y="433.1" width="3.2" height="3.2" fill="#000"/>
<rect x="338.9" y="437" width="3.2" height="3.2" fill="#000"/>
<rect x="346.3" y="443.6" width="3.2" height="3.2" fill="#000"/>
<rect x="353.8" y="445.8" width="3.2" height="3.2" fill="#000"/>
<rect x="360.9" y="457.4" width="3.2" height="3.2" fill="#000"/>
<rect x="368.4" y="460.4" width="3.2" height="3.2" fill="#000"/>
<rect x="375.8" y="472.8" width="3.2" height="3.2" fill="#000"/>
<text x="326.1" y="507.1" font-size="9.6" text-anchor="middle">Temperature (<tspan font-size="6" dy="-4">o</tspan><tspan dy="4">C)</tspan></text>
<text x="262.3" y="425.9" font-size="9.6" text-anchor="middle" transform="rotate(-90 262.3 425.9)">Intensity (a.u.)</text>
</g>
<g id="pd">
<line x1="427.17" y1="410.64" x2="598.48" y2="391.34" stroke="#000" stroke-width="1.2"/>
<line x1="598.48" y1="391.34" x2="788.57" y2="407.9" stroke="#000" stroke-width="1.2"/>
<line x1="441.03" y1="652.04" x2="427.17" y2="410.64" stroke="#000" stroke-width="1.3"/>
<line x1="598.36" y1="589.76" x2="598.48" y2="391.34" stroke="#555" stroke-width="1.4"/>
<line x1="773.43" y1="641.31" x2="788.57" y2="407.9" stroke="#000" stroke-width="1.1"/>
<line x1="441.03" y1="652.04" x2="598.36" y2="589.76" stroke="#000" stroke-width="1.0"/>
<line x1="598.36" y1="589.76" x2="773.43" y2="641.31" stroke="#000" stroke-width="1.0"/>
<line x1="441.03" y1="652.04" x2="627.83" y2="732.4" stroke="#000" stroke-width="1.5"/>
<line x1="627.83" y1="732.4" x2="773.43" y2="641.31" stroke="#000" stroke-width="1.5"/>
<line x1="428.14" y1="427.4" x2="422.19" y2="428.19" stroke="#000" stroke-width="1.1"/>
<line x1="430.5" y1="468.6" x2="427.06" y2="469.22" stroke="#000" stroke-width="1.1"/>
<line x1="432.76" y1="508" x2="426.91" y2="509.32" stroke="#000" stroke-width="1.1"/>
<line x1="434.97" y1="546.4" x2="431.59" y2="547.31" stroke="#000" stroke-width="1.1"/>
<line x1="437.09" y1="583.4" x2="431.37" y2="585.2" stroke="#000" stroke-width="1.1"/>
<line x1="439.16" y1="619.4" x2="435.86" y2="620.58" stroke="#000" stroke-width="1.1"/>
<line x1="441.03" y1="652.04" x2="435.46" y2="654.24" stroke="#000" stroke-width="1.1"/>
<line x1="456.47" y1="658.68" x2="453.23" y2="660.01" stroke="#000" stroke-width="1.1"/>
<line x1="472.51" y1="665.58" x2="466.99" y2="667.94" stroke="#000" stroke-width="1.1"/>
<line x1="489.2" y1="672.76" x2="486" y2="674.18" stroke="#000" stroke-width="1.1"/>
<line x1="506.57" y1="680.23" x2="501.13" y2="682.76" stroke="#000" stroke-width="1.1"/>
<line x1="524.66" y1="688.02" x2="521.52" y2="689.54" stroke="#000" stroke-width="1.1"/>
<line x1="543.53" y1="696.14" x2="538.18" y2="698.85" stroke="#000" stroke-width="1.1"/>
<line x1="563.23" y1="704.61" x2="560.14" y2="706.25" stroke="#000" stroke-width="1.1"/>
<line x1="583.8" y1="713.46" x2="578.57" y2="716.39" stroke="#000" stroke-width="1.1"/>
<line x1="605.31" y1="722.71" x2="602.3" y2="724.5" stroke="#000" stroke-width="1.1"/>
<line x1="627.83" y1="732.4" x2="622.74" y2="735.58" stroke="#000" stroke-width="1.1"/>
<line x1="629.07" y1="731.62" x2="634.58" y2="733.99" stroke="#000" stroke-width="1.1"/>
<line x1="641.23" y1="724.01" x2="644.47" y2="725.36" stroke="#000" stroke-width="1.1"/>
<line x1="652.96" y1="716.68" x2="658.53" y2="718.92" stroke="#000" stroke-width="1.1"/>
<line x1="664.29" y1="709.59" x2="667.54" y2="710.87" stroke="#000" stroke-width="1.1"/>
<line x1="675.22" y1="702.75" x2="680.82" y2="704.89" stroke="#000" stroke-width="1.1"/>
<line x1="685.78" y1="696.15" x2="689.06" y2="697.37" stroke="#000" stroke-width="1.1"/>
<line x1="695.99" y1="689.76" x2="701.63" y2="691.8" stroke="#000" stroke-width="1.1"/>
<line x1="705.86" y1="683.58" x2="709.16" y2="684.75" stroke="#000" stroke-width="1.1"/>
<line x1="715.42" y1="677.6" x2="721.09" y2="679.56" stroke="#000" stroke-width="1.1"/>
<line x1="724.67" y1="671.81" x2="727.99" y2="672.93" stroke="#000" stroke-width="1.1"/>
<line x1="733.64" y1="666.21" x2="739.34" y2="668.08" stroke="#000" stroke-width="1.1"/>
<line x1="742.32" y1="660.77" x2="745.66" y2="661.84" stroke="#000" stroke-width="1.1"/>
<line x1="750.75" y1="655.5" x2="756.48" y2="657.29" stroke="#000" stroke-width="1.1"/>
<line x1="758.93" y1="650.38" x2="762.27" y2="651.41" stroke="#000" stroke-width="1.1"/>
<line x1="766.86" y1="645.42" x2="772.61" y2="647.14" stroke="#000" stroke-width="1.1"/>
<text x="425.4" y="666.7" font-size="13" text-anchor="middle">400</text>
<text x="457.9" y="680.5" font-size="13" text-anchor="middle">450</text>
<text x="492.9" y="695.7" font-size="13" text-anchor="middle">500</text>
<text x="531" y="712.2" font-size="13" text-anchor="middle">550</text>
<text x="571.5" y="730.1" font-size="13" text-anchor="middle">600</text>
<text x="617" y="750.2" font-size="13" text-anchor="middle">650</text>
<text x="644.4" y="744.4" font-size="13" text-anchor="middle">40</text>
<text x="668.4" y="728" font-size="13" text-anchor="middle">42</text>
<text x="690.1" y="714.4" font-size="13" text-anchor="middle">44</text>
<text x="711" y="701.3" font-size="13" text-anchor="middle">46</text>
<text x="730.6" y="689.6" font-size="13" text-anchor="middle">48</text>
<text x="748.9" y="677.6" font-size="13" text-anchor="middle">50</text>
<text x="765.9" y="666.6" font-size="13" text-anchor="middle">52</text>
<text x="781.6" y="656.7" font-size="13" text-anchor="middle">54</text>
<text x="493.7" y="718" font-size="13.5" text-anchor="middle" transform="rotate(25.5 493.7 718)">Wavelength (nm)</text>
<text x="732.6" y="714.2" font-size="13.5" text-anchor="middle" transform="rotate(-33.3 732.6 714.2)">Temperature (<tspan font-size="8.5" dy="-5.5">o</tspan><tspan dy="5.5">C)</tspan></text>
<text x="418.3" y="547.3" font-size="13.5" text-anchor="middle" transform="rotate(-93.25 418.3 547.3)">Intensity (a.u.)</text>
<text x="431.5" y="429.2" font-size="19" text-anchor="start">(d)</text>
<g fill="none" stroke="#ee0610" stroke-width="1.3">
<path d="M591 583l.6 .1 .6-1.3 .6 0 .5-1.2 .6-.8 .6-.9 .6-1.1 .6-1.6 .7-2 .6-1.5 .6-1.5 .6-2 .6-2.4 .6-2.4 .6-1.4 .6-3 .6-3 .7-1.5 .6-2 .6-3.8 .6-2.4 .7-2.4 .6-2.9 .6-3.4 .7-3.3 .6-2.4 .6-4 .7-2.2 .6-4.5 .7-3.2 .6-4.4 .4-2.1 .3-2.5 .3-1.4 .3-.2 .4-2.9 .3-2.8 .3 .2 .4-2.7 .3-3.2 .3-.5 .4-.9 .3-3.2 .3-.9 .4-2.8 .3-.7 .4-2.6 .3-1.3 .3-1 .4-2.8 .3-5.7 .4 .6 .3-4.3 .3 2.7 .4-3.3 .3-2 .4-.2 .3-2.3 .3-2.5 .4-3.4 .3 1.1 .4 .5 .3-4.3 .4-3.3 .3 2.1 .3-1.7 .4-1.7 .3 .3 .4-1.7 .3-3.2 .4-2.9 .3-1.1 .4 .2 .3-2.2 .4-3.8 .3 .2 .4-.2 .4-3.9 .4-4.7 .2 5.1 .4-.1 .3-2.3 .4 .9 .3-1.9 .4-2.1 .3-.9 .4-.7 .3-1.1 .4 1.1 .4-4.8 .3 .6 .4-.6 .3-2.5 .4 1 .3-2.2 .4-5.2 .3 6.8 .4-.1 .3-1.5 .4-2.3 .3 4.2 .4-4.6 .3-.3 .4-.4 .3 1.5 .4-1.6 .3-.6 .4-.3 .3 2.4 .4-3.6 .3 3 .4-4.1 .3 5.8 .4-4.2 .3 1.1 .4-2.3 .3 2.4 .5-5.8 .2 5.3 .4-3.2 .4 2.2 .3 .4 .4-2.9 .3 2.6 .3 3.3 .4-1.7 .3 1.9 .4-2.1 .3 1.7 .3 4.4 .4-1.4 .4-1.3 .3-1.1 .4 .4 .2 6.1 .5-3.7 .3 2 .3 .5 .4 .2 .3 1.7 .3 1.3 .3 3.8 .5-6.9 .3 4.7 .3 0 .4-3.2 .3 2.8 .4 1.8 .3 1.9 .3 3.2 .3 .2 .4 .3 .4-1 .3 2.1 .3 .9 .4 1.4 .3 1.6 .3 .8 .3 5.8 .3 .6 .4 .9 .3-1.3 .4-.1 .3 1.7 .4 .6 .3 2.3 .3 .5 .3 4.1 .4-2.1 .3 3.8 .3 .2 .4 1.3 .3 .4 .3 3.1 .4 1.3 .4-2.8 .2 5.2 .4-2.5 .3 2.8 .4 1.7 .3 .8 .4-.6 .3 3.2 .3 1.1 .4 .1 .2 3.8 .4-.3 .3 1.2 .3 2.5 .4-1.2 .3 3.7 .3 .8 .4 .4 .3 2.3 .3 1.1 .3 2.8 .4-1.2 .4 .4 .3 2.6 .3 2.4 .3 .2 .4 1.9 .2 2.6 .4 1.1 .3 .4 .4 1.9 .3 2.1 .3 .6 .4 .2 .3 2.4 .3 1.5 .3 .7 .3 3.4 .4-1 .4 .1 .2 2.9 .3 2.8 .4-.5 .3 1.5 .3 2.6 .4 .6 .3 0 .4 .8 .3 2 .3 1.4 .4 .6 .3 2.4 .3 .9 .4 1 .6 2.3 .7 2.3 .7 1.8 .7 1.4 .6 2.5 .7 1.1 .7 1.7 .7 1.7 .7 1.1 .6 3 .7 .9 .7 3 .6 2.8 .7 1 .7 2.1 .7 .7 .7 3 .7 .9 .6 2.9 .8 .1 .7 2.2 .7-.1 .7 1.6 .7 1.6 .7 .9 .7 2.2 .7 .8 .7 1.5 .7 .8 .7 2.2 .8-.4 .6 2.2 .7 1.4 .8-.2 .7 1 .7 1.8 .6 3 .8-.4 .7 1.5 .7 1.1 .8 1.4 .7 .5 .7 1.3 .8 .4 .6 1.9 .8 .2 .7 1.2 .8 .6 .6 2.3 .8 .5 .7 1 .8 .8 .7 1.1 .7 1.3 .7 .8 .8 .6 .7 1.3 .8 .6 .7 1.6 .7 .1 .8 .1 .8 .8 .7 1.3 .7 .9 .8 .3 .7 .9 .8 1.1 .8-.1 .7 .9 .8 .5 .8 0 .7 2 .8 0 .7 .9 .8 .3 .8 .6 .7 1.4 .7 1.1 .8 .5 .8 .5 .8-.5 .7 2.1 .8-.3 .8 1.2 .7 .7 .9-.2 .7 .9 .8 .1 .8 .9 .8-.2 .8 .2 .8 1.4 .8-.1 .7 .9 .8 .8 .8 .6 .9-1.3 .7 1.4 .8 1 .9-.3 .8 .5 .7 .7 .9 .2 .7 .7 .8 .6 .9-.1 .8-.2 .8 .9 .8 .5 .8 .4 .8 .4 .9 0 .8 .3 .8 1.5 .8 .6 .8-.1 .9-.4 .8 .3 .8 1 .8 .1"/>
<path d="M582 583.9l.6-1.2 .6-.9 .6-1 .6-.5 .6-1.7 .6-2.3 .6-2.2 .6-1.5 .6-1.7 .6-3.3 .6-1.6 .6-2.5 .6-1.7 .6-2.5 .6-2.6 .6-2.7 .7-1.9 .6-3.2 .6-1.7 .6-4.5 .6-2.3 .6-4.9 .7-2.8 .6-3.6 .6-3.6 .7-3.5 .6-3 .6-3.8 .7-3.9 .6-3.1 .7-3.6 .3-2.9 .3-3 .3-.4 .4-.8 .3-1 .3-1.8 .4-2.8 .3-3.2 .3-1.1 .3-1 .4-2.9 .3-1.7 .3-2.7 .4-1.7 .3-1.4 .3-.7 .4-1.8 .3-2.8 .3-1.4 .4-3.7 .3-1.5 .3 1.5 .4-4.7 .3 1.7 .4-2.8 .3-2.2 .3 1 .4-3 .3-1.1 .4-3.1 .3 .1 .3-1 .4-3.7 .3-1.1 .4-2.2 .3 0 .3 0 .4-5 .4-.2 .3-4.6 .3 2.6 .4 1.6 .3-3.3 .4-2.5 .3 2.5 .4-2.2 .3-2.8 .4-.2 .3-2.5 .4 .8 .3-5.8 .4 4 .3-2.2 .3 1.1 .4-2.6 .4-1 .3 1 .3 .3 .4-6.6 .3 4.1 .4-.6 .3 1.6 .4-6.6 .3 5.3 .4-2.3 .4-.5 .3-2.6 .3 4.1 .4-3.2 .4-.1 .3 1.2 .3 1.1 .4 .3 .3-2.3 .4 .6 .4-1.9 .3-1.8 .4 1.5 .3-.6 .3 3.5 .4 2.1 .4-4 .3-1.3 .3 2.8 .4 1.9 .3-1.4 .4-.4 .4-1.3 .3 2.8 .3-1 .4 1.6 .3 5.1 .4-6.9 .3 3.9 .4-4.5 .4 .7 .3 5 .3 .3 .4-1.2 .3 1.8 .4-2 .3 .6 .3 7 .3 2.1 .5-5.2 .3-.4 .3 4.5 .3 1.7 .4-.6 .3 2.6 .3 4.7 .4-.3 .3-1 .4-2 .3 3.9 .4 .2 .3 3.6 .4-3.2 .3 6.5 .4-3.6 .3 2 .3 1.4 .4 1.4 .3 1.2 .3 1.9 .4-.1 .4-2 .3 4.5 .2 4.9 .4-.9 .4-.9 .3 1.7 .4 1.3 .3 2.1 .3 1.5 .3 1.7 .4 2.2 .4-2 .3 1 .4-1.4 .3 3.6 .3 2.6 .4-.6 .3 1.5 .3 4.6 .4-1.1 .3 .7 .3 3.6 .3 .7 .4 1.2 .4-.5 .3 3.4 .3-.1 .3 4 .4-2 .3 1.5 .4 .7 .3 3.3 .3 2 .3 2.9 .4-1.6 .3 .9 .3 2.9 .4 1.5 .3 2.3 .4-1.4 .3 3.5 .3 0 .3 4.3 .4-1.1 .3 1.3 .4 .5 .3 .8 .3 3.4 .3 1.4 .4-.1 .4 .8 .2 4.1 .4 .4 .4-1.2 .3 3.4 .3 1 .3 1.3 .4 .5 .3 1.3 .3 1.9 .4-.7 .3 1.6 .4 2.3 .3 1.5 .3 1.8 .4 .1 .3 2.7 .3 .4 .4 .9 .3 .8 .3 1.4 .4-.6 .7 3 .7 .9 .7 1.9 .7 2.2 .7 1.4 .6 2.5 .7 2.5 .7 2.2 .7 1.1 .7 2.5 .7 1.1 .7 1.9 .7 1.4 .6 1.7 .7 2 .8 .9 .6 1.8 .8 1.2 .7 1.6 .6 1.6 .8 1.3 .7 1.3 .7 1.1 .7 1.7 .7 .6 .7 1.4 .7 1.3 .7 1.5 .8 .2 .7 1.2 .7 1.3 .7 1.8 .7 1 .8 .7 .7 1.1 .7 1.3 .7 1 .8 .8 .7 1.7 .7 1.7 .7 .3 .7 1.1 .8 .3 .7 2 .7 1 .8 .9 .7 1.6 .7 1 .7 1.3 .8 1 .7 0 .8 .8 .7 2.4 .8-.2 .7 .8 .7 .8 .8 .4 .7 2.5 .8-1.1 .7 1.8 .8 1.4 .8-1 .7 1 .7 1.7 .8 1 .8-.3 .8 .1 .7 .9 .8 1.5 .7 .7 .8 .1 .8 1.2 .7 .9 .8 .4 .7 1 .8 1.2 .8-.3 .8 1 .8-.4 .7 1 .8 .9 .8 1 .8 0 .8 .3 .7 .8 .9-.4 .8 .2 .7 .9 .8 1.4 .8 .3 .8 1 .8-.5 .8 .5 .8 .2 .8 .8 .8 .8 .8-.4 .8 .9 .8 0 .9-.1 .7 1.5 .9-.5 .7 1.3 .9 .3 .8 .1 .7 1.7 .9-.7 .8 .4 .9 .2 .8 .1 .8 .8 .8 .5 .9 0 .8 .5 .8-.1 .8 1.3 .9-.7 .8 .4 .9 .3 .8 .9"/>
<path d="M572.9 586.6l.6-.2 .6-1.5 .5-1.5 .6-1.1 .6-1.5 .6-1.8 .6-2.3 .6-1.5 .6-3.3 .6-1.5 .6-2.2 .6-2.4 .6-1.8 .6-3.2 .6-2.3 .6-2.2 .6-2.8 .6-2.9 .6-2.6 .6-2.6 .6-4.1 .7-3.6 .6-3.9 .6-3.1 .6-4.4 .6-2.7 .7-3.8 .6-3.7 .6-3.4 .7-4.8 .6-2.3 .3-2.6 .3-1.9 .4-1.6 .3-4.1 .3-.2 .3-1.2 .3-3.3 .4-.9 .3-2.2 .3-.9 .3-.8 .4-5.3 .3-.5 .3-1.1 .3-1.2 .4-2.3 .3-2 .3-2 .4 .3 .3-3.1 .3-3.8 .4-.7 .3-2.4 .3 0 .4-.1 .3-3.7 .3 .7 .4-2.4 .3-1.7 .3-1.4 .4 .8 .3-5.4 .4 1.1 .3-3.3 .3 .1 .4-2.5 .3-2.5 .4 2.2 .3-1.5 .3-4.9 .4 1.5 .3-1.3 .4-4.3 .3-.3 .4-.2 .3-2.5 .4 1.3 .3-2.9 .4-1 .3-.9 .3 .5 .4-3.1 .3-1.5 .4-1.6 .3 3.2 .4-.6 .3-3.3 .4 1.4 .3-4.2 .4 2.8 .3 .1 .4 1.9 .3-3.7 .4 1.6 .3-3.8 .4 1 .3-.4 .4 .6 .3 2 .4-2.4 .3 1.1 .4-1.7 .3 1 .4-3.4 .3 0 .4 2.4 .3-.8 .4 .9 .3-1.2 .4-4.6 .3 5.7 .3 5.5 .5-7.2 .3 2.3 .3 1.7 .4 .9 .4-2.9 .3 3.3 .4-3.4 .3 2 .3 3 .4-1.6 .4-.9 .3 3.3 .3 2.5 .4-2.5 .4-4 .3 6.6 .3 .8 .4 1.6 .4-3.9 .3 3.9 .3 .5 .4 0 .3 1.1 .3 4.9 .4-3.7 .3 4.6 .4 1.8 .4-1.1 .3-.3 .3 2 .4 2.3 .3 1.1 .4-.8 .3 2.2 .3 2.8 .4 1.7 .4-.9 .3 1.2 .3 4.4 .4-2.3 .4-.1 .3 .2 .3 1.9 .4 3.7 .3 1.6 .4-.8 .3 3.6 .3 1.1 .4-3.8 .3 7.5 .4-1.5 .3 3.5 .4-1.9 .3 3.5 .4-.9 .3 .7 .4 1.4 .3 0 .4 .6 .2 5.7 .4 .5 .4-1.6 .3 2.7 .4 .9 .3 1.8 .3 .5 .4 2.8 .3-.7 .4 2.4 .3-.4 .3 5.1 .3 1.4 .4 .3 .3 3 .4 1.3 .3 .5 .3 1.7 .4-1.8 .3 4.8 .4 .1 .3 2.2 .3 2 .4-.1 .4 .4 .3 1.1 .3 3 .4-.3 .3 2.1 .3 2 .4 .2 .3 2.7 .4-.7 .3 4 .3 1.1 .3 2.4 .4-1.1 .4 2.3 .3 1.1 .4 .3 .3 .4 .3 2.6 .3 2.5 .4-1.5 .3 3.6 .4 .1 .3 1 .4 .7 .3 2.1 .4 .4 .3 1.5 .3 1.4 .4 1.5 .3 .8 .4 1.8 .3 .9 .4 0 .7 .4 .6 4.3 .8 .4 .7 1.4 .7 3.1 .7 1.8 .7 1.3 .6 3.6 .7 .6 .7 1.8 .7 2 .7 1.2 .7 2 .7 2 .7 1.4 .7 2.5 .7 1.2 .8 .2 .7 1.8 .7 1 .7 1.1 .7 2.3 .8-.7 .7 3.5 .7 0 .7 2.7 .7 .1 .7 1.7 .7 1.7 .8 .8 .7 1.2 .7 1.3 .8 .9 .7 1.4 .7 .7 .8 .7 .7 2 .7 1.3 .8-.6 .7 2.8 .7 1.3 .8-.3 .7 2.1 .7 .4 .7 1.4 .8 1.4 .7 .3 .7 1.9 .8 .1 .7 2.4 .8-.2 .7 1.2 .8 1.3 .7 1.5 .8 .1 .7 .5 .8 .7 .8 .2 .7 .8 .8 1.6 .7 .7 .8 .9 .8 .2 .7 .6 .8 .6 .7 1.2 .8 .2 .8 1.5 .8 .3 .7 .1 .8 1.7 .8 .6 .7 1.6 .8-.8 .8 .6 .8 .9 .8 .5 .7 1.6 .8-.6 .8 .6 .8 .1 .8 1.6 .8 .3 .7 1.1 .8 .6 .9-.5 .7 .7 .8 .9 .9-.2 .8 .1 .7 1.3 .9-.1 .8 .6 .8 .4 .8 .1 .8 1.1 .8 .1 .8 1.5 .8-.5 .9-.3 .8 .6 .8 .9 .7 1.3 .9-.3 .8 .7 .8 .6 .9 .1 .8 .4 .8 0 .8 .9 .8 1.3 .9-.4 .8-.4 .8 1.1 .9 0 .8 .5 .9 .1 .8 0 .9 .2 .8 .4"/>
<path d="M563.5 589.9l.6-.4 .6-.7 .5-1.8 .6-.8 .6-1.8 .6-1.3 .6-2.5 .6-2.1 .6-2 .6-2 .5-2.3 .6-2 .6-2.6 .6-2.2 .6-2.5 .6-3.5 .6-.7 .6-3.3 .6-3.8 .6-2.8 .6-4.7 .6-2.5 .6-3.6 .6-2.4 .7-3.8 .6-3 .6-4.2 .6-4.5 .6-2.7 .6-4.8 .7-3.3 .3-.7 .3-2.1 .3-2.3 .3-2.7 .3-.7 .4-1.8 .3-2.3 .3-2.1 .3-1.9 .3-2.4 .4 .3 .3-3.1 .3-2.6 .3-3 .3-1 .4-1.1 .3-2.2 .3-.6 .3-3.3 .4 .3 .3-1.6 .3-1.7 .3-2.2 .4-2.4 .3-.1 .3-3.3 .4-1 .3-1.9 .3-.8 .4-1.1 .3-1.2 .3-2.8 .4-.6 .3-.6 .3-3.3 .4-1.8 .3 .2 .3-.5 .4-2.2 .3 1.3 .4-5.5 .3 .9 .3-3.2 .4-.6 .3 .4 .4-1.5 .3 2.4 .4-4.1 .3 .9 .3-4.4 .4 .9 .3-2.2 .4 .8 .3 .1 .4-.9 .3-4.5 .4 .9 .3 .5 .4-.9 .3 1.4 .4-2.1 .3 .7 .4-5.3 .3 5.6 .3-2.4 .4 2.2 .3-.1 .4 .3 .4-6.3 .3 1.3 .4-1.4 .3 .6 .4 2 .3 1.5 .4-.6 .3 1.1 .4-2.2 .3 .4 .4 0 .3-4.1 .4 6.1 .3-2.8 .4 2.1 .3-.6 .4 .2 .3-2.8 .4 4.1 .3-1.2 .4-3.2 .4 .4 .3 3 .4 .4 .3-2.1 .4 2.8 .3 2.7 .4 1.4 .3 .8 .4-1.2 .3 1.4 .4-2.3 .3 4.7 .4-2.3 .3 2.3 .4 1.2 .3-.6 .4 2.7 .3 1.1 .4 4.1 .3-1.6 .4 2.8 .3-1.4 .4 1.4 .3 1.4 .4 2.5 .3 .4 .4-2.2 .4 1.8 .3 3.3 .4-1.6 .3 3.8 .3 3.7 .4-1.1 .3 1 .4 2.5 .3 .8 .4-.3 .3 3.1 .4 .1 .3 .4 .4 3.4 .3 .4 .4 2.1 .3-1.2 .4-.3 .3 2.4 .3 5 .4-3 .4 3.9 .3-.3 .3 3.1 .4-3.2 .4 3.5 .3 2.4 .4 .2 .3-.5 .3 5.7 .4-2.2 .3 2.5 .4 3.9 .3-1.4 .4 .9 .3 2.6 .4 2.4 .3 .9 .4 .3 .3 .4 .4 2.3 .3 .7 .3 3.7 .4 1.7 .4-1.7 .3 1 .3 3.8 .4 .8 .3 1.4 .4 .5 .3 1.6 .4 1.6 .3 1.6 .3 3.3 .4-2.3 .3 4.1 .4 1 .3 2.1 .4 .2 .3 1.7 .4 .8 .3 1.7 .4-.1 .3 1.5 .3 2.8 .4-1 .3 3 .4-1.4 .3 3 .4 1.1 .3 1.6 .4 .6 .4-.6 .3 3.3 .3 1.3 .4 1.6 .3 1.3 .4-.1 .3 .9 .4 2.5 .3 .5 .4 1 .7 1.9 .7 1.1 .7 2.2 .7 1.9 .8-.4 .6 5.4 .7 .8 .7 1.5 .7 2.8 .7 2.1 .7 .8 .8 1.5 .7 1.4 .6 3.3 .8 .6 .7 .9 .7 .8 .8 2 .6 2.5 .8 .6 .7 1.5 .7 .9 .8 1.1 .7 .9 .7 2.5 .7 .4 .8 1.9 .7 1.4 .7 1.2 .7 1.2 .8 .5 .7 1.3 .7 2.7 .8-.1 .7 .8 .8 1.1 .7 1 .7 1.6 .8 .8 .7 2.2 .7 .3 .8 1.4 .7 1.4 .8 1.1 .7 .5 .8 .7 .7 2.2 .8 .2 .7 .6 .7 1.6 .8 .3 .7 1.5 .8 .5 .8 1 .7 .3 .8 .7 .7 2 .8-.3 .8 .5 .7 2.3 .8-.8 .8 1.1 .7 1.4 .8-.3 .8 1.1 .8 1.2 .7 .7 .8 .7 .8 .7 .8 .8 .7 .8 .8 1 .8 .3 .8 .5 .8 .4 .7 1.3 .8 .7 .8 .9 .8-.7 .8 .7 .8 1.6 .8 .9 .8-.3 .8 .9 .8-.2 .8-.2 .8 1.5 .8 .9 .8-.5 .8 .4 .8 .6 .8 .7 .8 .6 .9 .2 .7 1.3 .9-.3 .8 .5 .8 .3 .8 1.7 .9-.6 .8 .4 .8 1 .8 0 .8 .9 .9 0 .8 1.3 .8-.1 .9 .1 .8 .6 .8-.1 .9 .6 .8 1.2 .8 0 .9-.3 .8 .7 .9 .1 .8 .5 .9 .1 .8 .2 .8 1.4"/>
<path d="M553.8 594.5l.6-.4 .6-.9 .6-1.2 .6-1.5 .6-1.5 .6-1.3 .5-1.8 .6-2.7 .6-1.7 .6-2.3 .6-1.5 .6-2 .6-2.6 .5-1.5 .6-3.4 .6-1.9 .6-2.5 .6-3 .6-2.2 .6-3.3 .6-4 .6-1.8 .6-3.8 .6-2.8 .6-4.6 .6-3.9 .6-1.3 .6-4.9 .6-3.4 .6-3.9 .6-3.7 .3-1.4 .3-2 .3-.7 .3-3.7 .4-.9 .3-.4 .3-2.4 .3-1.9 .3-.9 .3-2.2 .3-1.5 .3-3.3 .4-2.6 .3-.5 .3-2.8 .3 .6 .3-2.9 .4-1.2 .3-2.8 .3 0 .3-2 .3-1.3 .4-.9 .3-.5 .3-3.3 .4 .7 .3-2.8 .3 .5 .3-1.4 .4-1.9 .3-1.7 .3-3.8 .3 .7 .4-1.8 .3-1.3 .3-2.8 .4-2.1 .3 .8 .3-1.6 .4-3.3 .3-1.4 .3 .6 .4-.8 .3 2.3 .4-3.5 .3-3.8 .3 1.6 .4 1.5 .3-3.5 .4-.4 .3-2.9 .3 .3 .4-1.3 .3-3.1 .4 2.6 .3 .1 .4-2 .3-.9 .3 2.2 .4-3.4 .3 3.5 .4-1.5 .3-3 .4-1.9 .3 2.7 .4-2.5 .3 1.7 .4 1.1 .3-1.3 .4-2.1 .3-.1 .4-2.1 .3 2.1 .4-2 .3-.3 .4 4.6 .3 .1 .4-1.7 .3-2.5 .4-.3 .3 3.9 .4-.3 .3 1.4 .4-.5 .4-5.4 .3 4.9 .4 2.5 .3-.1 .4 1.9 .3-4.6 .4 2.2 .3-3.9 .4 1.5 .3 5.7 .4 1.3 .3 .6 .4-3.8 .4-2.8 .3 6.7 .4 1.1 .3 .3 .4 1.9 .3 2.6 .4-1.2 .3 2.1 .4-1.3 .4 1.3 .3 1.1 .4-.6 .3 4.2 .4-3.3 .3 1.6 .4 .8 .3 3.8 .4-.2 .4-.9 .3 2.4 .3 4.4 .4-2.2 .4 2.5 .3 1 .4 .9 .3 3.4 .4 .1 .3 1.7 .4 .8 .3-.9 .4 .5 .3 1.9 .4 .7 .4 2.5 .3 1.4 .4 1.9 .3-1.2 .4 2.3 .3 .5 .4 1.4 .3-.9 .4 4.6 .3 .4 .4 2.3 .3 .5 .4-.5 .3 2.4 .4 3.9 .3-.5 .4-.2 .4 1.5 .3 1.9 .4 0 .3 2.2 .4 1.1 .3 .5 .4 1.5 .3 4 .4-.3 .3-.4 .4 2.6 .3 .4 .4 3.1 .3 .1 .4 2.2 .3 1.4 .4 1 .4 .4 .3 2.9 .3 .8 .4 1.7 .3 .9 .4 1.1 .3 1.3 .4 1 .4 .2 .3 3.1 .3 2.4 .4-2.1 .4 1 .3 4 .4 .5 .3 .1 .4 2.1 .3 1.6 .4 1.5 .3 1.8 .4-1.2 .3 2.3 .4 2.5 .3-.6 .4 .8 .3 1.8 .4 1 .3 2.5 .4-.3 .4 1.6 .3 1.2 .4 1.2 .3 .2 .4-1 .7 3.7 .7 1.3 .7 1.7 .7 1.8 .8 .8 .7 2.5 .7 1.3 .7 2.2 .7 3.9 .7 .1 .7 2.4 .7 2.5 .8 1.5 .7 .9 .7 .7 .8 1.7 .7 1.7 .7 1.9 .7 1 .8 1 .7 1.2 .7 1.7 .7 2 .8 .8 .7 .5 .8 1.5 .7 .9 .7 1.2 .8 1.9 .7 .6 .8 .8 .7 2.1 .7 1.1 .8 .2 .7 1.8 .8 .9 .7 1.2 .8 1 .7 1.1 .8 .4 .7 1.5 .7 1.1 .8 .9 .7 1.3 .8 1.4 .7 1.1 .8-.3 .8 2.1 .7 1.2 .8 .2 .7 1 .8 .9 .8 .9 .7 1.6 .8-.5 .8 1.1 .7 1.4 .8 .8 .7 1.6 .8 .1 .8-.1 .8 .6 .8 1.3 .7 1 .8 .3 .8 .9 .8 .7 .8 .4 .7 2.1 .8-.3 .8 1.4 .8-.2 .8 1.3 .7 1 .9-.3 .8 .6 .7 1.2 .9-.4 .7 1.4 .8 .6 .8 .3 .8 .6 .8 .7 .9-.4 .8 1.3 .8 .1 .8 1 .8 .5 .8 .4 .8 .7 .8-.5 .8 1.5 .9-.2 .8 .3 .8 1.4 .8-.5 .8 1.1 .9 .3 .8 .7 .8-.3 .8 1.5 .9 .3 .8-.2 .9-.3 .8 .9 .8 .3 .8 1.4 .9-.6 .8 1.1 .8 .4 1-.9 .8 .9 .8 .9 .8 1 .9-.2 .8 .1 .9 .2 .9-.1 .8 1.2 .9 0"/>
<path d="M544 602.6l.6-1.1 .6-.4 .6-.1 .6-1.1 .6-.1 .6-1.5 .6-1.1 .5-1.2 .6-.5 .6-2.5 .6-1.8 .6-1.4 .6-1.8 .6-2 .5-1.6 .6-2 .6-2.5 .6-2.3 .6-1.9 .6-1.5 .6-3.5 .6-1.3 .5-4.2 .6-2.6 .6-1.9 .6-3.9 .6-3 .6-2.4 .6-2.6 .6-4.9 .6-2.7 .3-1.2 .3-2.5 .3-.6 .3-2.9 .3-2.1 .3 .1 .3-1.8 .3-2.6 .3-1.2 .4-.1 .3-4 .3-.4 .3-3 .3 .5 .3-3.2 .3-1.7 .3-1.8 .3-.3 .4-1 .3-3.8 .3-2 .3-.8 .3-2.1 .3-.4 .3-1.2 .3-4 .4-1.9 .3-1.9 .3 .4 .3 .2 .4 1 .3-4.7 .3-2.2 .3-.7 .3-1.4 .4 1 .3-4.4 .3-1.7 .3-3 .4 .2 .3-1.8 .4 3.4 .3-1.9 .3-1.4 .3-4.5 .4 0 .3 .5 .3-1.3 .4-3.3 .3 2.4 .3-4.3 .4-1 .3-3.5 .4 2.3 .3 2.1 .3-6 .4 1.1 .3-.4 .4 .2 .3-2.4 .3 .9 .4-1.2 .3-.5 .4-3.5 .3 .3 .4 3.1 .3-2.7 .4 .7 .3-1.7 .3-.9 .4 1.1 .3-3 .4-.3 .3 3.7 .4-2 .3 1.7 .4 .6 .4-.4 .3-.6 .4-.4 .3-2.9 .3 .1 .4 1.9 .4 .4 .3-2.2 .4-.6 .3-1.5 .4 2.2 .3-.3 .4 3.9 .3-2 .4-1.2 .4 2.5 .3 .4 .4-5.2 .3 2.6 .4 2.2 .3-1.4 .4 1.7 .3 2.1 .4-.4 .4 .7 .3-1.6 .4 2.8 .3 .3 .4 2.7 .4 .5 .3-.9 .4 .6 .3-.4 .4 .8 .3 1.4 .4 2.9 .4-1.7 .3 4.1 .4-1.9 .3 .4 .4-.5 .4 3.9 .3 .1 .4 1.2 .3 3.4 .4-2.8 .4 3.1 .3-.7 .4 3.9 .3-1.5 .4 .8 .4 2.1 .3-2 .4 3.9 .3 .3 .4 5.1 .4-2.8 .3 4.5 .4 .5 .3 .8 .4 .5 .4-1.9 .3 3.8 .4 .7 .3 2 .4 .4 .3 3.1 .4-1.5 .4 1.1 .3 3.3 .4 1.8 .3-.5 .4 .1 .3 2.5 .4 2 .4-1.4 .3 3.6 .4-1.5 .4 .7 .3 4.7 .4-1.6 .3 1.2 .4 1.3 .4 .3 .3 1 .4 2.7 .3 1.3 .4 1.6 .3 1.5 .4-.1 .4 1.6 .3 2 .4-.2 .3 1.4 .4 1.5 .3 2.2 .4 1.1 .4-.2 .3 1.6 .4 1.8 .3 2.3 .4 .9 .3 .9 .4 1.3 .4 .2 .3 1.4 .4 3.4 .3-.5 .4 .9 .3 2.5 .4 1.5 .4 .1 .3 1.2 .4 0 .3 2.1 .4 .5 .4 .8 .3 1.3 .4 2.4 .3 .7 .4 1.5 .7 2.5 .7 .8 .8 3.4 .7 1.6 .7 1.5 .7 .8 .8 1.6 .7 1.3 .7 1.8 .7 4.1 .8 .8 .7 1.3 .7 1.4 .8 1.6 .7 2.7 .7 1.2 .7 2.2 .8 .2 .7 1.9 .8 1.1 .7 1.6 .7 1.8 .8 1.6 .7-.4 .7 2.9 .8 1 .8-.1 .7 2.3 .7 .5 .8 .7 .7 1.2 .8 1.5 .7 1.3 .8 .7 .7 1.5 .8 1 .7 1.5 .8 1.1 .7 1.5 .8-.2 .7 1.6 .8 .3 .7 2.6 .8 1 .8 .5 .7 1.2 .8 .7 .8 1.2 .7 .9 .8 .8 .8 .4 .7 1.4 .8 1.6 .8 .6 .7 1 .8 .1 .7 2.5 .8 .2 .8 .3 .8 1.2 .8 .1 .8 1.4 .8 .4 .7 .3 .8 .3 .8 .9 .8 1.4 .8 .1 .8 1.5 .8 .5 .8 .2 .7 1.7 .9-.3 .7 1.7 .8 0 .8 .9 .8 .5 .8 .8 .8 1.3 .8 0 .8 .3 .8 1 .9 .1 .7 1.5 .9 .2 .8-.3 .8 1 .8 .6 .8 .4 .9 .1 .8 1.2 .8-.1 .8 .8 .9 .4 .8 .9 .8-.6 .8 .9 .9 .8 .8 .3 .8 .7 .9-.2 .8 1.5 .8 .1 .9 .3 .8 .4 .8 .8 .9 .5 .9-.2 .8 .1 .8 1.4 .9 .2 .8 .5 .9 .5 .8-.2 .8 1.7 .9 0 .9 0 .9 .2 .8 .3 .9 .3"/>
<path d="M533.9 606l.6-.2 .6-.8 .6-.2 .5-.9 .6-1.7 .6-.1 .6-.9 .6-1.1 .6-1.5 .5-2.2 .6-1 .6-2.2 .6-1.8 .5-2.5 .6-1.8 .6-1.6 .6-1.6 .6-3.4 .5-2.5 .6-1.6 .6-3.4 .6-1.3 .6-2.8 .6-2.6 .5-4.1 .6-2.5 .6-3.7 .6-1.2 .6-5.4 .5-3.1 .6-4.4 .3-.9 .3-.4 .3-3.8 .3-.7 .3-2.5 .3-.1 .3-2.7 .3-2.2 .3-1.8 .3-1.5 .3-.1 .3-2.4 .3-1.1 .3-2.9 .3 .1 .3-4.8 .3 .6 .3-3.2 .4 0 .2-4.9 .3-1.3 .4 1.8 .3-1.7 .3-3.9 .3 .5 .3-3.2 .3-2.9 .4 .8 .3-1.9 .3-1.3 .3-1.9 .3-2.2 .3-.9 .4 1.2 .3-1.6 .3-3.1 .3-2.8 .3 .9 .4-1 .3-2.2 .3-1.5 .3-2.1 .4-.8 .3-2 .3 0 .3-3.6 .4-1 .3-.6 .3-.6 .4 0 .3-.2 .3-3.3 .4-.2 .3-.8 .3-3.8 .4 2.1 .3-3.7 .3-1.9 .4 .4 .3 1.7 .4-2.1 .3 .5 .4-1.5 .3-.8 .4 2.4 .3-2.6 .3-1 .4-1 .3 .2 .4 0 .3 .4 .4-3 .3 2.8 .4-.2 .3-1.4 .4 .2 .3 1.7 .4-3.9 .3-.9 .4 1.5 .3 .1 .4-.5 .3-1.4 .4 3.5 .3-2.1 .4-1.9 .4 3.7 .3-2.8 .4 5.1 .3-5.2 .4-1.2 .3 1.9 .4 .9 .4 3.1 .3 .3 .4 .4 .3-2.4 .4 1.7 .4-1.9 .3 2.9 .4-1.2 .3 1.1 .4 1.4 .4 1.4 .3-1.6 .4 6.2 .3-7.7 .4 5.9 .4-1 .3-1.8 .4 6.5 .4 .2 .3-2.5 .4 4.8 .4-1.1 .3 1.1 .4 .1 .4 1.8 .3-.5 .4 3.4 .4-.1 .3 3.1 .4-2 .4 4.7 .3-2.4 .4 2.7 .3-2.1 .4 2.9 .4 1.1 .3 2.6 .4-.3 .4 .4 .3 1.7 .4-.5 .4 3.6 .3-1.6 .4 5.9 .4-.1 .3 .6 .4 1.3 .3 .1 .4 2.3 .4 2.3 .3 0 .4 2.2 .4-.4 .3 .8 .4 5.9 .4-4.4 .3 3.2 .4 .4 .4 .7 .3 1.6 .4 0 .4 .9 .3 5.9 .4-4.6 .3 4.3 .4 .8 .4 1.7 .3 2 .4 .6 .4 1.1 .3 1.2 .4 .5 .4 1.7 .3 2.7 .4-.7 .4 2 .3 2.6 .4 .2 .3 .9 .4 2.3 .4 1.1 .3 3.4 .4 .8 .4-.1 .3 1 .4 .3 .4 3.1 .3 .8 .4 .6 .3 2 .4 1.3 .4-.6 .3 2.1 .4 .1 .4 3.2 .3-.3 .4 1.2 .4 .3 .3 2.5 .4 .4 .4 1.3 .3 2 .4 2.1 .3 .8 .4 1.1 .7 2 .8 1.5 .7 1.7 .7 3.1 .8 .6 .7 1.5 .8 1.4 .7 2.9 .7 2 .8 .8 .7 2.5 .7 2 .8 .9 .7 3 .7 2.1 .8 1.2 .7 .4 .8 2.4 .7 1.1 .7 1.5 .8 .6 .7 2.8 .8 .7 .7 1.3 .8 1.5 .7 1.1 .8 2.1 .7 .2 .8 2.1 .7 .1 .8 1.7 .7 2 .8 .6 .8 .6 .7 1.9 .8 1.7 .7 .3 .8 1 .8 1.1 .7 1 .8 .6 .8 1.2 .7 1 .8 1.6 .8 .2 .7 2.5 .8 .9 .7 1 .8 .6 .8 .9 .8 1.5 .7 .6 .8 .6 .8 1.2 .8 1 .8 .7 .7 .7 .8 1.8 .8 .6 .8 1.4 .7 .4 .8 .8 .8 .5 .8 1.3 .8 0 .8 .6 .8 1.3 .8 .4 .8 .2 .8 .8 .8 1.4 .8 .6 .8 .6 .8 .5 .8 .6 .8 1.3 .8 .7 .8 .4 .8 .9 .8 .3 .8 1.3 .8 .3 .9-.4 .8 1.2 .8 1.1 .8-.3 .8 .9 .9 .5 .8 .5 .8-.3 .8 1.5 .9 .7 .8-.2 .8 .4 .8 1.2 .9 .2 .9-.4 .8 .9 .8 .1 .8 1.2 .9 .4 .8 1 .8 .9 .9-.8 .8 1.4 .9 0 .8 .8 .9 .1 .8 .7 .9-.5 .9 1.1 .8 .7 .9 .2 .8 1.5 .9-.9 .8 1 .9-.4 .9 1.4 .9-.6 .8 2"/>
<path d="M523.5 609.7l.6 0 .5-1.9 .6 .3 .6 0 .6-1.7 .6 0 .6-1.8 .5-1.2 .6-1.8 .6-.9 .6-1.4 .5-2.7 .6-2.1 .6-1.8 .5-2 .6-2.8 .6-2 .5-1.4 .6-2.9 .6-1.8 .5-3 .6-1.9 .6-3.2 .6-2.8 .5-2.6 .6-4 .6-3.4 .5-2.8 .6-2.8 .6-5.5 .6-2.4 .2-1.5 .3-1.6 .3-2.8 .3-.3 .3-2.5 .3-.8 .3-3.5 .3-.3 .3-1.6 .3-3 .3-1.7 .2-2.1 .3-1.6 .3-2.9 .4 .7 .2-3 .3-2 .3-1.4 .3-2.8 .3-1.3 .3-1.3 .3-2.7 .4 .2 .2-2.6 .4-.8 .2-3.8 .4 .7 .3-1.4 .3-2.8 .3-1 .3 .3 .3-2.7 .3-2.7 .4 .1 .3 .4 .3-2.8 .3-.3 .4-1.7 .2-3.9 .4-1 .3-2.7 .3 1.5 .3-2.2 .4-.1 .2-4.3 .4 1.4 .3-1 .4-.9 .3-3.9 .3-.7 .3-.8 .3-2.9 .4 .9 .3 .4 .3-5.7 .4 3.7 .3-1 .3-4 .4 1.2 .3-1.3 .4 2.4 .3-2.2 .4-.4 .3-2.9 .3 .7 .4-1.8 .3 1.8 .4-1.2 .3-1.5 .4 2.5 .3-.8 .3-4.1 .4 2.7 .3-5.5 .4 2.4 .4-.1 .3 1.3 .4-1.2 .3 .3 .4 2.7 .3-1.8 .4-.4 .3-2.4 .4 2 .4 4.2 .3-5.1 .4 .9 .3-1.4 .4 .7 .4 3.2 .3 .7 .4-1.4 .3 .9 .4-1.3 .4 1.3 .3-.4 .4-1 .3 1.9 .4 .8 .4-1.4 .3-.2 .4 1.2 .4 4.6 .3-2.5 .4 1.3 .3-1.5 .5 7 .3-3.6 .4 .6 .3 0 .4 2.3 .4 .9 .3 .1 .4 3.6 .4-1.9 .4 3.9 .3-.3 .4-1.9 .3 1.7 .4 1 .4-.1 .4 2.2 .3 1.2 .4 2.9 .4 .9 .3-2.2 .4 4.6 .4-1.5 .3 2 .4-.7 .4 4.8 .4-1.6 .3 3.7 .4 .9 .4-1.8 .3 1.3 .4 3.3 .4-.6 .4 2.5 .3 2 .4-.3 .4 4.2 .3 1.1 .4 3.1 .4-2.8 .3 2.5 .4 .7 .4 .5 .4 1.3 .3 .4 .4 2 .4-.3 .3 4.8 .4-2 .4 1.2 .4 3 .3-.9 .4 3.3 .4-1.4 .3 2.2 .4 2.4 .4 1.8 .3 .8 .4 1.7 .4 1.6 .4 1.1 .3 .4 .4 2.9 .4 2 .3-1.5 .4 3.2 .4 .9 .4 2 .3 1.7 .4-.2 .4 1.1 .3 2.8 .4 1.4 .4 .5 .3 1.1 .4 2 .4 0 .4 1.9 .3 2.2 .4 .6 .4 1.1 .3 1.2 .4 1.8 .4 .3 .3 2.5 .4 .1 .4 1.6 .3 1.9 .4 1 .4 1.8 .4 1.2 .3 1.2 .4-.1 .7 2.6 .8 2.9 .7 1.7 .8 2.1 .7 .3 .8 2.6 .7 1 .8 1.6 .7 1.9 .7 1.7 .8 2.9 .7 2.8 .8 .6 .7 1.8 .8 3 .7 .8 .8 1.4 .7 2 .8 1.3 .7 2.2 .8 1.2 .7 1.5 .8-.1 .7 2.1 .8 1.5 .7 1.5 .8 .8 .8 1.2 .7 1.5 .8 1.7 .7 1.1 .8 1.5 .8 1.3 .7 .2 .8 1.7 .8 .6 .7 1.5 .8 1.2 .8 1.1 .7 1 .8 .2 .8 1.7 .7 1.7 .8 .2 .8 1.8 .8 1.5 .7 1.3 .8 1 .8 0 .8 1 .8 1.9 .7 .6 .8 1.6 .8 .5 .8 .5 .8 1.2 .8 1.2 .7 1.1 .8 .4 .8 .7 .8 1.2 .8 .6 .8 .3 .8 1.1 .8 1.3 .8-.3 .8 1.2 .8 1.5 .8-.5 .8 .6 .8 1.3 .8 1.2 .8 1 .8 .5 .8 1.4 .9-.3 .8 .7 .8 1.4 .8-.5 .8 .9 .8 .4 .9 1 .8 .3 .8 1 .8 1.1 .8 .1 .9 1.2 .8 .3 .8 .2 .8 1 .9 .6 .8-.4 .9 .8 .8 .5 .8 .3 .9 1.2 .8-.2 .9 .9 .8 0 .9 .5 .8 .6 .9-.1 .8 1.1 .9 .3 .8 .7 .9 .4 .8 .1 .9 .1 .8 1.3 .9 .6 .8 .5 .9 .4 .9-.2 .8 1.2 .9 .8 .8 1 .9-.6 .9 .3 .9 .6 .9 .4"/>
<path d="M512.7 613.4l.6 0 .6-.8 .6-.3 .6-.5 .6-.8 .5-1.4 .6-.6 .6-1.1 .6-1.4 .6-1.2 .5-3.2 .5-1.6 .6-1.3 .6-2.4 .5-2.4 .6-1.8 .6-2.4 .5-2.4 .6-2.7 .5-2.3 .6-3 .5-2.8 .6-2.5 .6-3 .5-2.8 .6-3.8 .5-3.8 .6-2.6 .5-3.6 .6-3.9 .6-2.3 .2-2.2 .3-2.5 .3-1.3 .3-2.5 .3-1 .2-3.1 .3-1 .3-.8 .3-1.2 .3-3.7 .3-.5 .3-1.8 .3-1.3 .3-1.2 .2-4.2 .3-.3 .3-2.3 .3-.9 .3-1.7 .3-2.7 .3-1.5 .3-3.3 .3-1.5 .3-1.6 .2-3.1 .4-.1 .3-.5 .3-3.5 .3-2.4 .3 1.1 .3-3.4 .3-.3 .3-.4 .4 .6 .3-2.6 .3-1.2 .3-3.9 .3 1 .3-4 .3-1.9 .3 .4 .4-1.2 .3-.9 .3-2.8 .3-.8 .3-1.4 .3-.9 .4-1.6 .2-4.1 .4 1.7 .3 0 .4-.9 .3-3.1 .3 .5 .3-2 .4-.7 .3 .4 .4 1.2 .3-4 .4 2.7 .2-6.1 .4 3 .3-2 .4-1.2 .3 .8 .3-3.9 .4 2.8 .3-2 .4-.8 .3-2.4 .4 .7 .3-1.5 .4 .9 .4 4.9 .3-4.9 .3 1.3 .4-1.3 .3 0 .3-2.3 .5 5.4 .3-4.3 .3 1.1 .4 2.1 .4-2.1 .3-1.2 .4 .8 .3-.1 .4 1.2 .3-1.5 .4 .9 .4 2.2 .3-5.2 .4 6.4 .3-4.7 .4 4.1 .4 .6 .3-2.3 .4 3.1 .4 1.3 .4-.6 .3-2.8 .4 5.5 .3-5.6 .4 2 .4 .7 .4 1.6 .4 3.2 .3 0 .4-.9 .3 .2 .4 1 .4 2.3 .4 1.6 .3-4.3 .4 7.4 .4-1.2 .4 3.1 .3-3.1 .4 4 .4-.9 .3-.4 .5 8 .3-1.4 .4 2.8 .4 0 .4 1.2 .3 .2 .4-2.3 .4 3.4 .4 .4 .3-.5 .4 3.3 .4 1.8 .3-.9 .4 2.6 .4 3.2 .4 2.9 .4-.8 .3 0 .4 2.4 .4-.8 .4-.4 .3 2.3 .4 5.9 .4-1.8 .4 2 .3-1.4 .4 1.6 .4 2 .4 1.3 .4 1.6 .3 2.3 .4-.2 .4 2.4 .4 .6 .3-.6 .4 3 .4 .2 .4 1.9 .4 2.6 .3-.4 .4 2.6 .4 .4 .4 2 .3 .2 .4 2 .4 2.1 .4 2.1 .3-1.5 .4 3.7 .4 1 .4 1.5 .4 1.6 .3 2.3 .4 .5 .4 1.7 .4-.5 .3 .2 .4 3.9 .4 .6 .4 .6 .3 2.8 .4 1.1 .4 1.3 .4-.6 .3 2.1 .4 2.5 .4 .5 .4 1.2 .3 1.3 .4 2.8 .4-.3 .4 1 .4 1 .3 1.6 .4 1.7 .4 1.1 .4 .4 .7 .9 .8 4.8 .7 .8 .8 1.8 .7 2.5 .8 3.6 .7-.8 .8 2.5 .7 2.1 .8 1.3 .7 3 .8 2.1 .8 .8 .7 1.8 .8 1.7 .7 2 .8 1.9 .7 1.4 .8 1.2 .8 1.3 .7 2 .8 1.2 .7 2.1 .8 .5 .8 .9 .8 1.4 .7 2.2 .8 2.3 .7 .8 .8 .7 .8 1.9 .7 1.1 .8 0 .8 2.8 .8 1.2 .7 .5 .8 1.2 .8 .1 .8 2 .7 1.1 .8 1.2 .8 2 .8 1.3 .7 .9 .8 .5 .8 1.8 .8-.1 .8 1.5 .8 .8 .8 1.1 .7 1.3 .8 1.9 .8 .7 .8 .6 .8 1.8 .8 .4 .8 1.4 .8 .1 .8 .9 .8 1 .8 .6 .8 .5 .8 1.2 .8 .7 .8 .4 .8 1.1 .8 .8 .8 .9 .8 .9 .8 .9 .8 .2 .8 .9 .8 1.1 .9 .2 .8 .7 .8 1.2 .8 1.2 .8 .2 .9 .8 .8 .4 .8 .9 .8 .2 .8 1.5 .9 .2 .8 .7 .8 .3 .9 1 .8 .5 .8 .9 .9-.1 .8-.3 .9 .6 .8 1.4 .9 .3 .8 .3 .8 1.4 .9-.5 .9 .2 .8 1.1 .8 1.3 .9 .3 .9-.3 .8 .9 .9 .4 .8 .2 .9 .8 .8 .6 .9 .5 .8 1.2 1-.9 .8 .4 .9 1.2 .8 .1 .9 1 .9-.2 .9 .7 .8 .7 .9 .5 .9-.3 .9 .9"/>
<path d="M501.8 618.6l.5-.4 .6-1.7 .6 .3 .6-.8 .5-1.2 .6-.6 .6-1.6 .6-.8 .5-1.9 .6-1.6 .5-2.1 .6-1.6 .5-1.9 .6-2.4 .5-1.6 .6-3.3 .5-1.7 .6-2.3 .5-3.4 .6-1.5 .5-2.6 .6-3.4 .5-2.6 .5-3.1 .6-3.3 .5-3.5 .6-2.7 .5-4.4 .6-2.4 .5-4.2 .5-3.3 .3-3 .3-.3 .2-4.2 .4 .6 .2-2.8 .3-1.7 .3-2.1 .2-1.8 .3-.3 .3-1.7 .3-2.9 .3-2.1 .3-.8 .2-3 .3-2.9 .3-.7 .2-2.3 .4-.5 .2-4.9 .3 .5 .3-2 .3-1.9 .3-1.3 .3-2.3 .3-2 .3-.2 .2-3.8 .3-1.4 .4-.4 .3-.3 .3-2.3 .3-.5 .2-5.1 .3-.5 .4-.1 .3-.9 .2-3.3 .4-1.1 .2-3.3 .5 3.8 .2-5.1 .4 1.4 .1-6.7 .5 4.6 .3-2.7 .3-1.5 .3-2.2 .3-1.3 .3-3.3 .3 .7 .3-1.6 .4-1.4 .4 2 .2-5.6 .4 3.2 .3-4.1 .3-1 .4 2.2 .2-4.9 .4 0 .3-.6 .4-.5 .3-.8 .3-1.3 .3-1.6 .5 5.7 .2-8 .4 2.7 .3-.7 .4 1.5 .4-.6 .3-2.2 .4 2.5 .3 .4 .3-4.2 .4 .7 .4 1 .2-4.6 .4 2.8 .4-.6 .4 .8 .3-.4 .4 1.6 .3-4.4 .4 5.8 .4-1.9 .4 2.7 .3-3 .3-.9 .4 .4 .3-.9 .4 2.8 .4-1.8 .4 2.8 .3 .6 .4-1.1 .3-1.6 .5 6.1 .3-1.7 .4 .4 .3-1.9 .4 2.3 .4-.8 .3-1.1 .4 2.4 .4 1.2 .4 2.4 .4 2 .3-1.2 .4-2.8 .4 5.9 .4-1 .4 2.6 .3-1.6 .4-.2 .4 5.1 .4-1.2 .3 1.5 .4 1.5 .4 2 .4-1.3 .4 1.2 .3-1 .4 4.9 .4-.1 .4 2.5 .4 .9 .3-3 .4 2.7 .4 3.5 .4 1.1 .4 .8 .3-.9 .4 2 .4 2.9 .4 3 .4 0 .4-1.7 .4 4.9 .4 .4 .4 3.5 .3-2.2 .4 1.7 .4-1.1 .4 6.4 .4-.1 .3 1.2 .4-1.2 .4 2.2 .4 3 .4-1.1 .4 5.8 .3-4.1 .4 1.7 .4 4.5 .4 .5 .4 2.2 .3-.8 .4 1.1 .4 2.9 .4-1.4 .4 3.6 .4 .3 .3 1.6 .4 1.7 .4 1.3 .4 2.2 .4 2 .4 1.8 .4 .6 .3 .4 .4 .3 .4 2.8 .4 1.8 .4 1.4 .4 1.1 .3 2.5 .4 1.1 .4 0 .4 .7 .4 1 .3 2 .4 2.3 .4-.1 .4 1.9 .4 1.9 .4-.5 .3 2.9 .4 .2 .4 2.6 .4 1 .4 1.2 .4 1.3 .3 1.3 .4 1.1 .4 .5 .4 2.1 .4 1.9 .7 3.4 .8 .2 .8 1.5 .7 3.9 .8 .6 .7 .6 .8 3.3 .8 1.8 .7 1.2 .8 3.2 .8 2.5 .7 1.5 .8 3.7 .8 .6 .7 .8 .8 2.4 .8 1.7 .7 1.5 .8 1.8 .8 1.7 .7 1.2 .8 2.1 .8 .5 .8 1.6 .7 1 .8 1.9 .8 .2 .7 2.2 .8 1.6 .8 .5 .8 2.3 .8 .1 .7 .9 .8 2.9 .8 1.4 .8 .3 .8 1.1 .7 1.2 .8 2 .8 1.3 .8 1.6 .8-.1 .8 1.7 .7 1.8 .8 0 .8 .9 .8 1.3 .8 1.5 .8 .5 .8 2.6 .8-.1 .8 .9 .8 1.5 .8 1.3 .8 .9 .8 .2 .8 1.9 .8 1.6 .8-.2 .8 1.6 .8 .3 .8 1 .8 .5 .8 1.3 .8-.1 .8 .8 .8 .9 .9 .7 .8 .8 .8 1.2 .8 .6 .8 .6 .8 1.2 .8 1.2 .9 1.4 .8-.5 .8 .4 .9 1.2 .8 .8 .8 1 .8 .4 .9 .2 .8 .1 .8 1.2 .9 .8 .8 0 .9 .6 .8 2.3 .8-.2 .9 1.1 .8 .7 .9-.6 .8 .7 .9 .5 .8 .1 .9 .8 .8 .4 .9 .4 .8 1.1 .9-.9 .9 1.1 .8 1 .9 .3 .8 1 .9 .2 .9 .4 .8 1.1 .9 .5 .9-1.2 .8 2.2 .9-.5 .9 1.4 .9 .4 .9-.1 .8 1.3 .9-1 .9 1 .9 .8 .9-.4 .9 1.6"/>
<path d="M490.4 622.4l.6-.3 .6-1.1 .6-.4 .5-.7 .6-.7 .5-1.9 .6-.4 .6-1.4 .6-1.2 .5-2.1 .5-1.5 .6-2.2 .5-2.1 .6-2.2 .5-2.9 .5-1.3 .6-3.1 .5-2.1 .5-2.5 .5-3.6 .6-1.6 .6-2.1 .5-4.5 .5-2.9 .6-1.9 .4-4.6 .6-2.4 .5-4.1 .5-4.6 .6-2.2 .5-4.2 .2-3 .3-.8 .3-1.6 .2-2.9 .3-2 .2-1.9 .3-3 .3 1.5 .3-1.9 .3-2.8 .3-.9 .2-2.5 .3-1.5 .2-3.7 .3-2.3 .3-.3 .2-4.7 .3-1.4 .3 .7 .3-2.3 .3-2.1 .2-2.7 .3-2 .3-1.3 .3-2.1 .2-1.7 .3-2.3 .4 0 .2-2.4 .4-.2 .2-2.5 .3-.9 .3-1.9 .4 1.2 .3-2.1 .2-5.7 .3 .3 .3 0 .3-3.5 .2-4.1 .4-.2 .3 1.8 .3-2.1 .4 .3 .3-2.7 .2-4.6 .3-2.1 .3 1 .4 1.3 .4 .4 .2-5.4 .3-.7 .3-1 .4-1.2 .2-4.4 .4 2.9 .3-2 .3-1.6 .3-2.6 .4 2.1 .3-.8 .3-2.3 .4 .5 .4 1.2 .3-2.4 .3-.2 .4 .9 .4 .8 .3-1.6 .3-1 .3-2.9 .3-1.1 .6 7.3 .2-6 .3 .3 .4-.8 .3-1.3 .4 2.7 .5 3.4 .2-6.3 .4 .9 .3-1.7 .3 .3 .4 1.4 .3-2 .4 1.9 .4-1.3 .4 2.5 .3-2 .4 .1 .4 2.2 .3-1.1 .3-2.9 .5 4.6 .4 1.9 .2-5 .4-.8 .4 4.1 .4 0 .4 0 .4 2.7 .3-1.8 .4 2.9 .5 4.7 .3-3.1 .3-.5 .4-2.3 .4 4.7 .4 1.9 .4-.6 .4 1.3 .4 1.8 .3-2.4 .4 2.4 .4 3.2 .4-.7 .3-.3 .5 5.3 .4 1.4 .3-1.3 .4 1.6 .4 1.9 .4 .3 .4 2.7 .3-4.4 .4 3.9 .4 .7 .4 3.3 .4-.7 .5 6.4 .3-1.8 .4-.4 .4 2.9 .4 .3 .4 4.5 .3-1.5 .4 .3 .4 1 .4 2.2 .4 2.1 .4-1.6 .4 4.4 .4 .8 .4 .6 .3 .7 .4 .8 .4 3 .4-.6 .4 1.4 .4 3.6 .4-1 .4 3.1 .3-1.6 .4 1 .5 5.1 .4 2.4 .3-.1 .4 .7 .4 1.2 .4 1.8 .4-.7 .4 2.7 .4 1.1 .4 4.3 .3-1.1 .4 2.4 .4 1 .4 1.6 .4 .1 .4 4.2 .4-.5 .4 3.9 .4-1 .4 1.8 .3-.1 .4 2.9 .4 .9 .4 2.5 .4 .4 .4 1.4 .4 1.6 .4 1.4 .4 .9 .4 2.4 .4 .5 .3 .4 .4 1.6 .4 1.7 .4 3.1 .4 .9 .4 1.5 .4 .6 .4 1 .4 .6 .3 2.2 .4 1.3 .4 .2 .4 2.2 .8 3.6 .8 .8 .7 3.1 .8 1.1 .8 1.1 .8 2 .7 2.6 .8 1.6 .8 2.5 .8 .9 .7 2.5 .8 2.5 .8 1.8 .8 1.6 .7 2.8 .8 1.2 .8 1.2 .8 2.8 .7 .7 .8 2 .8 2.4 .8 1 .8 2.1 .7 .4 .8 2.2 .8 .9 .8 1.5 .8 .2 .7 2 .8 1.6 .8 .5 .8 2.6 .8 .5 .8 1.5 .8 1.4 .8 .9 .7 2.1 .8 0 .8 1.8 .8 1.2 .8 1.2 .8 1.3 .8-.1 .8 2.5 .8 1.6 .8 .9 .8 2.3 .8-.4 .8 1.6 .8 1 .8 1.4 .8 .5 .8 .5 .8 2.4 .8 .2 .8 1.2 .8 1 .8 1.2 .8 .6 .8 .7 .8 1.6 .8 1.8 .9-.6 .8 1.3 .8-.1 .8 1.6 .8 .5 .8 2 .9-.5 .8 .9 .8 .4 .9 1.2 .8 .8 .8 .9 .8 1.9 .9-.5 .8 1.1 .8 .8 .9 .6 .8 1.1 .8 .5 .9 .6 .8 .5 .9 .2 .8 1.1 .8 .5 .9 1.2 .8-.6 .9 .8 .8 .8 .9 1.4 .8-.2 .9 1.3 .8 .1 .9 .7 .8 .7 .9-.1 .9-.2 .8 1.7 .9-.2 .9 1 .8 .6 .9 .3 .9 .5 .8 1.1 .9 .8 .9 .3 .8 1.5 .9 .6 .9-.5 .9 0 .9 .7 .9 .6 .8 .6 .9 .5 .9 .2 .9 .4 .9 .6 .9 .3 .9 .2"/>
<path d="M478.8 626.8l.6-.2 .5-.6 .6-1 .5-1.1 .6-.3 .6-.6 .6-1.6 .5-2 .6-.6 .5-2.6 .5-2.3 .5-1.6 .6-1.8 .5-2.1 .5-3.3 .5-2 .6-2.1 .5-2.7 .5-2.2 .5-2.9 .5-3.7 .6-2.5 .5-3 .5-3.3 .5-2.6 .5-3.9 .5-2.6 .6-2.8 .4-5.3 .5-3.5 .5-3.7 .3-1.3 .2-2.7 .3-2 .3-1.4 .2-2 .3-1.5 .2-2.4 .3-3.2 .3-.3 .2-3.6 .3 0 .2-2.4 .2-5.6 .4 2.4 .2-4.3 .3-.1 .2-3.2 .3-2.2 .2-2.3 .3-.9 .3-1.3 .2-5.6 .3 .1 .3-1.9 .3-.1 .3-1.5 .2-3.9 .2-2.9 .4 1.2 .3-.7 .2-4.2 .4 .7 .3-2.8 .3 .7 .3-3.1 .3-.4 .3-2.2 .3-1 .2-3.3 .3-.8 .3-2.5 .3-.5 .2-4.2 .4 1.5 .3-2.1 .2-3.8 .4 .2 .3 .2 .3-1.6 .3-.7 .3-4.5 .3 .7 .3-1.1 .4 1.8 .2-5.5 .3-1.1 .3-1.7 .5 3.5 .2-5.4 .4 2.5 .3-2.8 .3-.4 .3-2.2 .5 3.8 .2-3.5 .3-1.8 .3-2.8 .5 3.8 .3-1.8 .3-2.3 .4 3.3 .4-.6 .3-1 .3-3.1 .4 3.2 .3-1.6 .4 1.1 .3-1.5 .3-3.6 .4 2.1 .4 .1 .4 1.9 .3 .4 .3-3.4 .3-.8 .5 4.3 .3-1 .4 .4 .4 0 .3-2.3 .5 4.4 .2-4.3 .4-.6 .5 6.5 .3-2.7 .4 1.1 .4 2 .2-5.8 .4 1.5 .5 4.7 .4 .5 .3-.8 .3-1.6 .4 1.1 .4 2.5 .5 3.5 .4 1.9 .3-2.4 .4-.5 .3 .4 .4-.3 .5 4 .4 1.1 .3-1.5 .4 3.6 .4-.9 .5 7.2 .3-5.7 .4 2.9 .4 1 .4 .2 .4 2.7 .4 4 .4-.7 .3-2.6 .5 4.5 .4 1.1 .4 2.1 .4 .7 .4 2.1 .4 2.1 .3-.4 .5 2.4 .4 2.1 .3-2.4 .4 3.5 .4 .5 .4-.7 .4 1.2 .4 4.7 .4-.2 .4 2 .4 2.3 .4-.2 .4 2.4 .4 1.6 .4 .2 .4 .9 .4 .8 .4 2.4 .4-.2 .4 3.3 .4 1.4 .4-.2 .4 3.5 .4-.3 .4 1.1 .4 3.1 .4 1.6 .4 .6 .4 .9 .4 2.7 .4 1.4 .4 2.9 .4-.6 .3 1 .4 1.4 .5 2.7 .4 .8 .3 .5 .4 2.2 .5 2.1 .4 1.6 .3 .9 .4 1.6 .4 2 .4 .2 .4 2.3 .4 .7 .4 2.4 .4-.1 .4 2.4 .4 2 .4 1.5 .4-.8 .4 2.6 .4 .9 .4 2.6 .4 1.2 .4 1.5 .4 .7 .4 1.8 .4 .9 .4 2.5 .4-1.3 .4 4 .3-3.1 .5 4.6 .7 1.8 .8 3.4 .8 1.4 .8 2.5 .8 2.9 .8 1.6 .8 2 .7 .5 .8 2.9 .8 2.2 .8 2.1 .8 2.4 .8 2.1 .8 2.4 .8 2.1 .7 1 .8 1.9 .8 1.9 .8 1.3 .8 1.7 .8 1.7 .8 1 .8 3.4 .7 0 .8 3 .8-.3 .8 1.4 .8 1.9 .8 1.4 .8 1 .8 1.9 .8 1.3 .8 .8 .8 3 .8-.1 .8 1.2 .8 1.1 .8 1.5 .8 2.3 .8-.2 .8 2.4 .8 1.9 .8-.1 .8 1.2 .8 1.1 .8 1 .8 .8 .8 1.4 .8 2.4 .8 .2 .8 1.2 .8 1.5 .8 1 .8 1.3 .8 .6 .8 1.9 .9 1.7 .8-.1 .8 1.3 .8 .7 .8 .3 .8 1.8 .9 .2 .8 1.4 .8 .8 .8 .6 .9 .9 .8 .2 .8 1.6 .9 .4 .8 .9 .8 .9 .8 .4 .9 .7 .8 1.1 .9 .5 .8 1.4 .8 .2 .9 .9 .8 1.1 .9 .2 .8 1.6 .8 .7 .9 .8 .8-.1 .9 1.4 .8-.4 .9 1.6 .8 .2 .9 .4 .9 .3 .8 1.2 .9-.1 .8 .4 .9 1 .9 1.3 .8-.8 .9 1.2 .9 .7 .8 .2 .9 1.6 .9-.8 .8 1.5 .9-.1 .9 .7 .9 .9 .9 .1 .9 .5 .8 .8 .9 .4 .9 .4 .9 .9 .9 .6 .9 .1 .8 1.3 .9 .2 1-.3 .9 .5 .9 .8 .9 .2"/>
<path d="M466.8 631.1l.5-.4 .6-.5 .6-.8 .5-.9 .6-.8 .6-.5 .5-1.6 .6-1.4 .5-2.2 .5-1.9 .5-2 .5-2.2 .6-1.6 .5-2.6 .4-3 .6-2.2 .4-3.1 .5-3 .5-2.6 .6-1.6 .5-2.9 .5-3.2 .4-4.2 .6-2.8 .5-3.1 .5-2.9 .4-4.4 .5-3.7 .4-5 .5-5 .6-1 .2-1.9 .2-3.9 .3-1.9 .2-.9 .3-2.9 .2-2 .3-.7 .2-3.7 .3-.9 .2-2.7 .2-3.2 .3 .3 .2-3.9 .3-2 .2-2.9 .3 .6 .2-3.4 .4 .1 .2-3.7 .1-3.7 .3-2.7 .3-.6 .3 0 .3-1.2 .2-4.6 .3-.6 .2-3.3 .3-1.2 .3-1.6 .2-3.9 .4 3 .2-3.2 .3-3 .2-2.7 .4 2.4 .3-1.3 .3-2.8 .3 .3 .3-2.6 .1-6.1 .4 2.1 .3-.9 .3-3.2 .2-2.6 .4 .1 .2-2.9 .2-3.1 .3-1.1 .4 .6 .2-4.1 .3-2.1 .4 .8 .4 3.7 .2-6.8 .4 1.5 .2-3.7 .4 2.2 .3-.9 .3-1.1 .4-1.3 .1-5.6 .5 3.9 .3-1 .3-2 .4 2.2 .3-1.8 .4 .6 .2-4.7 .5 4.8 .3-3.3 .3-1.1 .3-2.8 .3 .6 .4 .8 .5 2.5 .1-8 .4 2 .4 1.8 .5 4.1 .3-2.3 .4 1.3 .3 0 .4-.9 .4 1.6 .3-.5 .3-1.8 .4-.4 .5 4 .2-3.8 .2-4.1 .5 4.5 .4 1.1 .4 .4 .2-6 .5 3.6 .3 .3 .4 1 .4 1.7 .3-3.9 .5 5.5 .5 4.9 .2-5.4 .4-.1 .4 2.1 .4 0 .4 1 .4 1.1 .3-2.9 .4 2.2 .5 2.9 .4 1.8 .4 2.3 .4 2.5 .4 1.3 .4 .9 .4-.9 .4 1.2 .3-.8 .5 2.3 .5 5.5 .4 .6 .3-.9 .2-4.9 .6 6.9 .3-.6 .5 1.9 .4 2.7 .4-.9 .5 6.5 .3-.6 .5 2.4 .3-2.1 .3-1.6 .5 5.9 .5 2.6 .4 1.3 .3-.5 .5 1.7 .3 .4 .5 3.1 .4 1.4 .3-1.7 .4 1.1 .4 2.3 .5 3.8 .3-2.1 .4-1.6 .5 7.7 .4-1.4 .4 2.9 .4 .5 .4 1.7 .4 .9 .4 3.3 .4 .3 .5 2.6 .3 .2 .4 1.9 .5 2.6 .4 .7 .4 2.1 .4 .4 .4 1.7 .4 1.6 .5 4.7 .3-.9 .4 2.2 .5 1.5 .3-.2 .4 1.8 .5 2.3 .3-.1 .4 1.8 .5 2.5 .4 .8 .4 .5 .4 4.6 .4 1.6 .4 1.2 .4 .8 .4 1.1 .4 .1 .4 3.4 .4-.7 .4 1.6 .4 1.4 .4 2.8 .5 2.2 .3-.5 .5 2.2 .4 2 .4 .3 .4 1.9 .4 2.4 .4 .3 .4 1.7 .4 1.7 .4 .9 .8 3.7 .8 1.8 .8 2.8 .8 1.1 .8 2.3 .8 2.1 .8 1 .8 3.2 .8 2.4 .8 1 .8 3.8 .8 .7 .8 2.4 .8 3 .8 2.2 .8 .2 .8 3.2 .8 2.1 .8 1.9 .8 1.9 .8-.3 .8 2.5 .8 1.9 .8 1.9 .8 1.4 .7 .7 .9 3.3 .8 .6 .8 1.5 .8 1.8 .8 .1 .8 2.3 .8 .3 .8 1.5 .8 2.5 .8 .2 .8 1.8 .8 1.6 .8 .5 .8 1.8 .8 1.3 .8 2.2 .8 0 .8 1.8 .8 .5 .9 2 .8 .6 .8 1.6 .8 1 .8 2.7 .8 .1 .8 1.4 .9 1.2 .8 1.6 .8 1.5 .8-.1 .8 1.4 .9 .9 .8 .6 .8 1.7 .8-.1 .9 1.3 .8 1 .8 .9 .9 0 .8 1.5 .8 .8 .8 1.7 .9 .1 .8 1.7 .8 .7 .9 .4 .8 1.2 .9 1.7 .8 .5 .8 .7 .9 .2 .8 1.4 .9 0 .8 1.2 .9 1.2 .8-.5 .9 1.5 .8 .9 .9 .7 .8 .4 .9 .8 .9 .3 .8 .3 .9 1 .8 1 .9-.3 .9 1.2 .9 .2 .8 1.9 .9-1.1 .9 1.4 .8-.2 .9 1.6 .9 .1 .9-.2 .8 .7 .9 1 .9 .4 .9 2 .9-.1 .9 .3 .8 1.5 .9-.2 .9 .1 .9 .2 .9 1.1 .9-.2 .9-.2 .9 1.9 .9 .1 .9 .5 .9 .1 .9 2.3 .9-.7"/>
<path d="M454.4 636.2l.6-.6 .6-.8 .5-1 .6-.9 .5-1.3 .5-1 .6-.6 .6-1.3 .5-2.1 .4-2.5 .6-1.9 .4-2.4 .5-2.4 .6-2.1 .5-2.2 .5-1.5 .5-3.3 .5-2.3 .4-3.1 .5-3.1 .5-3.6 .4-3.4 .6-2.2 .4-4.3 .4-3.6 .6-2 .4-5.3 .5-3.6 .5-2.8 .4-5.6 .4-4.6 .2-2.1 .3-1 .2-3.1 .2-2.4 .2-1.7 .4-.2 .1-4.2 .3-.8 .2-2.1 .2-3.8 .2-2.3 .2-2.3 .5 2.6 0-6.7 .4 1.8 .1-5.1 .4 0 .1-3.9 .2-3 .3-2 .3-.5 .4 .9 .1-4.7 .2-2.2 .3-2.8 .2-3.3 .3 .5 .2-4 .3 .7 .3-2 .2-2.9 .3-2.1 .2-1.8 .4 .7 .2-3.6 .4 1.1 0-7 .4 .5 .3-.8 .3-.2 .3-2.3 .2-3 .4-.2 .2-3.1 .3 .2 .3-1.9 .2-4.7 .4 2.3 .3-2.3 .3-.4 .2-4.2 .4 1.8 .2-2.5 .3-1.9 .4-.4 .2-2.9 .3-.4 .3-.9 .4 .4 .3-1.6 .4 .3 .3-1.2 .3-.2 .1-6.2 .4 .7 .5 3.9 .3-2.7 .2-2.6 .5 1.8 .1-4.6 .6 6.1 .3-3.4 .5 4.8 .1-8.1 .5 4 .2-2.3 .3-2.2 .5 2.3 .3 .5 .4 .3 .2-5.1 .3-.5 .6 4.7 .2-4.5 .5 4.6 .5 4 .2-3.7 .4 .4 .3-2.4 .3 .1 .5 3 .4 .4 .3-1 .6 5.7 .1-6.6 .4-.5 .4 2.6 .5 3.9 .3-2.4 .4 2.1 .4 .3 .2-4.5 .6 5 .4 1.7 .3-2.2 .5 5.4 .2-6.1 .5 3.9 .4 1.3 .4 .7 .5 4.9 .3-3.3 .4 1.2 .4 2 .5 2.9 .3-.4 .3-2 .6 5.7 .3-1.2 .4 .3 .5 5.5 .4-.3 .4-.2 .3-.6 .5 3.2 .4 3.1 .4 .3 .5 4.6 .3-2.8 .5 2.5 .4 1.7 .4 .9 .4 1.2 .5 3.6 .2-4.1 .6 7 .3-.6 .5 1.6 .5 4.2 .3-.9 .5 2.6 .4 1.9 .4 2.1 .3-1.4 .4-.3 .4 1.6 .5 2.8 .4 .6 .5 5.4 .3-2.4 .5 2.8 .3-.4 .4 1.4 .5 2.5 .4 2 .4 1.5 .4-1.3 .5 4.5 .3 .6 .4 .9 .4 .9 .6 5.3 .3-.4 .5 3.3 .4 .6 .4 .3 .4 4.8 .4-.8 .4 2 .4 .5 .5 2.6 .4 1.3 .4 2.1 .4 0 .4 1.9 .4 2 .5 5.3 .3-2.7 .5 2.9 .4 .1 .4 1.8 .4 1.2 .4 2.5 .4 .9 .5 1.9 .4 2.8 .4-.4 .4 2.6 .4 .7 .4 .6 .4 1.2 .4 2.1 .4 1.7 .5 1.7 .4 2.1 .4 .3 .4 1.6 .4 2.2 .8 1.8 .9 4 .8 1.1 .8 3 .8 2 .8 1.8 .8 1.7 .8 2.4 .8 1.6 .8 2.4 .8 .4 .9 5.7 .8 1.3 .8 1.3 .8 1.6 .8 3 .8 1.4 .8 2.7 .8 1.1 .8 2.5 .8 2.2 .8 .8 .8 1.8 .9 1.4 .8 1.8 .8 2.2 .8 .8 .8 1.6 .8 1.9 .8 1.3 .8 1 .8 1.4 .8 2 .9 1.5 .8 1.2 .8 1.4 .8 1.1 .8 .3 .8 2.5 .8 2.1 .8-.5 .9 2.1 .8 1.5 .8 .8 .8 1.8 .8 .1 .9 2.2 .8 1.3 .8 1.4 .8 .9 .8 1.6 .9 1.3 .8 1.1 .8 1.6 .8 .3 .9 .9 .8 2.3 .8 .7 .9 .6 .8 1.8 .8 .7 .9 .3 .8 1.1 .8 .7 .9 2 .8-.7 .8 1.4 .9 1 .8-.1 .9 1.4 .8 2.2 .9-.8 .8 2.2 .8 .7 .9 1.4 .8-.4 .9 1.6 .8 .5 .9 .6 .8 1.2 .9 1.8 .9-1.1 .8 1.7 .9 1.3 .8 .1 .9 .6 .9 .8 .8 .4 .9 .4 .9-.1 .8 1.1 .9 1 .9-.5 .8 1.6 .9-.6 .9 1.8 .9 1.4 .9-1 .8 1.4 .9 .7 .9 .5 .9 .5 .9 .4 .9 .9 .8 1.3 .9-.3 .9 .5 .9 1 .9 .3 .9 .4 .9 1.7 .9 .7 .9-.1 .9-.3 .9 1.7 .9-.8 .9 1.4 1 0 .9 1 .9 .6"/>
<path d="M441.7 639.8l.5-.3 .6-.7 .5-1 .6-.4 .6-.2 .5-1.2 .5-1.4 .5-2.1 .6-1.1 .5-2.2 .4-3 .5-2.4 .5-.9 .5-2.5 .5-3 .4-2.7 .5-2.3 .5-2.3 .4-4.9 .5-2 .4-3.7 .5-2.9 .5-3.3 .5-2 .4-5 .4-3.6 .5-3.9 .4-3.3 .5-3.8 .3-5.2 .4-4.8 .2-2.4 .3-1.4 .3-.4 .2-3.3 .2-2 .2-1.9 .3-1.7 .1-3.9 .3-.8 .2-2.9 .2-2.7 .3-.7 .2-2.7 .2-1.7 .1-4.2 .4 0 .2-1.2 .1-5.1 .5 2.1 -.1-7.1 .3-.9 .3-2.2 .2-2.2 .2-1.7 .3-2.6 .4 2.2 .1-5.1 .3-.5 .3-.6 .2-2.6 .2-2.9 .3-2.4 .3 .1 .3-1.3 .1-5.7 .3-.4 .4 .7 .2-1.8 .2-3.5 .2-3.1 .4 .6 .2-2.5 .2-3.7 .5 2.8 .1-4.7 .3-.9 .4 .1 .1-3.9 .3-2.6 .3 .9 .4-.9 .1-5.1 .4 1.1 .4 1 .2-3.6 .2-2 .4 .8 .5 2.5 .2-3.9 .3 .2 .1-7 .5 4.3 .1-6.6 .5 3.1 .3-.7 .3-1 .2-3.6 .6 5.7 .3-1.9 .3-.7 .3-2 .4 1.8 .3-2.1 .3-2.2 .4 2.7 .2-4.4 .5 2.8 .3 .1 .3-2.2 .4 2 .3-2 .5 2.4 .4 1.3 .2-3.8 .3-1 .5 1.9 .2-2.2 .5 3.2 .2-6 .6 6 .3-1.6 .4 1.7 .4 .7 .4 2.1 .2-5 .5 4.2 .4 1.5 .3-3.8 .4 .8 .5 4.7 .3-2.6 .3-.4 .5 2.9 .5 4.1 .3-2 .5 2.4 .4 2 .3-2.3 .4 0 .6 7.5 .3-3.1 .4 2.1 .3-1.7 .5 3.2 .5 2.8 .2-4.8 .5 4.6 .3-2 .5 3.6 .5 3.6 .5 2.4 .4 1.3 .3-1.1 .4 .5 .3-1.1 .6 6.5 .4-1.2 .3 .1 .4 .3 .5 2.2 .4 2.2 .4 1.4 .6 5.1 .3-1.1 .5 3.9 .2-4.6 .5 3.5 .5 3.5 .4 1.7 .5 1.4 .3-.1 .5 3 .4 1.1 .5 2.6 .3-1 .4 1.2 .5 4.2 .4-1.3 .4 2.7 .4-.1 .4 1.3 .5 3.8 .4-.1 .4 .8 .5 5 .4-.3 .5 3.2 .3-.8 .5 4.9 .4-2 .4 3.3 .4 .3 .4-.2 .5 4.5 .5 2.9 .4 1.9 .4-.6 .5 4.2 .4 1.9 .4-.6 .4 .5 .4 2.8 .4-.2 .4 2.3 .5 2.1 .4 1.9 .4 1.6 .4 1.5 .5 .9 .4 2.5 .5 3.3 .4 1.8 .4 .8 .4 .4 .5 3.2 .3 .2 .5 1 .4 .6 .4 3.6 .4 1.5 .5 1.8 .4 1.4 .4 .7 .4-.3 .5 5.9 .3-1.5 .5 1.2 .4 .5 .8 2.9 .8 3.6 .9 4.1 .8 1.5 .8 1.5 .8 2.3 .8 .7 .9 3.2 .8 2.9 .8 1.6 .8 1.9 .9 3.5 .8 2.6 .8 2 .9 1.5 .8 1.9 .8 2.7 .8 1.9 .8 .9 .8 .8 .8 1.5 .9 1.9 .8 3.6 .8 1 .8 1.8 .9 1.8 .8 1.6 .8 1.2 .8 1.2 .8 1 .8 1.5 .9 2.5 .8 1.5 .8 .7 .8 1.6 .8 2.1 .9 1.1 .8 2.5 .8 .2 .8 2.2 .9 .5 .8 3.1 .8-.3 .8 2 .9 1 .8 .9 .8 1.7 .8 .1 .9 1.6 .8 2.1 .8 .2 .9 2.2 .8 1.1 .8 .4 .9 1.2 .8 2.1 .8 .8 .9 1.5 .8 .5 .9 1.6 .8 .2 .8 2.5 .9-.2 .8 .5 .9 1.4 .8 1.9 .8-.1 .9 1.6 .8 .6 .9 .6 .8 .1 .9 2 .8 1.5 .9-.6 .8 2 .9 1.2 .9 .6 .8 .9 .9 0 .8 2.6 .9 .1 .9-.1 .8 1.1 .9 .9 .9 1.6 .8-.7 .9 1.4 .9-.4 .8 2.6 .9-.7 .9 .5 .9 0 .8 1.4 .9 1 .9 .1 .9 .9 .9 .4 .8 1.7 .9-.4 .9 .5 .9 .6 .9 .7 .9-.3 .9 .6 .9 1 .9 1.2 .9-.1 .9 1.2 .9 .9 .9 .7 .9 .3 .9-.3 .9 .6 .9 .6 .9 1 .9 1 1 .1 .9 .7 .9 .9 .9-.3"/>
<path d="M622.5 601.5L622.8 572.6L623.1 602"/>
<path d="M704 610L704.3 602.1L704.6 610.5"/>
</g>
<line x1="669" y1="397.6" x2="669" y2="486.2" stroke="#aaa" stroke-width="0.9"/>
<line x1="669" y1="486.2" x2="781.6" y2="486.2" stroke="#aaa" stroke-width="0.9"/>
<line x1="669" y1="486.2" x2="669" y2="488" stroke="#555" stroke-width="0.8"/>
<line x1="675.71" y1="486.2" x2="675.71" y2="487.4" stroke="#555" stroke-width="0.8"/>
<line x1="682.42" y1="486.2" x2="682.42" y2="488" stroke="#555" stroke-width="0.8"/>
<line x1="689.13" y1="486.2" x2="689.13" y2="487.4" stroke="#555" stroke-width="0.8"/>
<line x1="695.84" y1="486.2" x2="695.84" y2="488" stroke="#555" stroke-width="0.8"/>
<line x1="702.55" y1="486.2" x2="702.55" y2="487.4" stroke="#555" stroke-width="0.8"/>
<line x1="709.26" y1="486.2" x2="709.26" y2="488" stroke="#555" stroke-width="0.8"/>
<line x1="715.97" y1="486.2" x2="715.97" y2="487.4" stroke="#555" stroke-width="0.8"/>
<line x1="722.68" y1="486.2" x2="722.68" y2="488" stroke="#555" stroke-width="0.8"/>
<line x1="729.39" y1="486.2" x2="729.39" y2="487.4" stroke="#555" stroke-width="0.8"/>
<line x1="736.1" y1="486.2" x2="736.1" y2="488" stroke="#555" stroke-width="0.8"/>
<line x1="742.81" y1="486.2" x2="742.81" y2="487.4" stroke="#555" stroke-width="0.8"/>
<line x1="749.52" y1="486.2" x2="749.52" y2="488" stroke="#555" stroke-width="0.8"/>
<line x1="756.23" y1="486.2" x2="756.23" y2="487.4" stroke="#555" stroke-width="0.8"/>
<line x1="762.94" y1="486.2" x2="762.94" y2="488" stroke="#555" stroke-width="0.8"/>
<line x1="769.65" y1="486.2" x2="769.65" y2="487.4" stroke="#555" stroke-width="0.8"/>
<line x1="776.36" y1="486.2" x2="776.36" y2="488" stroke="#555" stroke-width="0.8"/>
<line x1="669" y1="477.9" x2="667.7" y2="477.9" stroke="#777" stroke-width="0.8"/>
<line x1="669" y1="468.8" x2="667.7" y2="468.8" stroke="#777" stroke-width="0.8"/>
<line x1="669" y1="459.7" x2="667.7" y2="459.7" stroke="#777" stroke-width="0.8"/>
<line x1="669" y1="450.6" x2="667.7" y2="450.6" stroke="#777" stroke-width="0.8"/>
<line x1="669" y1="441.5" x2="667.7" y2="441.5" stroke="#777" stroke-width="0.8"/>
<line x1="669" y1="432.4" x2="667.7" y2="432.4" stroke="#777" stroke-width="0.8"/>
<line x1="669" y1="423.3" x2="667.7" y2="423.3" stroke="#777" stroke-width="0.8"/>
<line x1="669" y1="414.2" x2="667.7" y2="414.2" stroke="#777" stroke-width="0.8"/>
<line x1="669" y1="405.1" x2="667.7" y2="405.1" stroke="#777" stroke-width="0.8"/>
<text x="669" y="497.3" font-size="9.6" text-anchor="middle">38</text>
<text x="682.42" y="497.3" font-size="9.6" text-anchor="middle">40</text>
<text x="695.84" y="497.3" font-size="9.6" text-anchor="middle">42</text>
<text x="709.26" y="497.3" font-size="9.6" text-anchor="middle">44</text>
<text x="722.68" y="497.3" font-size="9.6" text-anchor="middle">46</text>
<text x="736.1" y="497.3" font-size="9.6" text-anchor="middle">48</text>
<text x="749.52" y="497.3" font-size="9.6" text-anchor="middle">50</text>
<text x="762.94" y="497.3" font-size="9.6" text-anchor="middle">52</text>
<text x="776.36" y="497.3" font-size="9.6" text-anchor="middle">54</text>
<polyline points="681.9,428.2 688.7,432.3 695.6,440.2 702.4,457.1 709,459.1 715.8,464.5 722.6,470.3 729.5,468.3 736,474.4 742.8,479.5 749.7,450.3 756.5,427.9 763.3,418.9 769.9,414.8 776.7,416.2" fill="none" stroke="#666" stroke-width="0.55"/>
<rect x="680.3" y="426.6" width="3.2" height="3.2" fill="#000"/>
<rect x="687.1" y="430.7" width="3.2" height="3.2" fill="#000"/>
<rect x="694" y="438.6" width="3.2" height="3.2" fill="#000"/>
<rect x="700.8" y="455.5" width="3.2" height="3.2" fill="#000"/>
<rect x="707.4" y="457.5" width="3.2" height="3.2" fill="#000"/>
<rect x="714.2" y="462.9" width="3.2" height="3.2" fill="#000"/>
<rect x="721" y="468.7" width="3.2" height="3.2" fill="#000"/>
<rect x="727.9" y="466.7" width="3.2" height="3.2" fill="#000"/>
<rect x="734.4" y="472.8" width="3.2" height="3.2" fill="#000"/>
<rect x="741.2" y="477.9" width="3.2" height="3.2" fill="#000"/>
<rect x="748.1" y="448.7" width="3.2" height="3.2" fill="#000"/>
<rect x="754.9" y="426.3" width="3.2" height="3.2" fill="#000"/>
<rect x="761.7" y="417.3" width="3.2" height="3.2" fill="#000"/>
<rect x="768.3" y="413.2" width="3.2" height="3.2" fill="#000"/>
<rect x="775.1" y="414.6" width="3.2" height="3.2" fill="#000"/>
<text x="726.2" y="505.5" font-size="9.6" text-anchor="middle">Temperature (<tspan font-size="6" dy="-4">o</tspan><tspan dy="4">C)</tspan></text>
<text x="664.3" y="426.8" font-size="9.6" text-anchor="middle" transform="rotate(-90 664.3 426.8)">Intensity (a.u.)</text>
</g>
</svg></body></html>
